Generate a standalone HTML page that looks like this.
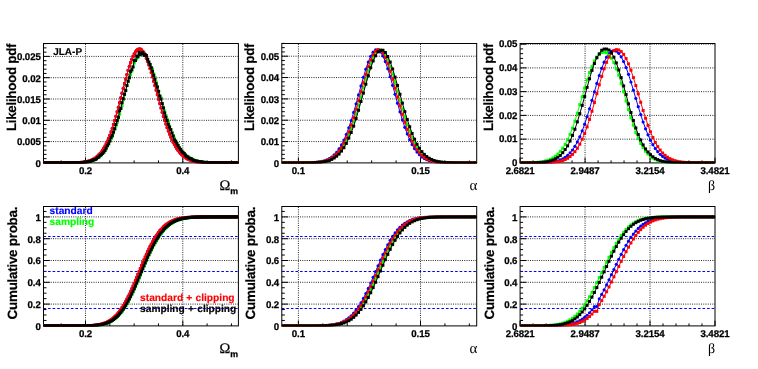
<!DOCTYPE html><html><head><meta charset="utf-8"><title>JLA-P likelihoods</title>
<style>html,body{margin:0;padding:0;background:#fff}body{width:758px;height:369px;overflow:hidden}svg{display:block;will-change:transform;text-rendering:geometricPrecision;font-family:"Liberation Sans",sans-serif}</style></head><body>
<svg width="758" height="369" viewBox="0 0 758 369">
<rect width="758" height="369" fill="#fff"/>
<g stroke="#2a2a2a" stroke-width="1" stroke-dasharray="1 1.25" fill="none">
<path d="M85.5 162V43.5"/>
<path d="M182.8 162V43.5"/>
<path d="M44 141.6H238.4"/>
<path d="M44 120.3H238.4"/>
<path d="M44 99H238.4"/>
<path d="M44 77.7H238.4"/>
<path d="M44 56.4H238.4"/>
</g>
<rect x="43.5" y="43.5" width="194.9" height="119.4" fill="none" stroke="#000" stroke-width="1"/>
<path d="M61.18 162.9v-2.5M85.5 162.9v-5.2M109.82 162.9v-2.5M134.15 162.9v-2.5M158.48 162.9v-2.5M182.8 162.9v-5.2M207.12 162.9v-2.5M231.45 162.9v-2.5M43.5 162.9h6.3M43.5 158.64h3M43.5 154.38h3M43.5 150.12h3M43.5 145.86h3M43.5 141.6h6.3M43.5 137.34h3M43.5 133.08h3M43.5 128.82h3M43.5 124.56h3M43.5 120.3h6.3M43.5 116.04h3M43.5 111.78h3M43.5 107.52h3M43.5 103.26h3M43.5 99h6.3M43.5 94.74h3M43.5 90.48h3M43.5 86.22h3M43.5 81.96h3M43.5 77.7h6.3M43.5 73.44h3M43.5 69.18h3M43.5 64.92h3M43.5 60.66h3M43.5 56.4h6.3M43.5 52.14h3M43.5 47.88h3M43.5 43.62h3" stroke="#000" stroke-width="1" fill="none"/>
<g font-size="9.7" font-weight="bold" letter-spacing="-0.12" stroke="#000" stroke-width="0.25">
<text x="85.5" y="174.2" text-anchor="middle">0.2</text>
<text x="182.8" y="174.2" text-anchor="middle">0.4</text>
<text x="40.7" y="166.7" text-anchor="end">0</text>
<text x="40.7" y="145.4" text-anchor="end">0.005</text>
<text x="40.7" y="124.1" text-anchor="end">0.01</text>
<text x="40.7" y="102.8" text-anchor="end">0.015</text>
<text x="40.7" y="81.5" text-anchor="end">0.02</text>
<text x="40.7" y="60.2" text-anchor="end">0.025</text>
</g>
<text transform="translate(15.5 43.8) rotate(-90)" text-anchor="end" font-size="13.4" font-weight="bold" letter-spacing="-0.3" stroke="#000" stroke-width="0.2">Likelihood pdf</text>
<text x="219.6" y="190.1" font-family="Liberation Serif" font-size="14.5" stroke="#000" stroke-width="0.25">Ω</text>
<text x="230.2" y="193.9" font-size="8.8" font-weight="bold" stroke="#000" stroke-width="0.25">m</text>
<clipPath id="c00"><rect x="43" y="40.5" width="195.9" height="123.1"/></clipPath><g clip-path="url(#c00)">
<path d="M44.11 162.9L45.33 162.9L46.55 162.9L47.76 162.9L48.98 162.9L50.2 162.9L51.42 162.9L52.64 162.9L53.85 162.9L55.07 162.9L56.29 162.9L57.51 162.9L58.73 162.9L59.94 162.9L61.16 162.89L62.38 162.89L63.6 162.89L64.82 162.89L66.04 162.88L67.25 162.88L68.47 162.87L69.69 162.86L70.91 162.84L72.13 162.83L73.34 162.8L74.56 162.77L75.78 162.74L77 162.69L78.22 162.63L79.43 162.56L80.65 162.47L81.87 162.36L83.09 162.23L84.31 162.07L85.53 161.87L86.74 161.63L87.96 161.33L89.18 160.99L90.4 160.58L91.62 160.09L92.83 159.51L94.05 158.84L95.27 158.06L96.49 157.15L97.71 156.11L98.92 154.91L100.14 153.55L101.36 152.01L102.58 150.28L103.8 148.35L105.02 146.19L106.23 143.81L107.45 141.2L108.67 138.34L109.89 135.24L111.11 131.9L112.32 128.32L113.54 124.51L114.76 120.49L115.98 116.26L117.2 111.87L118.41 107.32L119.63 102.66L120.85 97.92L122.07 93.14L123.29 88.37L124.51 83.66L125.72 79.05L126.94 74.59L128.16 70.34L129.38 66.35L130.6 62.67L131.81 59.35L133.03 56.43L134.25 53.94L135.47 51.94L136.69 50.43L137.9 49.45L139.12 49.01L140.34 49.16L141.56 49.94L142.78 51.28L144 53.14L145.21 55.46L146.43 58.21L147.65 61.35L148.87 64.82L150.09 68.59L151.3 72.59L152.52 76.79L153.74 81.14L154.96 85.59L156.18 90.1L157.39 94.63L158.61 99.13L159.83 103.57L161.05 107.93L162.27 112.17L163.49 116.27L164.7 120.2L165.92 123.96L167.14 127.52L168.36 130.88L169.58 134.04L170.79 136.98L172.01 139.71L173.23 142.24L174.45 144.55L175.67 146.68L176.88 148.6L178.1 150.35L179.32 151.93L180.54 153.34L181.76 154.6L182.98 155.72L184.19 156.72L185.41 157.59L186.63 158.36L187.85 159.03L189.07 159.62L190.28 160.12L191.5 160.56L192.72 160.94L193.94 161.26L195.16 161.53L196.37 161.76L197.59 161.96L198.81 162.12L200.03 162.26L201.25 162.38L202.47 162.47L203.68 162.55L204.9 162.62L206.12 162.67L207.34 162.72L208.56 162.75L209.77 162.78L210.99 162.81L212.21 162.83L213.43 162.84L214.65 162.85L215.86 162.86L217.08 162.87L218.3 162.88L219.52 162.88L220.74 162.89L221.96 162.89L223.17 162.89L224.39 162.89L225.61 162.9L226.83 162.9L228.05 162.9L229.26 162.9L230.48 162.9L231.7 162.9L232.92 162.9L234.14 162.9L235.35 162.9L236.57 162.9L237.79 162.9" stroke="#0000ff" stroke-width="1" fill="none"/>
<g fill="#0000ff"><circle cx="44.11" cy="162.9" r="1.6"/><circle cx="45.33" cy="162.9" r="1.6"/><circle cx="46.55" cy="162.9" r="1.6"/><circle cx="47.76" cy="162.9" r="1.6"/><circle cx="48.98" cy="162.9" r="1.6"/><circle cx="50.2" cy="162.9" r="1.6"/><circle cx="51.42" cy="162.9" r="1.6"/><circle cx="52.64" cy="162.9" r="1.6"/><circle cx="53.85" cy="162.9" r="1.6"/><circle cx="55.07" cy="162.9" r="1.6"/><circle cx="56.29" cy="162.9" r="1.6"/><circle cx="57.51" cy="162.9" r="1.6"/><circle cx="58.73" cy="162.9" r="1.6"/><circle cx="59.94" cy="162.9" r="1.6"/><circle cx="61.16" cy="162.89" r="1.6"/><circle cx="62.38" cy="162.89" r="1.6"/><circle cx="63.6" cy="162.89" r="1.6"/><circle cx="64.82" cy="162.89" r="1.6"/><circle cx="66.04" cy="162.88" r="1.6"/><circle cx="67.25" cy="162.88" r="1.6"/><circle cx="68.47" cy="162.87" r="1.6"/><circle cx="69.69" cy="162.86" r="1.6"/><circle cx="70.91" cy="162.84" r="1.6"/><circle cx="72.13" cy="162.83" r="1.6"/><circle cx="73.34" cy="162.8" r="1.6"/><circle cx="74.56" cy="162.77" r="1.6"/><circle cx="75.78" cy="162.74" r="1.6"/><circle cx="77" cy="162.69" r="1.6"/><circle cx="78.22" cy="162.63" r="1.6"/><circle cx="79.43" cy="162.56" r="1.6"/><circle cx="80.65" cy="162.47" r="1.6"/><circle cx="81.87" cy="162.36" r="1.6"/><circle cx="83.09" cy="162.23" r="1.6"/><circle cx="84.31" cy="162.07" r="1.6"/><circle cx="85.53" cy="161.87" r="1.6"/><circle cx="86.74" cy="161.63" r="1.6"/><circle cx="87.96" cy="161.33" r="1.6"/><circle cx="89.18" cy="160.99" r="1.6"/><circle cx="90.4" cy="160.58" r="1.6"/><circle cx="91.62" cy="160.09" r="1.6"/><circle cx="92.83" cy="159.51" r="1.6"/><circle cx="94.05" cy="158.84" r="1.6"/><circle cx="95.27" cy="158.06" r="1.6"/><circle cx="96.49" cy="157.15" r="1.6"/><circle cx="97.71" cy="156.11" r="1.6"/><circle cx="98.92" cy="154.91" r="1.6"/><circle cx="100.14" cy="153.55" r="1.6"/><circle cx="101.36" cy="152.01" r="1.6"/><circle cx="102.58" cy="150.28" r="1.6"/><circle cx="103.8" cy="148.35" r="1.6"/><circle cx="105.02" cy="146.19" r="1.6"/><circle cx="106.23" cy="143.81" r="1.6"/><circle cx="107.45" cy="141.2" r="1.6"/><circle cx="108.67" cy="138.34" r="1.6"/><circle cx="109.89" cy="135.24" r="1.6"/><circle cx="111.11" cy="131.9" r="1.6"/><circle cx="112.32" cy="128.32" r="1.6"/><circle cx="113.54" cy="124.51" r="1.6"/><circle cx="114.76" cy="120.49" r="1.6"/><circle cx="115.98" cy="116.26" r="1.6"/><circle cx="117.2" cy="111.87" r="1.6"/><circle cx="118.41" cy="107.32" r="1.6"/><circle cx="119.63" cy="102.66" r="1.6"/><circle cx="120.85" cy="97.92" r="1.6"/><circle cx="122.07" cy="93.14" r="1.6"/><circle cx="123.29" cy="88.37" r="1.6"/><circle cx="124.51" cy="83.66" r="1.6"/><circle cx="125.72" cy="79.05" r="1.6"/><circle cx="126.94" cy="74.59" r="1.6"/><circle cx="128.16" cy="70.34" r="1.6"/><circle cx="129.38" cy="66.35" r="1.6"/><circle cx="130.6" cy="62.67" r="1.6"/><circle cx="131.81" cy="59.35" r="1.6"/><circle cx="133.03" cy="56.43" r="1.6"/><circle cx="134.25" cy="53.94" r="1.6"/><circle cx="135.47" cy="51.94" r="1.6"/><circle cx="136.69" cy="50.43" r="1.6"/><circle cx="137.9" cy="49.45" r="1.6"/><circle cx="139.12" cy="49.01" r="1.6"/><circle cx="140.34" cy="49.16" r="1.6"/><circle cx="141.56" cy="49.94" r="1.6"/><circle cx="142.78" cy="51.28" r="1.6"/><circle cx="144" cy="53.14" r="1.6"/><circle cx="145.21" cy="55.46" r="1.6"/><circle cx="146.43" cy="58.21" r="1.6"/><circle cx="147.65" cy="61.35" r="1.6"/><circle cx="148.87" cy="64.82" r="1.6"/><circle cx="150.09" cy="68.59" r="1.6"/><circle cx="151.3" cy="72.59" r="1.6"/><circle cx="152.52" cy="76.79" r="1.6"/><circle cx="153.74" cy="81.14" r="1.6"/><circle cx="154.96" cy="85.59" r="1.6"/><circle cx="156.18" cy="90.1" r="1.6"/><circle cx="157.39" cy="94.63" r="1.6"/><circle cx="158.61" cy="99.13" r="1.6"/><circle cx="159.83" cy="103.57" r="1.6"/><circle cx="161.05" cy="107.93" r="1.6"/><circle cx="162.27" cy="112.17" r="1.6"/><circle cx="163.49" cy="116.27" r="1.6"/><circle cx="164.7" cy="120.2" r="1.6"/><circle cx="165.92" cy="123.96" r="1.6"/><circle cx="167.14" cy="127.52" r="1.6"/><circle cx="168.36" cy="130.88" r="1.6"/><circle cx="169.58" cy="134.04" r="1.6"/><circle cx="170.79" cy="136.98" r="1.6"/><circle cx="172.01" cy="139.71" r="1.6"/><circle cx="173.23" cy="142.24" r="1.6"/><circle cx="174.45" cy="144.55" r="1.6"/><circle cx="175.67" cy="146.68" r="1.6"/><circle cx="176.88" cy="148.6" r="1.6"/><circle cx="178.1" cy="150.35" r="1.6"/><circle cx="179.32" cy="151.93" r="1.6"/><circle cx="180.54" cy="153.34" r="1.6"/><circle cx="181.76" cy="154.6" r="1.6"/><circle cx="182.98" cy="155.72" r="1.6"/><circle cx="184.19" cy="156.72" r="1.6"/><circle cx="185.41" cy="157.59" r="1.6"/><circle cx="186.63" cy="158.36" r="1.6"/><circle cx="187.85" cy="159.03" r="1.6"/><circle cx="189.07" cy="159.62" r="1.6"/><circle cx="190.28" cy="160.12" r="1.6"/><circle cx="191.5" cy="160.56" r="1.6"/><circle cx="192.72" cy="160.94" r="1.6"/><circle cx="193.94" cy="161.26" r="1.6"/><circle cx="195.16" cy="161.53" r="1.6"/><circle cx="196.37" cy="161.76" r="1.6"/><circle cx="197.59" cy="161.96" r="1.6"/><circle cx="198.81" cy="162.12" r="1.6"/><circle cx="200.03" cy="162.26" r="1.6"/><circle cx="201.25" cy="162.38" r="1.6"/><circle cx="202.47" cy="162.47" r="1.6"/><circle cx="203.68" cy="162.55" r="1.6"/><circle cx="204.9" cy="162.62" r="1.6"/><circle cx="206.12" cy="162.67" r="1.6"/><circle cx="207.34" cy="162.72" r="1.6"/><circle cx="208.56" cy="162.75" r="1.6"/><circle cx="209.77" cy="162.78" r="1.6"/><circle cx="210.99" cy="162.81" r="1.6"/><circle cx="212.21" cy="162.83" r="1.6"/><circle cx="213.43" cy="162.84" r="1.6"/><circle cx="214.65" cy="162.85" r="1.6"/><circle cx="215.86" cy="162.86" r="1.6"/><circle cx="217.08" cy="162.87" r="1.6"/><circle cx="218.3" cy="162.88" r="1.6"/><circle cx="219.52" cy="162.88" r="1.6"/><circle cx="220.74" cy="162.89" r="1.6"/><circle cx="221.96" cy="162.89" r="1.6"/><circle cx="223.17" cy="162.89" r="1.6"/><circle cx="224.39" cy="162.89" r="1.6"/><circle cx="225.61" cy="162.9" r="1.6"/><circle cx="226.83" cy="162.9" r="1.6"/><circle cx="228.05" cy="162.9" r="1.6"/><circle cx="229.26" cy="162.9" r="1.6"/><circle cx="230.48" cy="162.9" r="1.6"/><circle cx="231.7" cy="162.9" r="1.6"/><circle cx="232.92" cy="162.9" r="1.6"/><circle cx="234.14" cy="162.9" r="1.6"/><circle cx="235.35" cy="162.9" r="1.6"/><circle cx="236.57" cy="162.9" r="1.6"/><circle cx="237.79" cy="162.9" r="1.6"/></g>
<path d="M44.11 162.9L45.33 162.9L46.55 162.9L47.76 162.9L48.98 162.9L50.2 162.9L51.42 162.9L52.64 162.9L53.85 162.9L55.07 162.9L56.29 162.9L57.51 162.9L58.73 162.9L59.94 162.9L61.16 162.9L62.38 162.9L63.6 162.89L64.82 162.89L66.04 162.88L67.25 162.87L68.47 162.87L69.69 162.86L70.91 162.87L72.13 162.88L73.34 162.87L74.56 162.8L75.78 162.84L77 162.79L78.22 162.72L79.43 162.64L80.65 162.71L81.87 162.6L83.09 162.5L84.31 162.38L85.53 162.2L86.74 161.96L87.96 161.77L89.18 161.29L90.4 161.11L91.62 161.1L92.83 160.72L94.05 160.06L95.27 159.5L96.49 158.59L97.71 157.88L98.92 156.93L100.14 156.07L101.36 154.78L102.58 153.45L103.8 152.11L105.02 150.17L106.23 148.93L107.45 146.03L108.67 143.83L109.89 140.36L111.11 138.8L112.32 136.48L113.54 132.87L114.76 129.22L115.98 125.88L117.2 122.3L118.41 117.79L119.63 114.22L120.85 108.28L122.07 105.57L123.29 99.64L124.51 94.77L125.72 90.61L126.94 85.38L128.16 81.71L129.38 77.08L130.6 74.44L131.81 70.95L133.03 66.84L134.25 63.06L135.47 59.51L136.69 59.08L137.9 56.61L139.12 55.26L140.34 52.83L141.56 53.6L142.78 52.1L144 54.1L145.21 55.61L146.43 57.22L147.65 60.18L148.87 63.46L150.09 64.48L151.3 67.79L152.52 68.82L153.74 73.9L154.96 77.41L156.18 82.05L157.39 86.44L158.61 91.59L159.83 95.67L161.05 97.99L162.27 103.52L163.49 107.64L164.7 110.91L165.92 115.45L167.14 119.25L168.36 121.64L169.58 126.03L170.79 129.73L172.01 132.84L173.23 135.9L174.45 138.14L175.67 140.61L176.88 143.41L178.1 145.44L179.32 147.87L180.54 149.23L181.76 150.56L182.98 152.53L184.19 153.62L185.41 154.97L186.63 155.96L187.85 156.74L189.07 157.84L190.28 158.17L191.5 158.81L192.72 159.41L193.94 160.22L195.16 160.78L196.37 160.96L197.59 161.19L198.81 161.49L200.03 161.73L201.25 161.91L202.47 162.11L203.68 162.17L204.9 162.43L206.12 162.42L207.34 162.5L208.56 162.62L209.77 162.49L210.99 162.69L212.21 162.73L213.43 162.81L214.65 162.79L215.86 162.81L217.08 162.81L218.3 162.86L219.52 162.84L220.74 162.89L221.96 162.87L223.17 162.9L224.39 162.88L225.61 162.88L226.83 162.9L228.05 162.89L229.26 162.89L230.48 162.9L231.7 162.9L232.92 162.9L234.14 162.9L235.35 162.89L236.57 162.9L237.79 162.9" stroke="#00ff00" stroke-width="1" fill="none"/>
<g fill="#00ff00"><rect x="42.61" y="161.4" width="3" height="3"/><rect x="43.83" y="161.4" width="3" height="3"/><rect x="45.05" y="161.4" width="3" height="3"/><rect x="46.26" y="161.4" width="3" height="3"/><rect x="47.48" y="161.4" width="3" height="3"/><rect x="48.7" y="161.4" width="3" height="3"/><rect x="49.92" y="161.4" width="3" height="3"/><rect x="51.14" y="161.4" width="3" height="3"/><rect x="52.35" y="161.4" width="3" height="3"/><rect x="53.57" y="161.4" width="3" height="3"/><rect x="54.79" y="161.4" width="3" height="3"/><rect x="56.01" y="161.4" width="3" height="3"/><rect x="57.23" y="161.4" width="3" height="3"/><rect x="58.44" y="161.4" width="3" height="3"/><rect x="59.66" y="161.4" width="3" height="3"/><rect x="60.88" y="161.4" width="3" height="3"/><rect x="62.1" y="161.39" width="3" height="3"/><rect x="63.32" y="161.39" width="3" height="3"/><rect x="64.54" y="161.38" width="3" height="3"/><rect x="65.75" y="161.37" width="3" height="3"/><rect x="66.97" y="161.37" width="3" height="3"/><rect x="68.19" y="161.36" width="3" height="3"/><rect x="69.41" y="161.37" width="3" height="3"/><rect x="70.63" y="161.38" width="3" height="3"/><rect x="71.84" y="161.37" width="3" height="3"/><rect x="73.06" y="161.3" width="3" height="3"/><rect x="74.28" y="161.34" width="3" height="3"/><rect x="75.5" y="161.29" width="3" height="3"/><rect x="76.72" y="161.22" width="3" height="3"/><rect x="77.93" y="161.14" width="3" height="3"/><rect x="79.15" y="161.21" width="3" height="3"/><rect x="80.37" y="161.1" width="3" height="3"/><rect x="81.59" y="161" width="3" height="3"/><rect x="82.81" y="160.88" width="3" height="3"/><rect x="84.03" y="160.7" width="3" height="3"/><rect x="85.24" y="160.46" width="3" height="3"/><rect x="86.46" y="160.27" width="3" height="3"/><rect x="87.68" y="159.79" width="3" height="3"/><rect x="88.9" y="159.61" width="3" height="3"/><rect x="90.12" y="159.6" width="3" height="3"/><rect x="91.33" y="159.22" width="3" height="3"/><rect x="92.55" y="158.56" width="3" height="3"/><rect x="93.77" y="158" width="3" height="3"/><rect x="94.99" y="157.09" width="3" height="3"/><rect x="96.21" y="156.38" width="3" height="3"/><rect x="97.42" y="155.43" width="3" height="3"/><rect x="98.64" y="154.57" width="3" height="3"/><rect x="99.86" y="153.28" width="3" height="3"/><rect x="101.08" y="151.95" width="3" height="3"/><rect x="102.3" y="150.61" width="3" height="3"/><rect x="103.52" y="148.67" width="3" height="3"/><rect x="104.73" y="147.43" width="3" height="3"/><rect x="105.95" y="144.53" width="3" height="3"/><rect x="107.17" y="142.33" width="3" height="3"/><rect x="108.39" y="138.86" width="3" height="3"/><rect x="109.61" y="137.3" width="3" height="3"/><rect x="110.82" y="134.98" width="3" height="3"/><rect x="112.04" y="131.37" width="3" height="3"/><rect x="113.26" y="127.72" width="3" height="3"/><rect x="114.48" y="124.38" width="3" height="3"/><rect x="115.7" y="120.8" width="3" height="3"/><rect x="116.91" y="116.29" width="3" height="3"/><rect x="118.13" y="112.72" width="3" height="3"/><rect x="119.35" y="106.78" width="3" height="3"/><rect x="120.57" y="104.07" width="3" height="3"/><rect x="121.79" y="98.14" width="3" height="3"/><rect x="123.01" y="93.27" width="3" height="3"/><rect x="124.22" y="89.11" width="3" height="3"/><rect x="125.44" y="83.88" width="3" height="3"/><rect x="126.66" y="80.21" width="3" height="3"/><rect x="127.88" y="75.58" width="3" height="3"/><rect x="129.1" y="72.94" width="3" height="3"/><rect x="130.31" y="69.45" width="3" height="3"/><rect x="131.53" y="65.34" width="3" height="3"/><rect x="132.75" y="61.56" width="3" height="3"/><rect x="133.97" y="58.01" width="3" height="3"/><rect x="135.19" y="57.58" width="3" height="3"/><rect x="136.4" y="55.11" width="3" height="3"/><rect x="137.62" y="53.76" width="3" height="3"/><rect x="138.84" y="51.33" width="3" height="3"/><rect x="140.06" y="52.1" width="3" height="3"/><rect x="141.28" y="50.6" width="3" height="3"/><rect x="142.5" y="52.6" width="3" height="3"/><rect x="143.71" y="54.11" width="3" height="3"/><rect x="144.93" y="55.72" width="3" height="3"/><rect x="146.15" y="58.68" width="3" height="3"/><rect x="147.37" y="61.96" width="3" height="3"/><rect x="148.59" y="62.98" width="3" height="3"/><rect x="149.8" y="66.29" width="3" height="3"/><rect x="151.02" y="67.32" width="3" height="3"/><rect x="152.24" y="72.4" width="3" height="3"/><rect x="153.46" y="75.91" width="3" height="3"/><rect x="154.68" y="80.55" width="3" height="3"/><rect x="155.89" y="84.94" width="3" height="3"/><rect x="157.11" y="90.09" width="3" height="3"/><rect x="158.33" y="94.17" width="3" height="3"/><rect x="159.55" y="96.49" width="3" height="3"/><rect x="160.77" y="102.02" width="3" height="3"/><rect x="161.99" y="106.14" width="3" height="3"/><rect x="163.2" y="109.41" width="3" height="3"/><rect x="164.42" y="113.95" width="3" height="3"/><rect x="165.64" y="117.75" width="3" height="3"/><rect x="166.86" y="120.14" width="3" height="3"/><rect x="168.08" y="124.53" width="3" height="3"/><rect x="169.29" y="128.23" width="3" height="3"/><rect x="170.51" y="131.34" width="3" height="3"/><rect x="171.73" y="134.4" width="3" height="3"/><rect x="172.95" y="136.64" width="3" height="3"/><rect x="174.17" y="139.11" width="3" height="3"/><rect x="175.38" y="141.91" width="3" height="3"/><rect x="176.6" y="143.94" width="3" height="3"/><rect x="177.82" y="146.37" width="3" height="3"/><rect x="179.04" y="147.73" width="3" height="3"/><rect x="180.26" y="149.06" width="3" height="3"/><rect x="181.48" y="151.03" width="3" height="3"/><rect x="182.69" y="152.12" width="3" height="3"/><rect x="183.91" y="153.47" width="3" height="3"/><rect x="185.13" y="154.46" width="3" height="3"/><rect x="186.35" y="155.24" width="3" height="3"/><rect x="187.57" y="156.34" width="3" height="3"/><rect x="188.78" y="156.67" width="3" height="3"/><rect x="190" y="157.31" width="3" height="3"/><rect x="191.22" y="157.91" width="3" height="3"/><rect x="192.44" y="158.72" width="3" height="3"/><rect x="193.66" y="159.28" width="3" height="3"/><rect x="194.87" y="159.46" width="3" height="3"/><rect x="196.09" y="159.69" width="3" height="3"/><rect x="197.31" y="159.99" width="3" height="3"/><rect x="198.53" y="160.23" width="3" height="3"/><rect x="199.75" y="160.41" width="3" height="3"/><rect x="200.97" y="160.61" width="3" height="3"/><rect x="202.18" y="160.67" width="3" height="3"/><rect x="203.4" y="160.93" width="3" height="3"/><rect x="204.62" y="160.92" width="3" height="3"/><rect x="205.84" y="161" width="3" height="3"/><rect x="207.06" y="161.12" width="3" height="3"/><rect x="208.27" y="160.99" width="3" height="3"/><rect x="209.49" y="161.19" width="3" height="3"/><rect x="210.71" y="161.23" width="3" height="3"/><rect x="211.93" y="161.31" width="3" height="3"/><rect x="213.15" y="161.29" width="3" height="3"/><rect x="214.36" y="161.31" width="3" height="3"/><rect x="215.58" y="161.31" width="3" height="3"/><rect x="216.8" y="161.36" width="3" height="3"/><rect x="218.02" y="161.34" width="3" height="3"/><rect x="219.24" y="161.39" width="3" height="3"/><rect x="220.46" y="161.37" width="3" height="3"/><rect x="221.67" y="161.4" width="3" height="3"/><rect x="222.89" y="161.38" width="3" height="3"/><rect x="224.11" y="161.38" width="3" height="3"/><rect x="225.33" y="161.4" width="3" height="3"/><rect x="226.55" y="161.39" width="3" height="3"/><rect x="227.76" y="161.39" width="3" height="3"/><rect x="228.98" y="161.4" width="3" height="3"/><rect x="230.2" y="161.4" width="3" height="3"/><rect x="231.42" y="161.4" width="3" height="3"/><rect x="232.64" y="161.4" width="3" height="3"/><rect x="233.85" y="161.39" width="3" height="3"/><rect x="235.07" y="161.4" width="3" height="3"/><rect x="236.29" y="161.4" width="3" height="3"/></g>
<path d="M44.11 162.9L45.33 162.9L46.55 162.9L47.76 162.9L48.98 162.9L50.2 162.9L51.42 162.9L52.64 162.9L53.85 162.9L55.07 162.9L56.29 162.9L57.51 162.9L58.73 162.9L59.94 162.9L61.16 162.89L62.38 162.89L63.6 162.89L64.82 162.89L66.04 162.88L67.25 162.88L68.47 162.87L69.69 162.86L70.91 162.84L72.13 162.83L73.34 162.8L74.56 162.77L75.78 162.74L77 162.69L78.22 162.63L79.43 162.56L80.65 162.47L81.87 162.36L83.09 162.23L84.31 162.07L85.53 161.87L86.74 161.63L87.96 161.33L89.18 160.99L90.4 160.58L91.62 160.09L92.83 159.51L94.05 158.84L95.27 158.06L96.49 157.15L97.71 156.11L98.92 154.91L100.14 153.55L101.36 152.01L102.58 150.28L103.8 148.35L105.02 146.19L106.23 143.81L107.45 141.2L108.67 138.34L109.89 135.24L111.11 131.9L112.32 128.32L113.54 124.51L114.76 120.49L115.98 116.26L117.2 111.87L118.41 107.32L119.63 102.66L120.85 97.92L122.07 93.14L123.29 88.37L124.51 83.66L125.72 79.05L126.94 74.59L128.16 70.34L129.38 66.35L130.6 62.67L131.81 59.35L133.03 56.43L134.25 53.94L135.47 51.94L136.69 50.43L137.9 49.45L139.12 49.01L140.34 49.16L141.56 49.94L142.78 51.28L144 53.14L145.21 55.46L146.43 58.21L147.65 61.35L148.87 64.82L150.09 68.59L151.3 72.59L152.52 76.79L153.74 81.14L154.96 85.59L156.18 90.1L157.39 94.63L158.61 99.13L159.83 103.57L161.05 107.93L162.27 112.17L163.49 116.27L164.7 120.2L165.92 123.96L167.14 127.52L168.36 130.88L169.58 134.04L170.79 136.98L172.01 139.71L173.23 142.24L174.45 144.55L175.67 146.68L176.88 148.6L178.1 150.35L179.32 151.93L180.54 153.34L181.76 154.6L182.98 155.72L184.19 156.72L185.41 157.59L186.63 158.36L187.85 159.03L189.07 159.62L190.28 160.12L191.5 160.56L192.72 160.94L193.94 161.26L195.16 161.53L196.37 161.76L197.59 161.96L198.81 162.12L200.03 162.26L201.25 162.38L202.47 162.47L203.68 162.55L204.9 162.62L206.12 162.67L207.34 162.72L208.56 162.75L209.77 162.78L210.99 162.81L212.21 162.83L213.43 162.84L214.65 162.85L215.86 162.86L217.08 162.87L218.3 162.88L219.52 162.88L220.74 162.89L221.96 162.89L223.17 162.89L224.39 162.89L225.61 162.9L226.83 162.9L228.05 162.9L229.26 162.9L230.48 162.9L231.7 162.9L232.92 162.9L234.14 162.9L235.35 162.9L236.57 162.9L237.79 162.9" stroke="#ff0000" stroke-width="1" fill="none"/>
<g fill="#ff0000"><rect x="42.61" y="161.4" width="3" height="3"/><rect x="43.83" y="161.4" width="3" height="3"/><rect x="45.05" y="161.4" width="3" height="3"/><rect x="46.26" y="161.4" width="3" height="3"/><rect x="47.48" y="161.4" width="3" height="3"/><rect x="48.7" y="161.4" width="3" height="3"/><rect x="49.92" y="161.4" width="3" height="3"/><rect x="51.14" y="161.4" width="3" height="3"/><rect x="52.35" y="161.4" width="3" height="3"/><rect x="53.57" y="161.4" width="3" height="3"/><rect x="54.79" y="161.4" width="3" height="3"/><rect x="56.01" y="161.4" width="3" height="3"/><rect x="57.23" y="161.4" width="3" height="3"/><rect x="58.44" y="161.4" width="3" height="3"/><rect x="59.66" y="161.39" width="3" height="3"/><rect x="60.88" y="161.39" width="3" height="3"/><rect x="62.1" y="161.39" width="3" height="3"/><rect x="63.32" y="161.39" width="3" height="3"/><rect x="64.54" y="161.38" width="3" height="3"/><rect x="65.75" y="161.38" width="3" height="3"/><rect x="66.97" y="161.37" width="3" height="3"/><rect x="68.19" y="161.36" width="3" height="3"/><rect x="69.41" y="161.34" width="3" height="3"/><rect x="70.63" y="161.33" width="3" height="3"/><rect x="71.84" y="161.3" width="3" height="3"/><rect x="73.06" y="161.27" width="3" height="3"/><rect x="74.28" y="161.24" width="3" height="3"/><rect x="75.5" y="161.19" width="3" height="3"/><rect x="76.72" y="161.13" width="3" height="3"/><rect x="77.93" y="161.06" width="3" height="3"/><rect x="79.15" y="160.97" width="3" height="3"/><rect x="80.37" y="160.86" width="3" height="3"/><rect x="81.59" y="160.73" width="3" height="3"/><rect x="82.81" y="160.57" width="3" height="3"/><rect x="84.03" y="160.37" width="3" height="3"/><rect x="85.24" y="160.13" width="3" height="3"/><rect x="86.46" y="159.83" width="3" height="3"/><rect x="87.68" y="159.49" width="3" height="3"/><rect x="88.9" y="159.08" width="3" height="3"/><rect x="90.12" y="158.59" width="3" height="3"/><rect x="91.33" y="158.01" width="3" height="3"/><rect x="92.55" y="157.34" width="3" height="3"/><rect x="93.77" y="156.56" width="3" height="3"/><rect x="94.99" y="155.65" width="3" height="3"/><rect x="96.21" y="154.61" width="3" height="3"/><rect x="97.42" y="153.41" width="3" height="3"/><rect x="98.64" y="152.05" width="3" height="3"/><rect x="99.86" y="150.51" width="3" height="3"/><rect x="101.08" y="148.78" width="3" height="3"/><rect x="102.3" y="146.85" width="3" height="3"/><rect x="103.52" y="144.69" width="3" height="3"/><rect x="104.73" y="142.31" width="3" height="3"/><rect x="105.95" y="139.7" width="3" height="3"/><rect x="107.17" y="136.84" width="3" height="3"/><rect x="108.39" y="133.74" width="3" height="3"/><rect x="109.61" y="130.4" width="3" height="3"/><rect x="110.82" y="126.82" width="3" height="3"/><rect x="112.04" y="123.01" width="3" height="3"/><rect x="113.26" y="118.99" width="3" height="3"/><rect x="114.48" y="114.76" width="3" height="3"/><rect x="115.7" y="110.37" width="3" height="3"/><rect x="116.91" y="105.82" width="3" height="3"/><rect x="118.13" y="101.16" width="3" height="3"/><rect x="119.35" y="96.42" width="3" height="3"/><rect x="120.57" y="91.64" width="3" height="3"/><rect x="121.79" y="86.87" width="3" height="3"/><rect x="123.01" y="82.16" width="3" height="3"/><rect x="124.22" y="77.55" width="3" height="3"/><rect x="125.44" y="73.09" width="3" height="3"/><rect x="126.66" y="68.84" width="3" height="3"/><rect x="127.88" y="64.85" width="3" height="3"/><rect x="129.1" y="61.17" width="3" height="3"/><rect x="130.31" y="57.85" width="3" height="3"/><rect x="131.53" y="54.93" width="3" height="3"/><rect x="132.75" y="52.44" width="3" height="3"/><rect x="133.97" y="50.44" width="3" height="3"/><rect x="135.19" y="48.93" width="3" height="3"/><rect x="136.4" y="47.95" width="3" height="3"/><rect x="137.62" y="47.51" width="3" height="3"/><rect x="138.84" y="47.66" width="3" height="3"/><rect x="140.06" y="48.44" width="3" height="3"/><rect x="141.28" y="49.78" width="3" height="3"/><rect x="142.5" y="51.64" width="3" height="3"/><rect x="143.71" y="53.96" width="3" height="3"/><rect x="144.93" y="56.71" width="3" height="3"/><rect x="146.15" y="59.85" width="3" height="3"/><rect x="147.37" y="63.32" width="3" height="3"/><rect x="148.59" y="67.09" width="3" height="3"/><rect x="149.8" y="71.09" width="3" height="3"/><rect x="151.02" y="75.29" width="3" height="3"/><rect x="152.24" y="79.64" width="3" height="3"/><rect x="153.46" y="84.09" width="3" height="3"/><rect x="154.68" y="88.6" width="3" height="3"/><rect x="155.89" y="93.13" width="3" height="3"/><rect x="157.11" y="97.63" width="3" height="3"/><rect x="158.33" y="102.07" width="3" height="3"/><rect x="159.55" y="106.43" width="3" height="3"/><rect x="160.77" y="110.67" width="3" height="3"/><rect x="161.99" y="114.77" width="3" height="3"/><rect x="163.2" y="118.7" width="3" height="3"/><rect x="164.42" y="122.46" width="3" height="3"/><rect x="165.64" y="126.02" width="3" height="3"/><rect x="166.86" y="129.38" width="3" height="3"/><rect x="168.08" y="132.54" width="3" height="3"/><rect x="169.29" y="135.48" width="3" height="3"/><rect x="170.51" y="138.21" width="3" height="3"/><rect x="171.73" y="140.74" width="3" height="3"/><rect x="172.95" y="143.05" width="3" height="3"/><rect x="174.17" y="145.18" width="3" height="3"/><rect x="175.38" y="147.1" width="3" height="3"/><rect x="176.6" y="148.85" width="3" height="3"/><rect x="177.82" y="150.43" width="3" height="3"/><rect x="179.04" y="151.84" width="3" height="3"/><rect x="180.26" y="153.1" width="3" height="3"/><rect x="181.48" y="154.22" width="3" height="3"/><rect x="182.69" y="155.22" width="3" height="3"/><rect x="183.91" y="156.09" width="3" height="3"/><rect x="185.13" y="156.86" width="3" height="3"/><rect x="186.35" y="157.53" width="3" height="3"/><rect x="187.57" y="158.12" width="3" height="3"/><rect x="188.78" y="158.62" width="3" height="3"/><rect x="190" y="159.06" width="3" height="3"/><rect x="191.22" y="159.44" width="3" height="3"/><rect x="192.44" y="159.76" width="3" height="3"/><rect x="193.66" y="160.03" width="3" height="3"/><rect x="194.87" y="160.26" width="3" height="3"/><rect x="196.09" y="160.46" width="3" height="3"/><rect x="197.31" y="160.62" width="3" height="3"/><rect x="198.53" y="160.76" width="3" height="3"/><rect x="199.75" y="160.88" width="3" height="3"/><rect x="200.97" y="160.97" width="3" height="3"/><rect x="202.18" y="161.05" width="3" height="3"/><rect x="203.4" y="161.12" width="3" height="3"/><rect x="204.62" y="161.17" width="3" height="3"/><rect x="205.84" y="161.22" width="3" height="3"/><rect x="207.06" y="161.25" width="3" height="3"/><rect x="208.27" y="161.28" width="3" height="3"/><rect x="209.49" y="161.31" width="3" height="3"/><rect x="210.71" y="161.33" width="3" height="3"/><rect x="211.93" y="161.34" width="3" height="3"/><rect x="213.15" y="161.35" width="3" height="3"/><rect x="214.36" y="161.36" width="3" height="3"/><rect x="215.58" y="161.37" width="3" height="3"/><rect x="216.8" y="161.38" width="3" height="3"/><rect x="218.02" y="161.38" width="3" height="3"/><rect x="219.24" y="161.39" width="3" height="3"/><rect x="220.46" y="161.39" width="3" height="3"/><rect x="221.67" y="161.39" width="3" height="3"/><rect x="222.89" y="161.39" width="3" height="3"/><rect x="224.11" y="161.4" width="3" height="3"/><rect x="225.33" y="161.4" width="3" height="3"/><rect x="226.55" y="161.4" width="3" height="3"/><rect x="227.76" y="161.4" width="3" height="3"/><rect x="228.98" y="161.4" width="3" height="3"/><rect x="230.2" y="161.4" width="3" height="3"/><rect x="231.42" y="161.4" width="3" height="3"/><rect x="232.64" y="161.4" width="3" height="3"/><rect x="233.85" y="161.4" width="3" height="3"/><rect x="235.07" y="161.4" width="3" height="3"/><rect x="236.29" y="161.4" width="3" height="3"/></g>
<path d="M44.11 162.9L45.33 162.9L46.55 162.9L47.76 162.9L48.98 162.9L50.2 162.9L51.42 162.9L52.64 162.89L53.85 162.9L55.07 162.9L56.29 162.9L57.51 162.9L58.73 162.9L59.94 162.9L61.16 162.9L62.38 162.89L63.6 162.9L64.82 162.9L66.04 162.89L67.25 162.89L68.47 162.88L69.69 162.87L70.91 162.85L72.13 162.83L73.34 162.82L74.56 162.8L75.78 162.79L77 162.72L78.22 162.7L79.43 162.69L80.65 162.63L81.87 162.55L83.09 162.44L84.31 162.25L85.53 162.13L86.74 162.13L87.96 161.79L89.18 161.72L90.4 161.21L91.62 160.93L92.83 160.38L94.05 159.69L95.27 159.51L96.49 158.79L97.71 157.49L98.92 157.06L100.14 155.44L101.36 154.62L102.58 153.38L103.8 152.1L105.02 150.44L106.23 147.94L107.45 145.49L108.67 143.75L109.89 141.05L111.11 137.66L112.32 135.4L113.54 132.08L114.76 128.68L115.98 124.45L117.2 120.61L118.41 117.34L119.63 110.77L120.85 108.46L122.07 102.68L123.29 98.75L124.51 94.28L125.72 90.6L126.94 85.63L128.16 81.23L129.38 77.8L130.6 71.54L131.81 69.67L133.03 66.92L134.25 60.6L135.47 60.54L136.69 55.97L137.9 56.91L139.12 52.41L140.34 54.43L141.56 53.62L142.78 52.56L144 55.26L145.21 54.61L146.43 55.58L147.65 59.27L148.87 62.02L150.09 64.5L151.3 67.71L152.52 71.24L153.74 75.22L154.96 79.16L156.18 83.8L157.39 87.1L158.61 91.33L159.83 96.13L161.05 99.06L162.27 103.72L163.49 107.96L164.7 113.02L165.92 117.1L167.14 120.49L168.36 124.32L169.58 127.16L170.79 129.6L172.01 132.97L173.23 136.01L174.45 139.89L175.67 141.42L176.88 143.62L178.1 145.63L179.32 147.87L180.54 149.43L181.76 151.23L182.98 152.42L184.19 153.52L185.41 155.05L186.63 156.4L187.85 156.87L189.07 158.14L190.28 158.53L191.5 159.01L192.72 159.75L193.94 160.37L195.16 160.75L196.37 161.13L197.59 161.23L198.81 161.58L200.03 161.71L201.25 161.89L202.47 162.17L203.68 162.33L204.9 162.41L206.12 162.47L207.34 162.6L208.56 162.58L209.77 162.62L210.99 162.8L212.21 162.78L213.43 162.81L214.65 162.78L215.86 162.85L217.08 162.83L218.3 162.87L219.52 162.85L220.74 162.88L221.96 162.88L223.17 162.88L224.39 162.9L225.61 162.88L226.83 162.89L228.05 162.89L229.26 162.9L230.48 162.9L231.7 162.89L232.92 162.9L234.14 162.89L235.35 162.9L236.57 162.9L237.79 162.9" stroke="#000000" stroke-width="1" fill="none"/>
<g fill="#000000"><rect x="42.61" y="161.4" width="3" height="3"/><rect x="43.83" y="161.4" width="3" height="3"/><rect x="45.05" y="161.4" width="3" height="3"/><rect x="46.26" y="161.4" width="3" height="3"/><rect x="47.48" y="161.4" width="3" height="3"/><rect x="48.7" y="161.4" width="3" height="3"/><rect x="49.92" y="161.4" width="3" height="3"/><rect x="51.14" y="161.39" width="3" height="3"/><rect x="52.35" y="161.4" width="3" height="3"/><rect x="53.57" y="161.4" width="3" height="3"/><rect x="54.79" y="161.4" width="3" height="3"/><rect x="56.01" y="161.4" width="3" height="3"/><rect x="57.23" y="161.4" width="3" height="3"/><rect x="58.44" y="161.4" width="3" height="3"/><rect x="59.66" y="161.4" width="3" height="3"/><rect x="60.88" y="161.39" width="3" height="3"/><rect x="62.1" y="161.4" width="3" height="3"/><rect x="63.32" y="161.4" width="3" height="3"/><rect x="64.54" y="161.39" width="3" height="3"/><rect x="65.75" y="161.39" width="3" height="3"/><rect x="66.97" y="161.38" width="3" height="3"/><rect x="68.19" y="161.37" width="3" height="3"/><rect x="69.41" y="161.35" width="3" height="3"/><rect x="70.63" y="161.33" width="3" height="3"/><rect x="71.84" y="161.32" width="3" height="3"/><rect x="73.06" y="161.3" width="3" height="3"/><rect x="74.28" y="161.29" width="3" height="3"/><rect x="75.5" y="161.22" width="3" height="3"/><rect x="76.72" y="161.2" width="3" height="3"/><rect x="77.93" y="161.19" width="3" height="3"/><rect x="79.15" y="161.13" width="3" height="3"/><rect x="80.37" y="161.05" width="3" height="3"/><rect x="81.59" y="160.94" width="3" height="3"/><rect x="82.81" y="160.75" width="3" height="3"/><rect x="84.03" y="160.63" width="3" height="3"/><rect x="85.24" y="160.63" width="3" height="3"/><rect x="86.46" y="160.29" width="3" height="3"/><rect x="87.68" y="160.22" width="3" height="3"/><rect x="88.9" y="159.71" width="3" height="3"/><rect x="90.12" y="159.43" width="3" height="3"/><rect x="91.33" y="158.88" width="3" height="3"/><rect x="92.55" y="158.19" width="3" height="3"/><rect x="93.77" y="158.01" width="3" height="3"/><rect x="94.99" y="157.29" width="3" height="3"/><rect x="96.21" y="155.99" width="3" height="3"/><rect x="97.42" y="155.56" width="3" height="3"/><rect x="98.64" y="153.94" width="3" height="3"/><rect x="99.86" y="153.12" width="3" height="3"/><rect x="101.08" y="151.88" width="3" height="3"/><rect x="102.3" y="150.6" width="3" height="3"/><rect x="103.52" y="148.94" width="3" height="3"/><rect x="104.73" y="146.44" width="3" height="3"/><rect x="105.95" y="143.99" width="3" height="3"/><rect x="107.17" y="142.25" width="3" height="3"/><rect x="108.39" y="139.55" width="3" height="3"/><rect x="109.61" y="136.16" width="3" height="3"/><rect x="110.82" y="133.9" width="3" height="3"/><rect x="112.04" y="130.58" width="3" height="3"/><rect x="113.26" y="127.18" width="3" height="3"/><rect x="114.48" y="122.95" width="3" height="3"/><rect x="115.7" y="119.11" width="3" height="3"/><rect x="116.91" y="115.84" width="3" height="3"/><rect x="118.13" y="109.27" width="3" height="3"/><rect x="119.35" y="106.96" width="3" height="3"/><rect x="120.57" y="101.18" width="3" height="3"/><rect x="121.79" y="97.25" width="3" height="3"/><rect x="123.01" y="92.78" width="3" height="3"/><rect x="124.22" y="89.1" width="3" height="3"/><rect x="125.44" y="84.13" width="3" height="3"/><rect x="126.66" y="79.73" width="3" height="3"/><rect x="127.88" y="76.3" width="3" height="3"/><rect x="129.1" y="70.04" width="3" height="3"/><rect x="130.31" y="68.17" width="3" height="3"/><rect x="131.53" y="65.42" width="3" height="3"/><rect x="132.75" y="59.1" width="3" height="3"/><rect x="133.97" y="59.04" width="3" height="3"/><rect x="135.19" y="54.47" width="3" height="3"/><rect x="136.4" y="55.41" width="3" height="3"/><rect x="137.62" y="50.91" width="3" height="3"/><rect x="138.84" y="52.93" width="3" height="3"/><rect x="140.06" y="52.12" width="3" height="3"/><rect x="141.28" y="51.06" width="3" height="3"/><rect x="142.5" y="53.76" width="3" height="3"/><rect x="143.71" y="53.11" width="3" height="3"/><rect x="144.93" y="54.08" width="3" height="3"/><rect x="146.15" y="57.77" width="3" height="3"/><rect x="147.37" y="60.52" width="3" height="3"/><rect x="148.59" y="63" width="3" height="3"/><rect x="149.8" y="66.21" width="3" height="3"/><rect x="151.02" y="69.74" width="3" height="3"/><rect x="152.24" y="73.72" width="3" height="3"/><rect x="153.46" y="77.66" width="3" height="3"/><rect x="154.68" y="82.3" width="3" height="3"/><rect x="155.89" y="85.6" width="3" height="3"/><rect x="157.11" y="89.83" width="3" height="3"/><rect x="158.33" y="94.63" width="3" height="3"/><rect x="159.55" y="97.56" width="3" height="3"/><rect x="160.77" y="102.22" width="3" height="3"/><rect x="161.99" y="106.46" width="3" height="3"/><rect x="163.2" y="111.52" width="3" height="3"/><rect x="164.42" y="115.6" width="3" height="3"/><rect x="165.64" y="118.99" width="3" height="3"/><rect x="166.86" y="122.82" width="3" height="3"/><rect x="168.08" y="125.66" width="3" height="3"/><rect x="169.29" y="128.1" width="3" height="3"/><rect x="170.51" y="131.47" width="3" height="3"/><rect x="171.73" y="134.51" width="3" height="3"/><rect x="172.95" y="138.39" width="3" height="3"/><rect x="174.17" y="139.92" width="3" height="3"/><rect x="175.38" y="142.12" width="3" height="3"/><rect x="176.6" y="144.13" width="3" height="3"/><rect x="177.82" y="146.37" width="3" height="3"/><rect x="179.04" y="147.93" width="3" height="3"/><rect x="180.26" y="149.73" width="3" height="3"/><rect x="181.48" y="150.92" width="3" height="3"/><rect x="182.69" y="152.02" width="3" height="3"/><rect x="183.91" y="153.55" width="3" height="3"/><rect x="185.13" y="154.9" width="3" height="3"/><rect x="186.35" y="155.37" width="3" height="3"/><rect x="187.57" y="156.64" width="3" height="3"/><rect x="188.78" y="157.03" width="3" height="3"/><rect x="190" y="157.51" width="3" height="3"/><rect x="191.22" y="158.25" width="3" height="3"/><rect x="192.44" y="158.87" width="3" height="3"/><rect x="193.66" y="159.25" width="3" height="3"/><rect x="194.87" y="159.63" width="3" height="3"/><rect x="196.09" y="159.73" width="3" height="3"/><rect x="197.31" y="160.08" width="3" height="3"/><rect x="198.53" y="160.21" width="3" height="3"/><rect x="199.75" y="160.39" width="3" height="3"/><rect x="200.97" y="160.67" width="3" height="3"/><rect x="202.18" y="160.83" width="3" height="3"/><rect x="203.4" y="160.91" width="3" height="3"/><rect x="204.62" y="160.97" width="3" height="3"/><rect x="205.84" y="161.1" width="3" height="3"/><rect x="207.06" y="161.08" width="3" height="3"/><rect x="208.27" y="161.12" width="3" height="3"/><rect x="209.49" y="161.3" width="3" height="3"/><rect x="210.71" y="161.28" width="3" height="3"/><rect x="211.93" y="161.31" width="3" height="3"/><rect x="213.15" y="161.28" width="3" height="3"/><rect x="214.36" y="161.35" width="3" height="3"/><rect x="215.58" y="161.33" width="3" height="3"/><rect x="216.8" y="161.37" width="3" height="3"/><rect x="218.02" y="161.35" width="3" height="3"/><rect x="219.24" y="161.38" width="3" height="3"/><rect x="220.46" y="161.38" width="3" height="3"/><rect x="221.67" y="161.38" width="3" height="3"/><rect x="222.89" y="161.4" width="3" height="3"/><rect x="224.11" y="161.38" width="3" height="3"/><rect x="225.33" y="161.39" width="3" height="3"/><rect x="226.55" y="161.39" width="3" height="3"/><rect x="227.76" y="161.4" width="3" height="3"/><rect x="228.98" y="161.4" width="3" height="3"/><rect x="230.2" y="161.39" width="3" height="3"/><rect x="231.42" y="161.4" width="3" height="3"/><rect x="232.64" y="161.39" width="3" height="3"/><rect x="233.85" y="161.4" width="3" height="3"/><rect x="235.07" y="161.4" width="3" height="3"/><rect x="236.29" y="161.4" width="3" height="3"/></g>
</g>
<g stroke="#2a2a2a" stroke-width="1" stroke-dasharray="1 1.25" fill="none">
<path d="M298.4 162V43.5"/>
<path d="M420.5 162V43.5"/>
<path d="M282 141.56H476.7"/>
<path d="M282 120.22H476.7"/>
<path d="M282 98.88H476.7"/>
<path d="M282 77.54H476.7"/>
<path d="M282 56.2H476.7"/>
</g>
<rect x="281.8" y="43.5" width="194.9" height="119.4" fill="none" stroke="#000" stroke-width="1"/>
<path d="M298.4 162.9v-5.2M322.82 162.9v-2.5M347.24 162.9v-2.5M371.66 162.9v-2.5M396.08 162.9v-2.5M420.5 162.9v-5.2M444.92 162.9v-2.5M469.34 162.9v-2.5M281.8 162.9h6.3M281.8 158.63h3M281.8 154.36h3M281.8 150.1h3M281.8 145.83h3M281.8 141.56h6.3M281.8 137.29h3M281.8 133.02h3M281.8 128.76h3M281.8 124.49h3M281.8 120.22h6.3M281.8 115.95h3M281.8 111.68h3M281.8 107.42h3M281.8 103.15h3M281.8 98.88h6.3M281.8 94.61h3M281.8 90.34h3M281.8 86.08h3M281.8 81.81h3M281.8 77.54h6.3M281.8 73.27h3M281.8 69h3M281.8 64.74h3M281.8 60.47h3M281.8 56.2h6.3M281.8 51.93h3M281.8 47.66h3M281.8 43.4h3" stroke="#000" stroke-width="1" fill="none"/>
<g font-size="9.7" font-weight="bold" letter-spacing="-0.12" stroke="#000" stroke-width="0.25">
<text x="298.4" y="174.2" text-anchor="middle">0.1</text>
<text x="420.5" y="174.2" text-anchor="middle">0.15</text>
<text x="279" y="166.7" text-anchor="end">0</text>
<text x="279" y="145.36" text-anchor="end">0.01</text>
<text x="279" y="124.02" text-anchor="end">0.02</text>
<text x="279" y="102.68" text-anchor="end">0.03</text>
<text x="279" y="81.34" text-anchor="end">0.04</text>
<text x="279" y="60" text-anchor="end">0.05</text>
</g>
<text transform="translate(253.9 43.8) rotate(-90)" text-anchor="end" font-size="13.4" font-weight="bold" letter-spacing="-0.3" stroke="#000" stroke-width="0.2">Likelihood pdf</text>
<text x="477.3" y="190.3" font-family="Liberation Serif" font-size="15" text-anchor="end">α</text>
<clipPath id="c10"><rect x="281.3" y="40.5" width="195.9" height="123.1"/></clipPath><g clip-path="url(#c10)">
<path d="M283.02 162.9L285.45 162.9L287.89 162.9L290.33 162.9L292.76 162.89L295.2 162.89L297.64 162.88L300.07 162.87L302.51 162.85L304.94 162.83L307.38 162.78L309.82 162.71L312.25 162.61L314.69 162.45L317.13 162.21L319.56 161.88L322 161.4L324.43 160.74L326.87 159.84L329.31 158.62L331.74 157.01L334.18 154.92L336.62 152.27L339.05 148.96L341.49 144.91L343.92 140.06L346.36 134.36L348.8 127.82L351.23 120.48L353.67 112.43L356.11 103.85L358.54 94.93L360.98 85.97L363.41 77.27L365.85 69.19L368.29 62.08L370.72 56.3L373.16 52.16L375.6 49.92L378.03 49.84L380.47 51.93L382.9 55.95L385.34 61.62L387.78 68.65L390.21 76.67L392.65 85.34L395.09 94.29L397.52 103.22L399.96 111.84L402.39 119.93L404.83 127.33L407.27 133.93L409.7 139.68L412.14 144.59L414.58 148.7L417.01 152.06L419.45 154.75L421.88 156.88L424.32 158.52L426.76 159.76L429.19 160.69L431.63 161.36L434.07 161.85L436.5 162.19L438.94 162.43L441.37 162.6L443.81 162.7L446.25 162.78L448.68 162.82L451.12 162.85L453.56 162.87L455.99 162.88L458.43 162.89L460.86 162.89L463.3 162.9L465.74 162.9L468.17 162.9L470.61 162.9L473.05 162.9L475.48 162.9" stroke="#0000ff" stroke-width="1" fill="none"/>
<g fill="#0000ff"><circle cx="283.02" cy="162.9" r="1.6"/><circle cx="285.45" cy="162.9" r="1.6"/><circle cx="287.89" cy="162.9" r="1.6"/><circle cx="290.33" cy="162.9" r="1.6"/><circle cx="292.76" cy="162.89" r="1.6"/><circle cx="295.2" cy="162.89" r="1.6"/><circle cx="297.64" cy="162.88" r="1.6"/><circle cx="300.07" cy="162.87" r="1.6"/><circle cx="302.51" cy="162.85" r="1.6"/><circle cx="304.94" cy="162.83" r="1.6"/><circle cx="307.38" cy="162.78" r="1.6"/><circle cx="309.82" cy="162.71" r="1.6"/><circle cx="312.25" cy="162.61" r="1.6"/><circle cx="314.69" cy="162.45" r="1.6"/><circle cx="317.13" cy="162.21" r="1.6"/><circle cx="319.56" cy="161.88" r="1.6"/><circle cx="322" cy="161.4" r="1.6"/><circle cx="324.43" cy="160.74" r="1.6"/><circle cx="326.87" cy="159.84" r="1.6"/><circle cx="329.31" cy="158.62" r="1.6"/><circle cx="331.74" cy="157.01" r="1.6"/><circle cx="334.18" cy="154.92" r="1.6"/><circle cx="336.62" cy="152.27" r="1.6"/><circle cx="339.05" cy="148.96" r="1.6"/><circle cx="341.49" cy="144.91" r="1.6"/><circle cx="343.92" cy="140.06" r="1.6"/><circle cx="346.36" cy="134.36" r="1.6"/><circle cx="348.8" cy="127.82" r="1.6"/><circle cx="351.23" cy="120.48" r="1.6"/><circle cx="353.67" cy="112.43" r="1.6"/><circle cx="356.11" cy="103.85" r="1.6"/><circle cx="358.54" cy="94.93" r="1.6"/><circle cx="360.98" cy="85.97" r="1.6"/><circle cx="363.41" cy="77.27" r="1.6"/><circle cx="365.85" cy="69.19" r="1.6"/><circle cx="368.29" cy="62.08" r="1.6"/><circle cx="370.72" cy="56.3" r="1.6"/><circle cx="373.16" cy="52.16" r="1.6"/><circle cx="375.6" cy="49.92" r="1.6"/><circle cx="378.03" cy="49.84" r="1.6"/><circle cx="380.47" cy="51.93" r="1.6"/><circle cx="382.9" cy="55.95" r="1.6"/><circle cx="385.34" cy="61.62" r="1.6"/><circle cx="387.78" cy="68.65" r="1.6"/><circle cx="390.21" cy="76.67" r="1.6"/><circle cx="392.65" cy="85.34" r="1.6"/><circle cx="395.09" cy="94.29" r="1.6"/><circle cx="397.52" cy="103.22" r="1.6"/><circle cx="399.96" cy="111.84" r="1.6"/><circle cx="402.39" cy="119.93" r="1.6"/><circle cx="404.83" cy="127.33" r="1.6"/><circle cx="407.27" cy="133.93" r="1.6"/><circle cx="409.7" cy="139.68" r="1.6"/><circle cx="412.14" cy="144.59" r="1.6"/><circle cx="414.58" cy="148.7" r="1.6"/><circle cx="417.01" cy="152.06" r="1.6"/><circle cx="419.45" cy="154.75" r="1.6"/><circle cx="421.88" cy="156.88" r="1.6"/><circle cx="424.32" cy="158.52" r="1.6"/><circle cx="426.76" cy="159.76" r="1.6"/><circle cx="429.19" cy="160.69" r="1.6"/><circle cx="431.63" cy="161.36" r="1.6"/><circle cx="434.07" cy="161.85" r="1.6"/><circle cx="436.5" cy="162.19" r="1.6"/><circle cx="438.94" cy="162.43" r="1.6"/><circle cx="441.37" cy="162.6" r="1.6"/><circle cx="443.81" cy="162.7" r="1.6"/><circle cx="446.25" cy="162.78" r="1.6"/><circle cx="448.68" cy="162.82" r="1.6"/><circle cx="451.12" cy="162.85" r="1.6"/><circle cx="453.56" cy="162.87" r="1.6"/><circle cx="455.99" cy="162.88" r="1.6"/><circle cx="458.43" cy="162.89" r="1.6"/><circle cx="460.86" cy="162.89" r="1.6"/><circle cx="463.3" cy="162.9" r="1.6"/><circle cx="465.74" cy="162.9" r="1.6"/><circle cx="468.17" cy="162.9" r="1.6"/><circle cx="470.61" cy="162.9" r="1.6"/><circle cx="473.05" cy="162.9" r="1.6"/><circle cx="475.48" cy="162.9" r="1.6"/></g>
<path d="M283.02 162.9L285.45 162.9L287.89 162.9L290.33 162.9L292.76 162.9L295.2 162.89L297.64 162.89L300.07 162.88L302.51 162.87L304.94 162.85L307.38 162.81L309.82 162.77L312.25 162.7L314.69 162.61L317.13 162.46L319.56 162.23L322 161.91L324.43 161.4L326.87 160.78L329.31 159.91L331.74 158.73L334.18 157.07L336.62 154.94L339.05 152.53L341.49 149.3L343.92 145.5L346.36 140.44L348.8 135.36L351.23 128.76L353.67 121.76L356.11 113.96L358.54 105.39L360.98 97.06L363.41 87.72L365.85 79.37L368.29 71.04L370.72 63.72L373.16 57.64L375.6 52.97L378.03 51.07L380.47 49.83L382.9 51.35L385.34 54.79L387.78 59.78L390.21 66.6L392.65 74.05L395.09 82.69L397.52 91.22L399.96 100.25L402.39 108.89L404.83 116.99L407.27 124.53L409.7 131.24L412.14 137.44L414.58 142.53L417.01 147.05L419.45 150.42L421.88 153.46L424.32 155.97L426.76 157.77L429.19 159.08L431.63 160.27L434.07 160.98L436.5 161.57L438.94 162.02L441.37 162.3L443.81 162.49L446.25 162.63L448.68 162.75L451.12 162.8L453.56 162.84L455.99 162.86L458.43 162.88L460.86 162.89L463.3 162.89L465.74 162.89L468.17 162.9L470.61 162.9L473.05 162.9L475.48 162.9" stroke="#00ff00" stroke-width="1" fill="none"/>
<g fill="#00ff00"><rect x="281.52" y="161.4" width="3" height="3"/><rect x="283.95" y="161.4" width="3" height="3"/><rect x="286.39" y="161.4" width="3" height="3"/><rect x="288.83" y="161.4" width="3" height="3"/><rect x="291.26" y="161.4" width="3" height="3"/><rect x="293.7" y="161.39" width="3" height="3"/><rect x="296.14" y="161.39" width="3" height="3"/><rect x="298.57" y="161.38" width="3" height="3"/><rect x="301.01" y="161.37" width="3" height="3"/><rect x="303.44" y="161.35" width="3" height="3"/><rect x="305.88" y="161.31" width="3" height="3"/><rect x="308.32" y="161.27" width="3" height="3"/><rect x="310.75" y="161.2" width="3" height="3"/><rect x="313.19" y="161.11" width="3" height="3"/><rect x="315.63" y="160.96" width="3" height="3"/><rect x="318.06" y="160.73" width="3" height="3"/><rect x="320.5" y="160.41" width="3" height="3"/><rect x="322.93" y="159.9" width="3" height="3"/><rect x="325.37" y="159.28" width="3" height="3"/><rect x="327.81" y="158.41" width="3" height="3"/><rect x="330.24" y="157.23" width="3" height="3"/><rect x="332.68" y="155.57" width="3" height="3"/><rect x="335.12" y="153.44" width="3" height="3"/><rect x="337.55" y="151.03" width="3" height="3"/><rect x="339.99" y="147.8" width="3" height="3"/><rect x="342.42" y="144" width="3" height="3"/><rect x="344.86" y="138.94" width="3" height="3"/><rect x="347.3" y="133.86" width="3" height="3"/><rect x="349.73" y="127.26" width="3" height="3"/><rect x="352.17" y="120.26" width="3" height="3"/><rect x="354.61" y="112.46" width="3" height="3"/><rect x="357.04" y="103.89" width="3" height="3"/><rect x="359.48" y="95.56" width="3" height="3"/><rect x="361.91" y="86.22" width="3" height="3"/><rect x="364.35" y="77.87" width="3" height="3"/><rect x="366.79" y="69.54" width="3" height="3"/><rect x="369.22" y="62.22" width="3" height="3"/><rect x="371.66" y="56.14" width="3" height="3"/><rect x="374.1" y="51.47" width="3" height="3"/><rect x="376.53" y="49.57" width="3" height="3"/><rect x="378.97" y="48.33" width="3" height="3"/><rect x="381.4" y="49.85" width="3" height="3"/><rect x="383.84" y="53.29" width="3" height="3"/><rect x="386.28" y="58.28" width="3" height="3"/><rect x="388.71" y="65.1" width="3" height="3"/><rect x="391.15" y="72.55" width="3" height="3"/><rect x="393.59" y="81.19" width="3" height="3"/><rect x="396.02" y="89.72" width="3" height="3"/><rect x="398.46" y="98.75" width="3" height="3"/><rect x="400.89" y="107.39" width="3" height="3"/><rect x="403.33" y="115.49" width="3" height="3"/><rect x="405.77" y="123.03" width="3" height="3"/><rect x="408.2" y="129.74" width="3" height="3"/><rect x="410.64" y="135.94" width="3" height="3"/><rect x="413.08" y="141.03" width="3" height="3"/><rect x="415.51" y="145.55" width="3" height="3"/><rect x="417.95" y="148.92" width="3" height="3"/><rect x="420.38" y="151.96" width="3" height="3"/><rect x="422.82" y="154.47" width="3" height="3"/><rect x="425.26" y="156.27" width="3" height="3"/><rect x="427.69" y="157.58" width="3" height="3"/><rect x="430.13" y="158.77" width="3" height="3"/><rect x="432.57" y="159.48" width="3" height="3"/><rect x="435" y="160.07" width="3" height="3"/><rect x="437.44" y="160.52" width="3" height="3"/><rect x="439.87" y="160.8" width="3" height="3"/><rect x="442.31" y="160.99" width="3" height="3"/><rect x="444.75" y="161.13" width="3" height="3"/><rect x="447.18" y="161.25" width="3" height="3"/><rect x="449.62" y="161.3" width="3" height="3"/><rect x="452.06" y="161.34" width="3" height="3"/><rect x="454.49" y="161.36" width="3" height="3"/><rect x="456.93" y="161.38" width="3" height="3"/><rect x="459.36" y="161.39" width="3" height="3"/><rect x="461.8" y="161.39" width="3" height="3"/><rect x="464.24" y="161.39" width="3" height="3"/><rect x="466.67" y="161.4" width="3" height="3"/><rect x="469.11" y="161.4" width="3" height="3"/><rect x="471.55" y="161.4" width="3" height="3"/><rect x="473.98" y="161.4" width="3" height="3"/></g>
<path d="M283.02 162.9L285.45 162.9L287.89 162.9L290.33 162.9L292.76 162.9L295.2 162.89L297.64 162.89L300.07 162.88L302.51 162.87L304.94 162.84L307.38 162.81L309.82 162.75L312.25 162.67L314.69 162.54L317.13 162.36L319.56 162.08L322 161.69L324.43 161.15L326.87 160.39L329.31 159.37L331.74 158L334.18 156.21L336.62 153.91L339.05 151.01L341.49 147.43L343.92 143.08L346.36 137.92L348.8 131.91L351.23 125.08L353.67 117.48L356.11 109.24L358.54 100.53L360.98 91.6L363.41 82.72L365.85 74.24L368.29 66.5L370.72 59.86L373.16 54.64L375.6 51.15L378.03 49.63L380.47 50.32L382.9 53.08L385.34 57.67L387.78 63.8L390.21 71.16L392.65 79.4L395.09 88.16L397.52 97.11L399.96 105.93L402.39 114.38L404.83 122.24L407.27 129.38L409.7 135.71L412.14 141.19L414.58 145.85L417.01 149.72L419.45 152.87L421.88 155.39L424.32 157.36L426.76 158.88L429.19 160.03L431.63 160.88L434.07 161.5L436.5 161.95L438.94 162.26L441.37 162.48L443.81 162.63L446.25 162.72L448.68 162.79L451.12 162.83L453.56 162.86L455.99 162.87L458.43 162.89L460.86 162.89L463.3 162.89L465.74 162.9L468.17 162.9L470.61 162.9L473.05 162.9L475.48 162.9" stroke="#ff0000" stroke-width="1" fill="none"/>
<g fill="#ff0000"><rect x="281.52" y="161.4" width="3" height="3"/><rect x="283.95" y="161.4" width="3" height="3"/><rect x="286.39" y="161.4" width="3" height="3"/><rect x="288.83" y="161.4" width="3" height="3"/><rect x="291.26" y="161.4" width="3" height="3"/><rect x="293.7" y="161.39" width="3" height="3"/><rect x="296.14" y="161.39" width="3" height="3"/><rect x="298.57" y="161.38" width="3" height="3"/><rect x="301.01" y="161.37" width="3" height="3"/><rect x="303.44" y="161.34" width="3" height="3"/><rect x="305.88" y="161.31" width="3" height="3"/><rect x="308.32" y="161.25" width="3" height="3"/><rect x="310.75" y="161.17" width="3" height="3"/><rect x="313.19" y="161.04" width="3" height="3"/><rect x="315.63" y="160.86" width="3" height="3"/><rect x="318.06" y="160.58" width="3" height="3"/><rect x="320.5" y="160.19" width="3" height="3"/><rect x="322.93" y="159.65" width="3" height="3"/><rect x="325.37" y="158.89" width="3" height="3"/><rect x="327.81" y="157.87" width="3" height="3"/><rect x="330.24" y="156.5" width="3" height="3"/><rect x="332.68" y="154.71" width="3" height="3"/><rect x="335.12" y="152.41" width="3" height="3"/><rect x="337.55" y="149.51" width="3" height="3"/><rect x="339.99" y="145.93" width="3" height="3"/><rect x="342.42" y="141.58" width="3" height="3"/><rect x="344.86" y="136.42" width="3" height="3"/><rect x="347.3" y="130.41" width="3" height="3"/><rect x="349.73" y="123.58" width="3" height="3"/><rect x="352.17" y="115.98" width="3" height="3"/><rect x="354.61" y="107.74" width="3" height="3"/><rect x="357.04" y="99.03" width="3" height="3"/><rect x="359.48" y="90.1" width="3" height="3"/><rect x="361.91" y="81.22" width="3" height="3"/><rect x="364.35" y="72.74" width="3" height="3"/><rect x="366.79" y="65" width="3" height="3"/><rect x="369.22" y="58.36" width="3" height="3"/><rect x="371.66" y="53.14" width="3" height="3"/><rect x="374.1" y="49.65" width="3" height="3"/><rect x="376.53" y="48.13" width="3" height="3"/><rect x="378.97" y="48.82" width="3" height="3"/><rect x="381.4" y="51.58" width="3" height="3"/><rect x="383.84" y="56.17" width="3" height="3"/><rect x="386.28" y="62.3" width="3" height="3"/><rect x="388.71" y="69.66" width="3" height="3"/><rect x="391.15" y="77.9" width="3" height="3"/><rect x="393.59" y="86.66" width="3" height="3"/><rect x="396.02" y="95.61" width="3" height="3"/><rect x="398.46" y="104.43" width="3" height="3"/><rect x="400.89" y="112.88" width="3" height="3"/><rect x="403.33" y="120.74" width="3" height="3"/><rect x="405.77" y="127.88" width="3" height="3"/><rect x="408.2" y="134.21" width="3" height="3"/><rect x="410.64" y="139.69" width="3" height="3"/><rect x="413.08" y="144.35" width="3" height="3"/><rect x="415.51" y="148.22" width="3" height="3"/><rect x="417.95" y="151.37" width="3" height="3"/><rect x="420.38" y="153.89" width="3" height="3"/><rect x="422.82" y="155.86" width="3" height="3"/><rect x="425.26" y="157.38" width="3" height="3"/><rect x="427.69" y="158.53" width="3" height="3"/><rect x="430.13" y="159.38" width="3" height="3"/><rect x="432.57" y="160" width="3" height="3"/><rect x="435" y="160.45" width="3" height="3"/><rect x="437.44" y="160.76" width="3" height="3"/><rect x="439.87" y="160.98" width="3" height="3"/><rect x="442.31" y="161.13" width="3" height="3"/><rect x="444.75" y="161.22" width="3" height="3"/><rect x="447.18" y="161.29" width="3" height="3"/><rect x="449.62" y="161.33" width="3" height="3"/><rect x="452.06" y="161.36" width="3" height="3"/><rect x="454.49" y="161.37" width="3" height="3"/><rect x="456.93" y="161.39" width="3" height="3"/><rect x="459.36" y="161.39" width="3" height="3"/><rect x="461.8" y="161.39" width="3" height="3"/><rect x="464.24" y="161.4" width="3" height="3"/><rect x="466.67" y="161.4" width="3" height="3"/><rect x="469.11" y="161.4" width="3" height="3"/><rect x="471.55" y="161.4" width="3" height="3"/><rect x="473.98" y="161.4" width="3" height="3"/></g>
<path d="M283.02 162.9L285.45 162.9L287.89 162.9L290.33 162.9L292.76 162.9L295.2 162.9L297.64 162.89L300.07 162.89L302.51 162.88L304.94 162.86L307.38 162.83L309.82 162.82L312.25 162.75L314.69 162.66L317.13 162.5L319.56 162.35L322 162.08L324.43 161.68L326.87 161.13L329.31 160.48L331.74 159.38L334.18 157.98L336.62 156.2L339.05 154.1L341.49 151.08L343.92 147.74L346.36 143.4L348.8 138.11L351.23 132.44L353.67 126.14L356.11 118.52L358.54 110.26L360.98 101.43L363.41 93.11L365.85 84.19L368.29 75.75L370.72 67.78L373.16 60.97L375.6 55.78L378.03 51.8L380.47 50.64L382.9 50.25L385.34 52.52L387.78 56.5L390.21 62.06L392.65 69L395.09 77.13L397.52 85.46L399.96 94.24L402.39 103.09L404.83 111.63L407.27 119.53L409.7 126.79L412.14 133.4L414.58 139.21L417.01 144.22L419.45 148.18L421.88 151.6L424.32 154.36L426.76 156.55L429.19 158.26L431.63 159.45L434.07 160.48L436.5 161.22L438.94 161.72L441.37 162.12L443.81 162.34L446.25 162.56L448.68 162.69L451.12 162.76L453.56 162.81L455.99 162.84L458.43 162.87L460.86 162.88L463.3 162.88L465.74 162.89L468.17 162.89L470.61 162.9L473.05 162.9L475.48 162.9" stroke="#000000" stroke-width="1" fill="none"/>
<g fill="#000000"><rect x="281.52" y="161.4" width="3" height="3"/><rect x="283.95" y="161.4" width="3" height="3"/><rect x="286.39" y="161.4" width="3" height="3"/><rect x="288.83" y="161.4" width="3" height="3"/><rect x="291.26" y="161.4" width="3" height="3"/><rect x="293.7" y="161.4" width="3" height="3"/><rect x="296.14" y="161.39" width="3" height="3"/><rect x="298.57" y="161.39" width="3" height="3"/><rect x="301.01" y="161.38" width="3" height="3"/><rect x="303.44" y="161.36" width="3" height="3"/><rect x="305.88" y="161.33" width="3" height="3"/><rect x="308.32" y="161.32" width="3" height="3"/><rect x="310.75" y="161.25" width="3" height="3"/><rect x="313.19" y="161.16" width="3" height="3"/><rect x="315.63" y="161" width="3" height="3"/><rect x="318.06" y="160.85" width="3" height="3"/><rect x="320.5" y="160.58" width="3" height="3"/><rect x="322.93" y="160.18" width="3" height="3"/><rect x="325.37" y="159.63" width="3" height="3"/><rect x="327.81" y="158.98" width="3" height="3"/><rect x="330.24" y="157.88" width="3" height="3"/><rect x="332.68" y="156.48" width="3" height="3"/><rect x="335.12" y="154.7" width="3" height="3"/><rect x="337.55" y="152.6" width="3" height="3"/><rect x="339.99" y="149.58" width="3" height="3"/><rect x="342.42" y="146.24" width="3" height="3"/><rect x="344.86" y="141.9" width="3" height="3"/><rect x="347.3" y="136.61" width="3" height="3"/><rect x="349.73" y="130.94" width="3" height="3"/><rect x="352.17" y="124.64" width="3" height="3"/><rect x="354.61" y="117.02" width="3" height="3"/><rect x="357.04" y="108.76" width="3" height="3"/><rect x="359.48" y="99.93" width="3" height="3"/><rect x="361.91" y="91.61" width="3" height="3"/><rect x="364.35" y="82.69" width="3" height="3"/><rect x="366.79" y="74.25" width="3" height="3"/><rect x="369.22" y="66.28" width="3" height="3"/><rect x="371.66" y="59.47" width="3" height="3"/><rect x="374.1" y="54.28" width="3" height="3"/><rect x="376.53" y="50.3" width="3" height="3"/><rect x="378.97" y="49.14" width="3" height="3"/><rect x="381.4" y="48.75" width="3" height="3"/><rect x="383.84" y="51.02" width="3" height="3"/><rect x="386.28" y="55" width="3" height="3"/><rect x="388.71" y="60.56" width="3" height="3"/><rect x="391.15" y="67.5" width="3" height="3"/><rect x="393.59" y="75.63" width="3" height="3"/><rect x="396.02" y="83.96" width="3" height="3"/><rect x="398.46" y="92.74" width="3" height="3"/><rect x="400.89" y="101.59" width="3" height="3"/><rect x="403.33" y="110.13" width="3" height="3"/><rect x="405.77" y="118.03" width="3" height="3"/><rect x="408.2" y="125.29" width="3" height="3"/><rect x="410.64" y="131.9" width="3" height="3"/><rect x="413.08" y="137.71" width="3" height="3"/><rect x="415.51" y="142.72" width="3" height="3"/><rect x="417.95" y="146.68" width="3" height="3"/><rect x="420.38" y="150.1" width="3" height="3"/><rect x="422.82" y="152.86" width="3" height="3"/><rect x="425.26" y="155.05" width="3" height="3"/><rect x="427.69" y="156.76" width="3" height="3"/><rect x="430.13" y="157.95" width="3" height="3"/><rect x="432.57" y="158.98" width="3" height="3"/><rect x="435" y="159.72" width="3" height="3"/><rect x="437.44" y="160.22" width="3" height="3"/><rect x="439.87" y="160.62" width="3" height="3"/><rect x="442.31" y="160.84" width="3" height="3"/><rect x="444.75" y="161.06" width="3" height="3"/><rect x="447.18" y="161.19" width="3" height="3"/><rect x="449.62" y="161.26" width="3" height="3"/><rect x="452.06" y="161.31" width="3" height="3"/><rect x="454.49" y="161.34" width="3" height="3"/><rect x="456.93" y="161.37" width="3" height="3"/><rect x="459.36" y="161.38" width="3" height="3"/><rect x="461.8" y="161.38" width="3" height="3"/><rect x="464.24" y="161.39" width="3" height="3"/><rect x="466.67" y="161.39" width="3" height="3"/><rect x="469.11" y="161.4" width="3" height="3"/><rect x="471.55" y="161.4" width="3" height="3"/><rect x="473.98" y="161.4" width="3" height="3"/></g>
</g>
<g stroke="#2a2a2a" stroke-width="1" stroke-dasharray="1 1.25" fill="none">
<path d="M585.07 162V43.5"/>
<path d="M650.03 162V43.5"/>
<path d="M521 139.15H715"/>
<path d="M521 115.4H715"/>
<path d="M521 91.65H715"/>
<path d="M521 67.9H715"/>
<path d="M521 44.15H715"/>
</g>
<rect x="520.1" y="43.5" width="194.9" height="119.4" fill="none" stroke="#000" stroke-width="1"/>
<path d="M520.1 162.9v-5.2M533.09 162.9v-2.5M546.09 162.9v-2.5M559.08 162.9v-2.5M572.07 162.9v-2.5M585.07 162.9v-5.2M598.06 162.9v-2.5M611.05 162.9v-2.5M624.05 162.9v-2.5M637.04 162.9v-2.5M650.03 162.9v-5.2M663.03 162.9v-2.5M676.02 162.9v-2.5M689.01 162.9v-2.5M702.01 162.9v-2.5M715 162.9v-5.2M520.1 162.9h6.3M520.1 158.15h3M520.1 153.4h3M520.1 148.65h3M520.1 143.9h3M520.1 139.15h6.3M520.1 134.4h3M520.1 129.65h3M520.1 124.9h3M520.1 120.15h3M520.1 115.4h6.3M520.1 110.65h3M520.1 105.9h3M520.1 101.15h3M520.1 96.4h3M520.1 91.65h6.3M520.1 86.9h3M520.1 82.15h3M520.1 77.4h3M520.1 72.65h3M520.1 67.9h6.3M520.1 63.15h3M520.1 58.4h3M520.1 53.65h3M520.1 48.9h3M520.1 44.15h6.3" stroke="#000" stroke-width="1" fill="none"/>
<g font-size="9.7" font-weight="bold" letter-spacing="-0.12" stroke="#000" stroke-width="0.25">
<text x="520.1" y="174.2" text-anchor="middle">2.6821</text>
<text x="585.07" y="174.2" text-anchor="middle">2.9487</text>
<text x="650.03" y="174.2" text-anchor="middle">3.2154</text>
<text x="715" y="174.2" text-anchor="middle">3.4821</text>
<text x="517.3" y="166.1" text-anchor="end">0</text>
<text x="517.3" y="142.35" text-anchor="end">0.01</text>
<text x="517.3" y="118.6" text-anchor="end">0.02</text>
<text x="517.3" y="94.85" text-anchor="end">0.03</text>
<text x="517.3" y="71.1" text-anchor="end">0.04</text>
<text x="517.3" y="47.35" text-anchor="end">0.05</text>
</g>
<text transform="translate(492.8 43.8) rotate(-90)" text-anchor="end" font-size="13.4" font-weight="bold" letter-spacing="-0.3" stroke="#000" stroke-width="0.2">Likelihood pdf</text>
<text x="715" y="190" font-family="Liberation Serif" font-size="14" text-anchor="end">β</text>
<clipPath id="c20"><rect x="519.6" y="40.5" width="195.9" height="123.1"/></clipPath><g clip-path="url(#c20)">
<path d="M521.32 162.9L523.75 162.9L526.19 162.89L528.63 162.89L531.06 162.88L533.5 162.87L535.94 162.85L538.37 162.82L540.81 162.77L543.24 162.69L545.68 162.58L548.12 162.42L550.55 162.19L552.99 161.86L555.43 161.4L557.86 160.77L560.3 159.91L562.73 158.78L565.17 157.29L567.61 155.38L570.04 152.97L572.48 149.98L574.92 146.33L577.35 141.95L579.79 136.81L582.22 130.87L584.66 124.15L587.1 116.74L589.53 108.74L591.97 100.35L594.41 91.82L596.84 83.44L599.28 75.5L601.71 68.32L604.15 62.13L606.59 57.15L609.02 53.52L611.46 51.31L613.9 50.56L616.33 51.26L618.77 53.36L621.2 56.82L623.64 61.57L626.08 67.48L628.51 74.37L630.95 82.01L633.39 90.13L635.82 98.45L638.26 106.68L640.69 114.6L643.13 122.02L645.57 128.79L648 134.84L650.44 140.14L652.88 144.69L655.31 148.53L657.75 151.72L660.18 154.32L662.62 156.41L665.06 158.05L667.49 159.34L669.93 160.31L672.37 161.05L674.8 161.6L677.24 161.99L679.67 162.28L682.11 162.48L684.55 162.62L686.98 162.72L689.42 162.78L691.86 162.82L694.29 162.85L696.73 162.87L699.16 162.88L701.6 162.89L704.04 162.89L706.47 162.9L708.91 162.9L711.35 162.9L713.78 162.9" stroke="#0000ff" stroke-width="1" fill="none"/>
<g fill="#0000ff"><circle cx="521.32" cy="162.9" r="1.6"/><circle cx="523.75" cy="162.9" r="1.6"/><circle cx="526.19" cy="162.89" r="1.6"/><circle cx="528.63" cy="162.89" r="1.6"/><circle cx="531.06" cy="162.88" r="1.6"/><circle cx="533.5" cy="162.87" r="1.6"/><circle cx="535.94" cy="162.85" r="1.6"/><circle cx="538.37" cy="162.82" r="1.6"/><circle cx="540.81" cy="162.77" r="1.6"/><circle cx="543.24" cy="162.69" r="1.6"/><circle cx="545.68" cy="162.58" r="1.6"/><circle cx="548.12" cy="162.42" r="1.6"/><circle cx="550.55" cy="162.19" r="1.6"/><circle cx="552.99" cy="161.86" r="1.6"/><circle cx="555.43" cy="161.4" r="1.6"/><circle cx="557.86" cy="160.77" r="1.6"/><circle cx="560.3" cy="159.91" r="1.6"/><circle cx="562.73" cy="158.78" r="1.6"/><circle cx="565.17" cy="157.29" r="1.6"/><circle cx="567.61" cy="155.38" r="1.6"/><circle cx="570.04" cy="152.97" r="1.6"/><circle cx="572.48" cy="149.98" r="1.6"/><circle cx="574.92" cy="146.33" r="1.6"/><circle cx="577.35" cy="141.95" r="1.6"/><circle cx="579.79" cy="136.81" r="1.6"/><circle cx="582.22" cy="130.87" r="1.6"/><circle cx="584.66" cy="124.15" r="1.6"/><circle cx="587.1" cy="116.74" r="1.6"/><circle cx="589.53" cy="108.74" r="1.6"/><circle cx="591.97" cy="100.35" r="1.6"/><circle cx="594.41" cy="91.82" r="1.6"/><circle cx="596.84" cy="83.44" r="1.6"/><circle cx="599.28" cy="75.5" r="1.6"/><circle cx="601.71" cy="68.32" r="1.6"/><circle cx="604.15" cy="62.13" r="1.6"/><circle cx="606.59" cy="57.15" r="1.6"/><circle cx="609.02" cy="53.52" r="1.6"/><circle cx="611.46" cy="51.31" r="1.6"/><circle cx="613.9" cy="50.56" r="1.6"/><circle cx="616.33" cy="51.26" r="1.6"/><circle cx="618.77" cy="53.36" r="1.6"/><circle cx="621.2" cy="56.82" r="1.6"/><circle cx="623.64" cy="61.57" r="1.6"/><circle cx="626.08" cy="67.48" r="1.6"/><circle cx="628.51" cy="74.37" r="1.6"/><circle cx="630.95" cy="82.01" r="1.6"/><circle cx="633.39" cy="90.13" r="1.6"/><circle cx="635.82" cy="98.45" r="1.6"/><circle cx="638.26" cy="106.68" r="1.6"/><circle cx="640.69" cy="114.6" r="1.6"/><circle cx="643.13" cy="122.02" r="1.6"/><circle cx="645.57" cy="128.79" r="1.6"/><circle cx="648" cy="134.84" r="1.6"/><circle cx="650.44" cy="140.14" r="1.6"/><circle cx="652.88" cy="144.69" r="1.6"/><circle cx="655.31" cy="148.53" r="1.6"/><circle cx="657.75" cy="151.72" r="1.6"/><circle cx="660.18" cy="154.32" r="1.6"/><circle cx="662.62" cy="156.41" r="1.6"/><circle cx="665.06" cy="158.05" r="1.6"/><circle cx="667.49" cy="159.34" r="1.6"/><circle cx="669.93" cy="160.31" r="1.6"/><circle cx="672.37" cy="161.05" r="1.6"/><circle cx="674.8" cy="161.6" r="1.6"/><circle cx="677.24" cy="161.99" r="1.6"/><circle cx="679.67" cy="162.28" r="1.6"/><circle cx="682.11" cy="162.48" r="1.6"/><circle cx="684.55" cy="162.62" r="1.6"/><circle cx="686.98" cy="162.72" r="1.6"/><circle cx="689.42" cy="162.78" r="1.6"/><circle cx="691.86" cy="162.82" r="1.6"/><circle cx="694.29" cy="162.85" r="1.6"/><circle cx="696.73" cy="162.87" r="1.6"/><circle cx="699.16" cy="162.88" r="1.6"/><circle cx="701.6" cy="162.89" r="1.6"/><circle cx="704.04" cy="162.89" r="1.6"/><circle cx="706.47" cy="162.9" r="1.6"/><circle cx="708.91" cy="162.9" r="1.6"/><circle cx="711.35" cy="162.9" r="1.6"/><circle cx="713.78" cy="162.9" r="1.6"/></g>
<path d="M521.32 162.87L523.75 162.84L526.19 162.82L528.63 162.77L531.06 162.71L533.5 162.6L535.94 162.48L538.37 162.25L540.81 161.98L543.24 161.49L545.68 160.87L548.12 160.2L550.55 159.25L552.99 157.9L555.43 156.29L557.86 154.06L560.3 151.32L562.73 148.22L565.17 144.41L567.61 139.79L570.04 134.41L572.48 128.23L574.92 121.16L577.35 113.21L579.79 104.62L582.22 96.75L584.66 88.09L587.1 79.99L589.53 72.44L591.97 66.6L594.41 60.95L596.84 57.11L599.28 54.5L601.71 52.46L604.15 52.24L606.59 52.62L609.02 55.38L611.46 58.15L613.9 62.63L616.33 68.89L618.77 75.08L621.2 83.29L623.64 91.68L626.08 100.99L628.51 109.62L630.95 117.72L633.39 125.14L635.82 132.72L638.26 138.38L640.69 143.48L643.13 147.58L645.57 151.23L648 154.05L650.44 156.11L652.88 158.01L655.31 159.37L657.75 160.27L660.18 161.09L662.62 161.66L665.06 162.03L667.49 162.3L669.93 162.5L672.37 162.63L674.8 162.74L677.24 162.79L679.67 162.83L682.11 162.87L684.55 162.88L686.98 162.89L689.42 162.89L691.86 162.9L694.29 162.89L696.73 162.9L699.16 162.9L701.6 162.9L704.04 162.9L706.47 162.9L708.91 162.9L711.35 162.9L713.78 162.9" stroke="#00ff00" stroke-width="1" fill="none"/>
<g fill="#00ff00"><rect x="519.82" y="161.37" width="3" height="3"/><rect x="522.25" y="161.34" width="3" height="3"/><rect x="524.69" y="161.32" width="3" height="3"/><rect x="527.13" y="161.27" width="3" height="3"/><rect x="529.56" y="161.21" width="3" height="3"/><rect x="532" y="161.1" width="3" height="3"/><rect x="534.44" y="160.98" width="3" height="3"/><rect x="536.87" y="160.75" width="3" height="3"/><rect x="539.31" y="160.48" width="3" height="3"/><rect x="541.74" y="159.99" width="3" height="3"/><rect x="544.18" y="159.37" width="3" height="3"/><rect x="546.62" y="158.7" width="3" height="3"/><rect x="549.05" y="157.75" width="3" height="3"/><rect x="551.49" y="156.4" width="3" height="3"/><rect x="553.93" y="154.79" width="3" height="3"/><rect x="556.36" y="152.56" width="3" height="3"/><rect x="558.8" y="149.82" width="3" height="3"/><rect x="561.23" y="146.72" width="3" height="3"/><rect x="563.67" y="142.91" width="3" height="3"/><rect x="566.11" y="138.29" width="3" height="3"/><rect x="568.54" y="132.91" width="3" height="3"/><rect x="570.98" y="126.73" width="3" height="3"/><rect x="573.42" y="119.66" width="3" height="3"/><rect x="575.85" y="111.71" width="3" height="3"/><rect x="578.29" y="103.12" width="3" height="3"/><rect x="580.72" y="95.25" width="3" height="3"/><rect x="583.16" y="86.59" width="3" height="3"/><rect x="585.6" y="78.49" width="3" height="3"/><rect x="588.03" y="70.94" width="3" height="3"/><rect x="590.47" y="65.1" width="3" height="3"/><rect x="592.91" y="59.45" width="3" height="3"/><rect x="595.34" y="55.61" width="3" height="3"/><rect x="597.78" y="53" width="3" height="3"/><rect x="600.21" y="50.96" width="3" height="3"/><rect x="602.65" y="50.74" width="3" height="3"/><rect x="605.09" y="51.12" width="3" height="3"/><rect x="607.52" y="53.88" width="3" height="3"/><rect x="609.96" y="56.65" width="3" height="3"/><rect x="612.4" y="61.13" width="3" height="3"/><rect x="614.83" y="67.39" width="3" height="3"/><rect x="617.27" y="73.58" width="3" height="3"/><rect x="619.7" y="81.79" width="3" height="3"/><rect x="622.14" y="90.18" width="3" height="3"/><rect x="624.58" y="99.49" width="3" height="3"/><rect x="627.01" y="108.12" width="3" height="3"/><rect x="629.45" y="116.22" width="3" height="3"/><rect x="631.89" y="123.64" width="3" height="3"/><rect x="634.32" y="131.22" width="3" height="3"/><rect x="636.76" y="136.88" width="3" height="3"/><rect x="639.19" y="141.98" width="3" height="3"/><rect x="641.63" y="146.08" width="3" height="3"/><rect x="644.07" y="149.73" width="3" height="3"/><rect x="646.5" y="152.55" width="3" height="3"/><rect x="648.94" y="154.61" width="3" height="3"/><rect x="651.38" y="156.51" width="3" height="3"/><rect x="653.81" y="157.87" width="3" height="3"/><rect x="656.25" y="158.77" width="3" height="3"/><rect x="658.68" y="159.59" width="3" height="3"/><rect x="661.12" y="160.16" width="3" height="3"/><rect x="663.56" y="160.53" width="3" height="3"/><rect x="665.99" y="160.8" width="3" height="3"/><rect x="668.43" y="161" width="3" height="3"/><rect x="670.87" y="161.13" width="3" height="3"/><rect x="673.3" y="161.24" width="3" height="3"/><rect x="675.74" y="161.29" width="3" height="3"/><rect x="678.17" y="161.33" width="3" height="3"/><rect x="680.61" y="161.37" width="3" height="3"/><rect x="683.05" y="161.38" width="3" height="3"/><rect x="685.48" y="161.39" width="3" height="3"/><rect x="687.92" y="161.39" width="3" height="3"/><rect x="690.36" y="161.4" width="3" height="3"/><rect x="692.79" y="161.39" width="3" height="3"/><rect x="695.23" y="161.4" width="3" height="3"/><rect x="697.66" y="161.4" width="3" height="3"/><rect x="700.1" y="161.4" width="3" height="3"/><rect x="702.54" y="161.4" width="3" height="3"/><rect x="704.97" y="161.4" width="3" height="3"/><rect x="707.41" y="161.4" width="3" height="3"/><rect x="709.85" y="161.4" width="3" height="3"/><rect x="712.28" y="161.4" width="3" height="3"/></g>
<path d="M521.32 162.9L523.75 162.9L526.19 162.9L528.63 162.9L531.06 162.89L533.5 162.89L535.94 162.88L538.37 162.87L540.81 162.84L543.24 162.81L545.68 162.76L548.12 162.67L550.55 162.55L552.99 162.37L555.43 162.11L557.86 161.74L560.3 161.22L562.73 160.51L565.17 159.54L567.61 158.25L570.04 156.57L572.48 154.42L574.92 151.69L577.35 148.31L579.79 144.2L582.22 139.28L584.66 133.5L587.1 126.86L589.53 119.41L591.97 111.25L594.41 102.57L596.84 93.66L599.28 84.82L601.71 76.43L604.15 68.83L606.59 62.29L609.02 57.03L611.46 53.15L613.9 50.69L616.33 49.65L618.77 49.98L621.2 51.58L623.64 54.43L626.08 58.54L628.51 63.86L630.95 70.27L633.39 77.58L635.82 85.55L638.26 93.88L640.69 102.29L643.13 110.48L645.57 118.24L648 125.39L650.44 131.83L652.88 137.51L655.31 142.42L657.75 146.61L660.18 150.1L662.62 152.98L665.06 155.31L667.49 157.18L669.93 158.64L672.37 159.77L674.8 160.63L677.24 161.28L679.67 161.76L682.11 162.11L684.55 162.36L686.98 162.53L689.42 162.66L691.86 162.74L694.29 162.8L696.73 162.83L699.16 162.86L701.6 162.87L704.04 162.88L706.47 162.89L708.91 162.89L711.35 162.9L713.78 162.9" stroke="#ff0000" stroke-width="1" fill="none"/>
<g fill="#ff0000"><rect x="519.82" y="161.4" width="3" height="3"/><rect x="522.25" y="161.4" width="3" height="3"/><rect x="524.69" y="161.4" width="3" height="3"/><rect x="527.13" y="161.4" width="3" height="3"/><rect x="529.56" y="161.39" width="3" height="3"/><rect x="532" y="161.39" width="3" height="3"/><rect x="534.44" y="161.38" width="3" height="3"/><rect x="536.87" y="161.37" width="3" height="3"/><rect x="539.31" y="161.34" width="3" height="3"/><rect x="541.74" y="161.31" width="3" height="3"/><rect x="544.18" y="161.26" width="3" height="3"/><rect x="546.62" y="161.17" width="3" height="3"/><rect x="549.05" y="161.05" width="3" height="3"/><rect x="551.49" y="160.87" width="3" height="3"/><rect x="553.93" y="160.61" width="3" height="3"/><rect x="556.36" y="160.24" width="3" height="3"/><rect x="558.8" y="159.72" width="3" height="3"/><rect x="561.23" y="159.01" width="3" height="3"/><rect x="563.67" y="158.04" width="3" height="3"/><rect x="566.11" y="156.75" width="3" height="3"/><rect x="568.54" y="155.07" width="3" height="3"/><rect x="570.98" y="152.92" width="3" height="3"/><rect x="573.42" y="150.19" width="3" height="3"/><rect x="575.85" y="146.81" width="3" height="3"/><rect x="578.29" y="142.7" width="3" height="3"/><rect x="580.72" y="137.78" width="3" height="3"/><rect x="583.16" y="132" width="3" height="3"/><rect x="585.6" y="125.36" width="3" height="3"/><rect x="588.03" y="117.91" width="3" height="3"/><rect x="590.47" y="109.75" width="3" height="3"/><rect x="592.91" y="101.07" width="3" height="3"/><rect x="595.34" y="92.16" width="3" height="3"/><rect x="597.78" y="83.32" width="3" height="3"/><rect x="600.21" y="74.93" width="3" height="3"/><rect x="602.65" y="67.33" width="3" height="3"/><rect x="605.09" y="60.79" width="3" height="3"/><rect x="607.52" y="55.53" width="3" height="3"/><rect x="609.96" y="51.65" width="3" height="3"/><rect x="612.4" y="49.19" width="3" height="3"/><rect x="614.83" y="48.15" width="3" height="3"/><rect x="617.27" y="48.48" width="3" height="3"/><rect x="619.7" y="50.08" width="3" height="3"/><rect x="622.14" y="52.93" width="3" height="3"/><rect x="624.58" y="57.04" width="3" height="3"/><rect x="627.01" y="62.36" width="3" height="3"/><rect x="629.45" y="68.77" width="3" height="3"/><rect x="631.89" y="76.08" width="3" height="3"/><rect x="634.32" y="84.05" width="3" height="3"/><rect x="636.76" y="92.38" width="3" height="3"/><rect x="639.19" y="100.79" width="3" height="3"/><rect x="641.63" y="108.98" width="3" height="3"/><rect x="644.07" y="116.74" width="3" height="3"/><rect x="646.5" y="123.89" width="3" height="3"/><rect x="648.94" y="130.33" width="3" height="3"/><rect x="651.38" y="136.01" width="3" height="3"/><rect x="653.81" y="140.92" width="3" height="3"/><rect x="656.25" y="145.11" width="3" height="3"/><rect x="658.68" y="148.6" width="3" height="3"/><rect x="661.12" y="151.48" width="3" height="3"/><rect x="663.56" y="153.81" width="3" height="3"/><rect x="665.99" y="155.68" width="3" height="3"/><rect x="668.43" y="157.14" width="3" height="3"/><rect x="670.87" y="158.27" width="3" height="3"/><rect x="673.3" y="159.13" width="3" height="3"/><rect x="675.74" y="159.78" width="3" height="3"/><rect x="678.17" y="160.26" width="3" height="3"/><rect x="680.61" y="160.61" width="3" height="3"/><rect x="683.05" y="160.86" width="3" height="3"/><rect x="685.48" y="161.03" width="3" height="3"/><rect x="687.92" y="161.16" width="3" height="3"/><rect x="690.36" y="161.24" width="3" height="3"/><rect x="692.79" y="161.3" width="3" height="3"/><rect x="695.23" y="161.33" width="3" height="3"/><rect x="697.66" y="161.36" width="3" height="3"/><rect x="700.1" y="161.37" width="3" height="3"/><rect x="702.54" y="161.38" width="3" height="3"/><rect x="704.97" y="161.39" width="3" height="3"/><rect x="707.41" y="161.39" width="3" height="3"/><rect x="709.85" y="161.4" width="3" height="3"/><rect x="712.28" y="161.4" width="3" height="3"/></g>
<path d="M521.32 162.89L523.75 162.88L526.19 162.88L528.63 162.85L531.06 162.83L533.5 162.79L535.94 162.71L538.37 162.62L540.81 162.45L543.24 162.25L545.68 161.94L548.12 161.53L550.55 160.8L552.99 160.02L555.43 158.79L557.86 157.28L560.3 155.42L562.73 152.69L565.17 149.61L567.61 145.88L570.04 141.07L572.48 135.43L574.92 129.24L577.35 121.88L579.79 113.64L582.22 105.41L584.66 96.46L587.1 87.34L589.53 78.75L591.97 70.39L594.41 63.5L596.84 57.7L599.28 53.85L601.71 50.23L604.15 49.07L606.59 49.08L609.02 50.03L611.46 52.76L613.9 57.17L616.33 62.93L618.77 70.04L621.2 77.65L623.64 85.96L626.08 94.55L628.51 103.84L630.95 112.47L633.39 120.54L635.82 127.99L638.26 134.53L640.69 139.97L643.13 144.9L645.57 148.93L648 152.03L650.44 154.65L652.88 156.77L655.31 158.38L657.75 159.63L660.18 160.67L662.62 161.32L665.06 161.75L667.49 162.13L669.93 162.43L672.37 162.56L674.8 162.7L677.24 162.76L679.67 162.82L682.11 162.85L684.55 162.87L686.98 162.88L689.42 162.89L691.86 162.89L694.29 162.9L696.73 162.9L699.16 162.9L701.6 162.9L704.04 162.9L706.47 162.9L708.91 162.9L711.35 162.9L713.78 162.9" stroke="#000000" stroke-width="1" fill="none"/>
<g fill="#000000"><rect x="519.82" y="161.39" width="3" height="3"/><rect x="522.25" y="161.38" width="3" height="3"/><rect x="524.69" y="161.38" width="3" height="3"/><rect x="527.13" y="161.35" width="3" height="3"/><rect x="529.56" y="161.33" width="3" height="3"/><rect x="532" y="161.29" width="3" height="3"/><rect x="534.44" y="161.21" width="3" height="3"/><rect x="536.87" y="161.12" width="3" height="3"/><rect x="539.31" y="160.95" width="3" height="3"/><rect x="541.74" y="160.75" width="3" height="3"/><rect x="544.18" y="160.44" width="3" height="3"/><rect x="546.62" y="160.03" width="3" height="3"/><rect x="549.05" y="159.3" width="3" height="3"/><rect x="551.49" y="158.52" width="3" height="3"/><rect x="553.93" y="157.29" width="3" height="3"/><rect x="556.36" y="155.78" width="3" height="3"/><rect x="558.8" y="153.92" width="3" height="3"/><rect x="561.23" y="151.19" width="3" height="3"/><rect x="563.67" y="148.11" width="3" height="3"/><rect x="566.11" y="144.38" width="3" height="3"/><rect x="568.54" y="139.57" width="3" height="3"/><rect x="570.98" y="133.93" width="3" height="3"/><rect x="573.42" y="127.74" width="3" height="3"/><rect x="575.85" y="120.38" width="3" height="3"/><rect x="578.29" y="112.14" width="3" height="3"/><rect x="580.72" y="103.91" width="3" height="3"/><rect x="583.16" y="94.96" width="3" height="3"/><rect x="585.6" y="85.84" width="3" height="3"/><rect x="588.03" y="77.25" width="3" height="3"/><rect x="590.47" y="68.89" width="3" height="3"/><rect x="592.91" y="62" width="3" height="3"/><rect x="595.34" y="56.2" width="3" height="3"/><rect x="597.78" y="52.35" width="3" height="3"/><rect x="600.21" y="48.73" width="3" height="3"/><rect x="602.65" y="47.57" width="3" height="3"/><rect x="605.09" y="47.58" width="3" height="3"/><rect x="607.52" y="48.53" width="3" height="3"/><rect x="609.96" y="51.26" width="3" height="3"/><rect x="612.4" y="55.67" width="3" height="3"/><rect x="614.83" y="61.43" width="3" height="3"/><rect x="617.27" y="68.54" width="3" height="3"/><rect x="619.7" y="76.15" width="3" height="3"/><rect x="622.14" y="84.46" width="3" height="3"/><rect x="624.58" y="93.05" width="3" height="3"/><rect x="627.01" y="102.34" width="3" height="3"/><rect x="629.45" y="110.97" width="3" height="3"/><rect x="631.89" y="119.04" width="3" height="3"/><rect x="634.32" y="126.49" width="3" height="3"/><rect x="636.76" y="133.03" width="3" height="3"/><rect x="639.19" y="138.47" width="3" height="3"/><rect x="641.63" y="143.4" width="3" height="3"/><rect x="644.07" y="147.43" width="3" height="3"/><rect x="646.5" y="150.53" width="3" height="3"/><rect x="648.94" y="153.15" width="3" height="3"/><rect x="651.38" y="155.27" width="3" height="3"/><rect x="653.81" y="156.88" width="3" height="3"/><rect x="656.25" y="158.13" width="3" height="3"/><rect x="658.68" y="159.17" width="3" height="3"/><rect x="661.12" y="159.82" width="3" height="3"/><rect x="663.56" y="160.25" width="3" height="3"/><rect x="665.99" y="160.63" width="3" height="3"/><rect x="668.43" y="160.93" width="3" height="3"/><rect x="670.87" y="161.06" width="3" height="3"/><rect x="673.3" y="161.2" width="3" height="3"/><rect x="675.74" y="161.26" width="3" height="3"/><rect x="678.17" y="161.32" width="3" height="3"/><rect x="680.61" y="161.35" width="3" height="3"/><rect x="683.05" y="161.37" width="3" height="3"/><rect x="685.48" y="161.38" width="3" height="3"/><rect x="687.92" y="161.39" width="3" height="3"/><rect x="690.36" y="161.39" width="3" height="3"/><rect x="692.79" y="161.4" width="3" height="3"/><rect x="695.23" y="161.4" width="3" height="3"/><rect x="697.66" y="161.4" width="3" height="3"/><rect x="700.1" y="161.4" width="3" height="3"/><rect x="702.54" y="161.4" width="3" height="3"/><rect x="704.97" y="161.4" width="3" height="3"/><rect x="707.41" y="161.4" width="3" height="3"/><rect x="709.85" y="161.4" width="3" height="3"/><rect x="712.28" y="161.4" width="3" height="3"/></g>
</g>
<g stroke="#2a2a2a" stroke-width="1" stroke-dasharray="1 1.25" fill="none">
<path d="M85.5 325V206.5"/>
<path d="M182.8 325V206.5"/>
<path d="M44 304.1H238.4"/>
<path d="M44 282.3H238.4"/>
<path d="M44 260.5H238.4"/>
<path d="M44 238.7H238.4"/>
<path d="M44 216.9H238.4"/>
</g>
<rect x="43.5" y="206.5" width="194.9" height="119.4" fill="none" stroke="#000" stroke-width="1"/>
<path d="M61.18 325.9v-2.5M85.5 325.9v-5.2M109.82 325.9v-2.5M134.15 325.9v-2.5M158.48 325.9v-2.5M182.8 325.9v-5.2M207.12 325.9v-2.5M231.45 325.9v-2.5M43.5 325.9h6.3M43.5 320.45h3M43.5 315h3M43.5 309.55h3M43.5 304.1h6.3M43.5 298.65h3M43.5 293.2h3M43.5 287.75h3M43.5 282.3h6.3M43.5 276.85h3M43.5 271.4h3M43.5 265.95h3M43.5 260.5h6.3M43.5 255.05h3M43.5 249.6h3M43.5 244.15h3M43.5 238.7h6.3M43.5 233.25h3M43.5 227.8h3M43.5 222.35h3M43.5 216.9h6.3M43.5 211.45h3" stroke="#000" stroke-width="1" fill="none"/>
<g font-size="9.7" font-weight="bold" letter-spacing="-0.12" stroke="#000" stroke-width="0.25">
<text x="85.5" y="337.2" text-anchor="middle">0.2</text>
<text x="182.8" y="337.2" text-anchor="middle">0.4</text>
<text x="40.7" y="329.7" text-anchor="end">0</text>
<text x="40.7" y="307.9" text-anchor="end">0.2</text>
<text x="40.7" y="286.1" text-anchor="end">0.4</text>
<text x="40.7" y="264.3" text-anchor="end">0.6</text>
<text x="40.7" y="242.5" text-anchor="end">0.8</text>
<text x="40.7" y="220.7" text-anchor="end">1</text>
</g>
<text transform="translate(16.7 206.8) rotate(-90)" text-anchor="end" font-size="13.4" font-weight="bold" letter-spacing="-0.25" stroke="#000" stroke-width="0.2">Cumulative proba.</text>
<text x="219.6" y="353.1" font-family="Liberation Serif" font-size="14.5" stroke="#000" stroke-width="0.25">Ω</text>
<text x="230.2" y="356.9" font-size="8.8" font-weight="bold" stroke="#000" stroke-width="0.25">m</text>
<path d="M43.5 236.5H238.4M43.5 271.5H238.4M43.5 308.5H238.4" stroke="#0000ff" stroke-width="1" stroke-dasharray="2.6 1.96" fill="none"/>
<clipPath id="c01"><rect x="43" y="203.5" width="195.9" height="123.1"/></clipPath><g clip-path="url(#c01)">
<path d="M44.11 325.9L45.33 325.9L46.55 325.9L47.76 325.9L48.98 325.9L50.2 325.9L51.42 325.9L52.64 325.9L53.85 325.9L55.07 325.9L56.29 325.9L57.51 325.9L58.73 325.9L59.94 325.9L61.16 325.9L62.38 325.9L63.6 325.9L64.82 325.9L66.04 325.9L67.25 325.9L68.47 325.9L69.69 325.9L70.91 325.89L72.13 325.89L73.34 325.89L74.56 325.89L75.78 325.88L77 325.88L78.22 325.87L79.43 325.86L80.65 325.85L81.87 325.84L83.09 325.82L84.31 325.8L85.53 325.77L86.74 325.74L87.96 325.7L89.18 325.65L90.4 325.58L91.62 325.51L92.83 325.42L94.05 325.32L95.27 325.19L96.49 325.04L97.71 324.86L98.92 324.65L100.14 324.41L101.36 324.13L102.58 323.8L103.8 323.42L105.02 322.98L106.23 322.48L107.45 321.92L108.67 321.27L109.89 320.55L111.11 319.74L112.32 318.84L113.54 317.84L114.76 316.73L115.98 315.51L117.2 314.18L118.41 312.73L119.63 311.16L120.85 309.46L122.07 307.64L123.29 305.69L124.51 303.63L125.72 301.44L126.94 299.13L128.16 296.71L129.38 294.19L130.6 291.58L131.81 288.87L133.03 286.09L134.25 283.25L135.47 280.35L136.69 277.42L137.9 274.45L139.12 271.48L140.34 268.51L141.56 265.56L142.78 262.65L144 259.78L145.21 256.98L146.43 254.25L147.65 251.59L148.87 249.03L150.09 246.57L151.3 244.21L152.52 241.97L153.74 239.83L154.96 237.81L156.18 235.91L157.39 234.13L158.61 232.46L159.83 230.92L161.05 229.48L162.27 228.16L163.49 226.94L164.7 225.82L165.92 224.81L167.14 223.88L168.36 223.05L169.58 222.29L170.79 221.62L172.01 221.01L173.23 220.47L174.45 219.99L175.67 219.57L176.88 219.2L178.1 218.87L179.32 218.58L180.54 218.33L181.76 218.12L182.98 217.93L184.19 217.77L185.41 217.63L186.63 217.51L187.85 217.41L189.07 217.32L190.28 217.25L191.5 217.19L192.72 217.14L193.94 217.1L195.16 217.06L196.37 217.03L197.59 217.01L198.81 216.99L200.03 216.97L201.25 216.96L202.47 216.95L203.68 216.94L204.9 216.93L206.12 216.92L207.34 216.92L208.56 216.91L209.77 216.91L210.99 216.91L212.21 216.91L213.43 216.91L214.65 216.9L215.86 216.9L217.08 216.9L218.3 216.9L219.52 216.9L220.74 216.9L221.96 216.9L223.17 216.9L224.39 216.9L225.61 216.9L226.83 216.9L228.05 216.9L229.26 216.9L230.48 216.9L231.7 216.9L232.92 216.9L234.14 216.9L235.35 216.9L236.57 216.9L237.79 216.9" stroke="#0000ff" stroke-width="1" fill="none"/>
<g fill="#0000ff"><circle cx="44.11" cy="325.9" r="1.6"/><circle cx="45.33" cy="325.9" r="1.6"/><circle cx="46.55" cy="325.9" r="1.6"/><circle cx="47.76" cy="325.9" r="1.6"/><circle cx="48.98" cy="325.9" r="1.6"/><circle cx="50.2" cy="325.9" r="1.6"/><circle cx="51.42" cy="325.9" r="1.6"/><circle cx="52.64" cy="325.9" r="1.6"/><circle cx="53.85" cy="325.9" r="1.6"/><circle cx="55.07" cy="325.9" r="1.6"/><circle cx="56.29" cy="325.9" r="1.6"/><circle cx="57.51" cy="325.9" r="1.6"/><circle cx="58.73" cy="325.9" r="1.6"/><circle cx="59.94" cy="325.9" r="1.6"/><circle cx="61.16" cy="325.9" r="1.6"/><circle cx="62.38" cy="325.9" r="1.6"/><circle cx="63.6" cy="325.9" r="1.6"/><circle cx="64.82" cy="325.9" r="1.6"/><circle cx="66.04" cy="325.9" r="1.6"/><circle cx="67.25" cy="325.9" r="1.6"/><circle cx="68.47" cy="325.9" r="1.6"/><circle cx="69.69" cy="325.9" r="1.6"/><circle cx="70.91" cy="325.89" r="1.6"/><circle cx="72.13" cy="325.89" r="1.6"/><circle cx="73.34" cy="325.89" r="1.6"/><circle cx="74.56" cy="325.89" r="1.6"/><circle cx="75.78" cy="325.88" r="1.6"/><circle cx="77" cy="325.88" r="1.6"/><circle cx="78.22" cy="325.87" r="1.6"/><circle cx="79.43" cy="325.86" r="1.6"/><circle cx="80.65" cy="325.85" r="1.6"/><circle cx="81.87" cy="325.84" r="1.6"/><circle cx="83.09" cy="325.82" r="1.6"/><circle cx="84.31" cy="325.8" r="1.6"/><circle cx="85.53" cy="325.77" r="1.6"/><circle cx="86.74" cy="325.74" r="1.6"/><circle cx="87.96" cy="325.7" r="1.6"/><circle cx="89.18" cy="325.65" r="1.6"/><circle cx="90.4" cy="325.58" r="1.6"/><circle cx="91.62" cy="325.51" r="1.6"/><circle cx="92.83" cy="325.42" r="1.6"/><circle cx="94.05" cy="325.32" r="1.6"/><circle cx="95.27" cy="325.19" r="1.6"/><circle cx="96.49" cy="325.04" r="1.6"/><circle cx="97.71" cy="324.86" r="1.6"/><circle cx="98.92" cy="324.65" r="1.6"/><circle cx="100.14" cy="324.41" r="1.6"/><circle cx="101.36" cy="324.13" r="1.6"/><circle cx="102.58" cy="323.8" r="1.6"/><circle cx="103.8" cy="323.42" r="1.6"/><circle cx="105.02" cy="322.98" r="1.6"/><circle cx="106.23" cy="322.48" r="1.6"/><circle cx="107.45" cy="321.92" r="1.6"/><circle cx="108.67" cy="321.27" r="1.6"/><circle cx="109.89" cy="320.55" r="1.6"/><circle cx="111.11" cy="319.74" r="1.6"/><circle cx="112.32" cy="318.84" r="1.6"/><circle cx="113.54" cy="317.84" r="1.6"/><circle cx="114.76" cy="316.73" r="1.6"/><circle cx="115.98" cy="315.51" r="1.6"/><circle cx="117.2" cy="314.18" r="1.6"/><circle cx="118.41" cy="312.73" r="1.6"/><circle cx="119.63" cy="311.16" r="1.6"/><circle cx="120.85" cy="309.46" r="1.6"/><circle cx="122.07" cy="307.64" r="1.6"/><circle cx="123.29" cy="305.69" r="1.6"/><circle cx="124.51" cy="303.63" r="1.6"/><circle cx="125.72" cy="301.44" r="1.6"/><circle cx="126.94" cy="299.13" r="1.6"/><circle cx="128.16" cy="296.71" r="1.6"/><circle cx="129.38" cy="294.19" r="1.6"/><circle cx="130.6" cy="291.58" r="1.6"/><circle cx="131.81" cy="288.87" r="1.6"/><circle cx="133.03" cy="286.09" r="1.6"/><circle cx="134.25" cy="283.25" r="1.6"/><circle cx="135.47" cy="280.35" r="1.6"/><circle cx="136.69" cy="277.42" r="1.6"/><circle cx="137.9" cy="274.45" r="1.6"/><circle cx="139.12" cy="271.48" r="1.6"/><circle cx="140.34" cy="268.51" r="1.6"/><circle cx="141.56" cy="265.56" r="1.6"/><circle cx="142.78" cy="262.65" r="1.6"/><circle cx="144" cy="259.78" r="1.6"/><circle cx="145.21" cy="256.98" r="1.6"/><circle cx="146.43" cy="254.25" r="1.6"/><circle cx="147.65" cy="251.59" r="1.6"/><circle cx="148.87" cy="249.03" r="1.6"/><circle cx="150.09" cy="246.57" r="1.6"/><circle cx="151.3" cy="244.21" r="1.6"/><circle cx="152.52" cy="241.97" r="1.6"/><circle cx="153.74" cy="239.83" r="1.6"/><circle cx="154.96" cy="237.81" r="1.6"/><circle cx="156.18" cy="235.91" r="1.6"/><circle cx="157.39" cy="234.13" r="1.6"/><circle cx="158.61" cy="232.46" r="1.6"/><circle cx="159.83" cy="230.92" r="1.6"/><circle cx="161.05" cy="229.48" r="1.6"/><circle cx="162.27" cy="228.16" r="1.6"/><circle cx="163.49" cy="226.94" r="1.6"/><circle cx="164.7" cy="225.82" r="1.6"/><circle cx="165.92" cy="224.81" r="1.6"/><circle cx="167.14" cy="223.88" r="1.6"/><circle cx="168.36" cy="223.05" r="1.6"/><circle cx="169.58" cy="222.29" r="1.6"/><circle cx="170.79" cy="221.62" r="1.6"/><circle cx="172.01" cy="221.01" r="1.6"/><circle cx="173.23" cy="220.47" r="1.6"/><circle cx="174.45" cy="219.99" r="1.6"/><circle cx="175.67" cy="219.57" r="1.6"/><circle cx="176.88" cy="219.2" r="1.6"/><circle cx="178.1" cy="218.87" r="1.6"/><circle cx="179.32" cy="218.58" r="1.6"/><circle cx="180.54" cy="218.33" r="1.6"/><circle cx="181.76" cy="218.12" r="1.6"/><circle cx="182.98" cy="217.93" r="1.6"/><circle cx="184.19" cy="217.77" r="1.6"/><circle cx="185.41" cy="217.63" r="1.6"/><circle cx="186.63" cy="217.51" r="1.6"/><circle cx="187.85" cy="217.41" r="1.6"/><circle cx="189.07" cy="217.32" r="1.6"/><circle cx="190.28" cy="217.25" r="1.6"/><circle cx="191.5" cy="217.19" r="1.6"/><circle cx="192.72" cy="217.14" r="1.6"/><circle cx="193.94" cy="217.1" r="1.6"/><circle cx="195.16" cy="217.06" r="1.6"/><circle cx="196.37" cy="217.03" r="1.6"/><circle cx="197.59" cy="217.01" r="1.6"/><circle cx="198.81" cy="216.99" r="1.6"/><circle cx="200.03" cy="216.97" r="1.6"/><circle cx="201.25" cy="216.96" r="1.6"/><circle cx="202.47" cy="216.95" r="1.6"/><circle cx="203.68" cy="216.94" r="1.6"/><circle cx="204.9" cy="216.93" r="1.6"/><circle cx="206.12" cy="216.92" r="1.6"/><circle cx="207.34" cy="216.92" r="1.6"/><circle cx="208.56" cy="216.91" r="1.6"/><circle cx="209.77" cy="216.91" r="1.6"/><circle cx="210.99" cy="216.91" r="1.6"/><circle cx="212.21" cy="216.91" r="1.6"/><circle cx="213.43" cy="216.91" r="1.6"/><circle cx="214.65" cy="216.9" r="1.6"/><circle cx="215.86" cy="216.9" r="1.6"/><circle cx="217.08" cy="216.9" r="1.6"/><circle cx="218.3" cy="216.9" r="1.6"/><circle cx="219.52" cy="216.9" r="1.6"/><circle cx="220.74" cy="216.9" r="1.6"/><circle cx="221.96" cy="216.9" r="1.6"/><circle cx="223.17" cy="216.9" r="1.6"/><circle cx="224.39" cy="216.9" r="1.6"/><circle cx="225.61" cy="216.9" r="1.6"/><circle cx="226.83" cy="216.9" r="1.6"/><circle cx="228.05" cy="216.9" r="1.6"/><circle cx="229.26" cy="216.9" r="1.6"/><circle cx="230.48" cy="216.9" r="1.6"/><circle cx="231.7" cy="216.9" r="1.6"/><circle cx="232.92" cy="216.9" r="1.6"/><circle cx="234.14" cy="216.9" r="1.6"/><circle cx="235.35" cy="216.9" r="1.6"/><circle cx="236.57" cy="216.9" r="1.6"/><circle cx="237.79" cy="216.9" r="1.6"/></g>
<path d="M44.11 325.9L45.33 325.9L46.55 325.9L47.76 325.9L48.98 325.9L50.2 325.9L51.42 325.9L52.64 325.9L53.85 325.9L55.07 325.9L56.29 325.9L57.51 325.9L58.73 325.9L59.94 325.9L61.16 325.9L62.38 325.9L63.6 325.9L64.82 325.9L66.04 325.9L67.25 325.9L68.47 325.9L69.69 325.9L70.91 325.9L72.13 325.89L73.34 325.89L74.56 325.89L75.78 325.89L77 325.88L78.22 325.88L79.43 325.87L80.65 325.87L81.87 325.86L83.09 325.84L84.31 325.83L85.53 325.81L86.74 325.79L87.96 325.76L89.18 325.72L90.4 325.68L91.62 325.63L92.83 325.57L94.05 325.49L95.27 325.4L96.49 325.29L97.71 325.16L98.92 325L100.14 324.82L101.36 324.61L102.58 324.36L103.8 324.07L105.02 323.74L106.23 323.36L107.45 322.92L108.67 322.42L109.89 321.85L111.11 321.21L112.32 320.49L113.54 319.69L114.76 318.79L115.98 317.8L117.2 316.7L118.41 315.5L119.63 314.18L120.85 312.75L122.07 311.2L123.29 309.54L124.51 307.75L125.72 305.84L126.94 303.81L128.16 301.66L129.38 299.4L130.6 297.03L131.81 294.57L133.03 292L134.25 289.36L135.47 286.64L136.69 283.85L137.9 281.02L139.12 278.14L140.34 275.24L141.56 272.32L142.78 269.41L144 266.51L145.21 263.65L146.43 260.82L147.65 258.06L148.87 255.36L150.09 252.73L151.3 250.19L152.52 247.74L153.74 245.38L154.96 243.13L156.18 240.99L157.39 238.96L158.61 237.03L159.83 235.22L161.05 233.53L162.27 231.94L163.49 230.47L164.7 229.1L165.92 227.84L167.14 226.68L168.36 225.61L169.58 224.64L170.79 223.75L172.01 222.95L173.23 222.22L174.45 221.57L175.67 220.98L176.88 220.46L178.1 219.99L179.32 219.58L180.54 219.22L181.76 218.89L182.98 218.61L184.19 218.36L185.41 218.15L186.63 217.96L187.85 217.8L189.07 217.66L190.28 217.54L191.5 217.44L192.72 217.35L193.94 217.28L195.16 217.21L196.37 217.16L197.59 217.11L198.81 217.08L200.03 217.04L201.25 217.02L202.47 217L203.68 216.98L204.9 216.96L206.12 216.95L207.34 216.94L208.56 216.93L209.77 216.93L210.99 216.92L212.21 216.92L213.43 216.91L214.65 216.91L215.86 216.91L217.08 216.91L218.3 216.91L219.52 216.9L220.74 216.9L221.96 216.9L223.17 216.9L224.39 216.9L225.61 216.9L226.83 216.9L228.05 216.9L229.26 216.9L230.48 216.9L231.7 216.9L232.92 216.9L234.14 216.9L235.35 216.9L236.57 216.9L237.79 216.9" stroke="#00ff00" stroke-width="1" fill="none"/>
<g fill="#00ff00"><rect x="42.61" y="324.4" width="3" height="3"/><rect x="43.83" y="324.4" width="3" height="3"/><rect x="45.05" y="324.4" width="3" height="3"/><rect x="46.26" y="324.4" width="3" height="3"/><rect x="47.48" y="324.4" width="3" height="3"/><rect x="48.7" y="324.4" width="3" height="3"/><rect x="49.92" y="324.4" width="3" height="3"/><rect x="51.14" y="324.4" width="3" height="3"/><rect x="52.35" y="324.4" width="3" height="3"/><rect x="53.57" y="324.4" width="3" height="3"/><rect x="54.79" y="324.4" width="3" height="3"/><rect x="56.01" y="324.4" width="3" height="3"/><rect x="57.23" y="324.4" width="3" height="3"/><rect x="58.44" y="324.4" width="3" height="3"/><rect x="59.66" y="324.4" width="3" height="3"/><rect x="60.88" y="324.4" width="3" height="3"/><rect x="62.1" y="324.4" width="3" height="3"/><rect x="63.32" y="324.4" width="3" height="3"/><rect x="64.54" y="324.4" width="3" height="3"/><rect x="65.75" y="324.4" width="3" height="3"/><rect x="66.97" y="324.4" width="3" height="3"/><rect x="68.19" y="324.4" width="3" height="3"/><rect x="69.41" y="324.4" width="3" height="3"/><rect x="70.63" y="324.39" width="3" height="3"/><rect x="71.84" y="324.39" width="3" height="3"/><rect x="73.06" y="324.39" width="3" height="3"/><rect x="74.28" y="324.39" width="3" height="3"/><rect x="75.5" y="324.38" width="3" height="3"/><rect x="76.72" y="324.38" width="3" height="3"/><rect x="77.93" y="324.37" width="3" height="3"/><rect x="79.15" y="324.37" width="3" height="3"/><rect x="80.37" y="324.36" width="3" height="3"/><rect x="81.59" y="324.34" width="3" height="3"/><rect x="82.81" y="324.33" width="3" height="3"/><rect x="84.03" y="324.31" width="3" height="3"/><rect x="85.24" y="324.29" width="3" height="3"/><rect x="86.46" y="324.26" width="3" height="3"/><rect x="87.68" y="324.22" width="3" height="3"/><rect x="88.9" y="324.18" width="3" height="3"/><rect x="90.12" y="324.13" width="3" height="3"/><rect x="91.33" y="324.07" width="3" height="3"/><rect x="92.55" y="323.99" width="3" height="3"/><rect x="93.77" y="323.9" width="3" height="3"/><rect x="94.99" y="323.79" width="3" height="3"/><rect x="96.21" y="323.66" width="3" height="3"/><rect x="97.42" y="323.5" width="3" height="3"/><rect x="98.64" y="323.32" width="3" height="3"/><rect x="99.86" y="323.11" width="3" height="3"/><rect x="101.08" y="322.86" width="3" height="3"/><rect x="102.3" y="322.57" width="3" height="3"/><rect x="103.52" y="322.24" width="3" height="3"/><rect x="104.73" y="321.86" width="3" height="3"/><rect x="105.95" y="321.42" width="3" height="3"/><rect x="107.17" y="320.92" width="3" height="3"/><rect x="108.39" y="320.35" width="3" height="3"/><rect x="109.61" y="319.71" width="3" height="3"/><rect x="110.82" y="318.99" width="3" height="3"/><rect x="112.04" y="318.19" width="3" height="3"/><rect x="113.26" y="317.29" width="3" height="3"/><rect x="114.48" y="316.3" width="3" height="3"/><rect x="115.7" y="315.2" width="3" height="3"/><rect x="116.91" y="314" width="3" height="3"/><rect x="118.13" y="312.68" width="3" height="3"/><rect x="119.35" y="311.25" width="3" height="3"/><rect x="120.57" y="309.7" width="3" height="3"/><rect x="121.79" y="308.04" width="3" height="3"/><rect x="123.01" y="306.25" width="3" height="3"/><rect x="124.22" y="304.34" width="3" height="3"/><rect x="125.44" y="302.31" width="3" height="3"/><rect x="126.66" y="300.16" width="3" height="3"/><rect x="127.88" y="297.9" width="3" height="3"/><rect x="129.1" y="295.53" width="3" height="3"/><rect x="130.31" y="293.07" width="3" height="3"/><rect x="131.53" y="290.5" width="3" height="3"/><rect x="132.75" y="287.86" width="3" height="3"/><rect x="133.97" y="285.14" width="3" height="3"/><rect x="135.19" y="282.35" width="3" height="3"/><rect x="136.4" y="279.52" width="3" height="3"/><rect x="137.62" y="276.64" width="3" height="3"/><rect x="138.84" y="273.74" width="3" height="3"/><rect x="140.06" y="270.82" width="3" height="3"/><rect x="141.28" y="267.91" width="3" height="3"/><rect x="142.5" y="265.01" width="3" height="3"/><rect x="143.71" y="262.15" width="3" height="3"/><rect x="144.93" y="259.32" width="3" height="3"/><rect x="146.15" y="256.56" width="3" height="3"/><rect x="147.37" y="253.86" width="3" height="3"/><rect x="148.59" y="251.23" width="3" height="3"/><rect x="149.8" y="248.69" width="3" height="3"/><rect x="151.02" y="246.24" width="3" height="3"/><rect x="152.24" y="243.88" width="3" height="3"/><rect x="153.46" y="241.63" width="3" height="3"/><rect x="154.68" y="239.49" width="3" height="3"/><rect x="155.89" y="237.46" width="3" height="3"/><rect x="157.11" y="235.53" width="3" height="3"/><rect x="158.33" y="233.72" width="3" height="3"/><rect x="159.55" y="232.03" width="3" height="3"/><rect x="160.77" y="230.44" width="3" height="3"/><rect x="161.99" y="228.97" width="3" height="3"/><rect x="163.2" y="227.6" width="3" height="3"/><rect x="164.42" y="226.34" width="3" height="3"/><rect x="165.64" y="225.18" width="3" height="3"/><rect x="166.86" y="224.11" width="3" height="3"/><rect x="168.08" y="223.14" width="3" height="3"/><rect x="169.29" y="222.25" width="3" height="3"/><rect x="170.51" y="221.45" width="3" height="3"/><rect x="171.73" y="220.72" width="3" height="3"/><rect x="172.95" y="220.07" width="3" height="3"/><rect x="174.17" y="219.48" width="3" height="3"/><rect x="175.38" y="218.96" width="3" height="3"/><rect x="176.6" y="218.49" width="3" height="3"/><rect x="177.82" y="218.08" width="3" height="3"/><rect x="179.04" y="217.72" width="3" height="3"/><rect x="180.26" y="217.39" width="3" height="3"/><rect x="181.48" y="217.11" width="3" height="3"/><rect x="182.69" y="216.86" width="3" height="3"/><rect x="183.91" y="216.65" width="3" height="3"/><rect x="185.13" y="216.46" width="3" height="3"/><rect x="186.35" y="216.3" width="3" height="3"/><rect x="187.57" y="216.16" width="3" height="3"/><rect x="188.78" y="216.04" width="3" height="3"/><rect x="190" y="215.94" width="3" height="3"/><rect x="191.22" y="215.85" width="3" height="3"/><rect x="192.44" y="215.78" width="3" height="3"/><rect x="193.66" y="215.71" width="3" height="3"/><rect x="194.87" y="215.66" width="3" height="3"/><rect x="196.09" y="215.61" width="3" height="3"/><rect x="197.31" y="215.58" width="3" height="3"/><rect x="198.53" y="215.54" width="3" height="3"/><rect x="199.75" y="215.52" width="3" height="3"/><rect x="200.97" y="215.5" width="3" height="3"/><rect x="202.18" y="215.48" width="3" height="3"/><rect x="203.4" y="215.46" width="3" height="3"/><rect x="204.62" y="215.45" width="3" height="3"/><rect x="205.84" y="215.44" width="3" height="3"/><rect x="207.06" y="215.43" width="3" height="3"/><rect x="208.27" y="215.43" width="3" height="3"/><rect x="209.49" y="215.42" width="3" height="3"/><rect x="210.71" y="215.42" width="3" height="3"/><rect x="211.93" y="215.41" width="3" height="3"/><rect x="213.15" y="215.41" width="3" height="3"/><rect x="214.36" y="215.41" width="3" height="3"/><rect x="215.58" y="215.41" width="3" height="3"/><rect x="216.8" y="215.41" width="3" height="3"/><rect x="218.02" y="215.4" width="3" height="3"/><rect x="219.24" y="215.4" width="3" height="3"/><rect x="220.46" y="215.4" width="3" height="3"/><rect x="221.67" y="215.4" width="3" height="3"/><rect x="222.89" y="215.4" width="3" height="3"/><rect x="224.11" y="215.4" width="3" height="3"/><rect x="225.33" y="215.4" width="3" height="3"/><rect x="226.55" y="215.4" width="3" height="3"/><rect x="227.76" y="215.4" width="3" height="3"/><rect x="228.98" y="215.4" width="3" height="3"/><rect x="230.2" y="215.4" width="3" height="3"/><rect x="231.42" y="215.4" width="3" height="3"/><rect x="232.64" y="215.4" width="3" height="3"/><rect x="233.85" y="215.4" width="3" height="3"/><rect x="235.07" y="215.4" width="3" height="3"/><rect x="236.29" y="215.4" width="3" height="3"/></g>
<path d="M44.11 325.9L45.33 325.9L46.55 325.9L47.76 325.9L48.98 325.9L50.2 325.9L51.42 325.9L52.64 325.9L53.85 325.9L55.07 325.9L56.29 325.9L57.51 325.9L58.73 325.9L59.94 325.9L61.16 325.9L62.38 325.9L63.6 325.9L64.82 325.9L66.04 325.9L67.25 325.9L68.47 325.9L69.69 325.9L70.91 325.89L72.13 325.89L73.34 325.89L74.56 325.89L75.78 325.88L77 325.88L78.22 325.87L79.43 325.86L80.65 325.85L81.87 325.84L83.09 325.82L84.31 325.8L85.53 325.77L86.74 325.74L87.96 325.7L89.18 325.65L90.4 325.58L91.62 325.51L92.83 325.42L94.05 325.32L95.27 325.19L96.49 325.04L97.71 324.86L98.92 324.65L100.14 324.41L101.36 324.13L102.58 323.8L103.8 323.42L105.02 322.98L106.23 322.48L107.45 321.92L108.67 321.27L109.89 320.55L111.11 319.74L112.32 318.84L113.54 317.84L114.76 316.73L115.98 315.51L117.2 314.18L118.41 312.73L119.63 311.16L120.85 309.46L122.07 307.64L123.29 305.69L124.51 303.63L125.72 301.44L126.94 299.13L128.16 296.71L129.38 294.19L130.6 291.58L131.81 288.87L133.03 286.09L134.25 283.25L135.47 280.35L136.69 277.42L137.9 274.45L139.12 271.48L140.34 268.51L141.56 265.56L142.78 262.65L144 259.78L145.21 256.98L146.43 254.25L147.65 251.59L148.87 249.03L150.09 246.57L151.3 244.21L152.52 241.97L153.74 239.83L154.96 237.81L156.18 235.91L157.39 234.13L158.61 232.46L159.83 230.92L161.05 229.48L162.27 228.16L163.49 226.94L164.7 225.82L165.92 224.81L167.14 223.88L168.36 223.05L169.58 222.29L170.79 221.62L172.01 221.01L173.23 220.47L174.45 219.99L175.67 219.57L176.88 219.2L178.1 218.87L179.32 218.58L180.54 218.33L181.76 218.12L182.98 217.93L184.19 217.77L185.41 217.63L186.63 217.51L187.85 217.41L189.07 217.32L190.28 217.25L191.5 217.19L192.72 217.14L193.94 217.1L195.16 217.06L196.37 217.03L197.59 217.01L198.81 216.99L200.03 216.97L201.25 216.96L202.47 216.95L203.68 216.94L204.9 216.93L206.12 216.92L207.34 216.92L208.56 216.91L209.77 216.91L210.99 216.91L212.21 216.91L213.43 216.91L214.65 216.9L215.86 216.9L217.08 216.9L218.3 216.9L219.52 216.9L220.74 216.9L221.96 216.9L223.17 216.9L224.39 216.9L225.61 216.9L226.83 216.9L228.05 216.9L229.26 216.9L230.48 216.9L231.7 216.9L232.92 216.9L234.14 216.9L235.35 216.9L236.57 216.9L237.79 216.9" stroke="#ff0000" stroke-width="1" fill="none"/>
<g fill="#ff0000"><rect x="42.61" y="324.4" width="3" height="3"/><rect x="43.83" y="324.4" width="3" height="3"/><rect x="45.05" y="324.4" width="3" height="3"/><rect x="46.26" y="324.4" width="3" height="3"/><rect x="47.48" y="324.4" width="3" height="3"/><rect x="48.7" y="324.4" width="3" height="3"/><rect x="49.92" y="324.4" width="3" height="3"/><rect x="51.14" y="324.4" width="3" height="3"/><rect x="52.35" y="324.4" width="3" height="3"/><rect x="53.57" y="324.4" width="3" height="3"/><rect x="54.79" y="324.4" width="3" height="3"/><rect x="56.01" y="324.4" width="3" height="3"/><rect x="57.23" y="324.4" width="3" height="3"/><rect x="58.44" y="324.4" width="3" height="3"/><rect x="59.66" y="324.4" width="3" height="3"/><rect x="60.88" y="324.4" width="3" height="3"/><rect x="62.1" y="324.4" width="3" height="3"/><rect x="63.32" y="324.4" width="3" height="3"/><rect x="64.54" y="324.4" width="3" height="3"/><rect x="65.75" y="324.4" width="3" height="3"/><rect x="66.97" y="324.4" width="3" height="3"/><rect x="68.19" y="324.4" width="3" height="3"/><rect x="69.41" y="324.39" width="3" height="3"/><rect x="70.63" y="324.39" width="3" height="3"/><rect x="71.84" y="324.39" width="3" height="3"/><rect x="73.06" y="324.39" width="3" height="3"/><rect x="74.28" y="324.38" width="3" height="3"/><rect x="75.5" y="324.38" width="3" height="3"/><rect x="76.72" y="324.37" width="3" height="3"/><rect x="77.93" y="324.36" width="3" height="3"/><rect x="79.15" y="324.35" width="3" height="3"/><rect x="80.37" y="324.34" width="3" height="3"/><rect x="81.59" y="324.32" width="3" height="3"/><rect x="82.81" y="324.3" width="3" height="3"/><rect x="84.03" y="324.27" width="3" height="3"/><rect x="85.24" y="324.24" width="3" height="3"/><rect x="86.46" y="324.2" width="3" height="3"/><rect x="87.68" y="324.15" width="3" height="3"/><rect x="88.9" y="324.08" width="3" height="3"/><rect x="90.12" y="324.01" width="3" height="3"/><rect x="91.33" y="323.92" width="3" height="3"/><rect x="92.55" y="323.82" width="3" height="3"/><rect x="93.77" y="323.69" width="3" height="3"/><rect x="94.99" y="323.54" width="3" height="3"/><rect x="96.21" y="323.36" width="3" height="3"/><rect x="97.42" y="323.15" width="3" height="3"/><rect x="98.64" y="322.91" width="3" height="3"/><rect x="99.86" y="322.63" width="3" height="3"/><rect x="101.08" y="322.3" width="3" height="3"/><rect x="102.3" y="321.92" width="3" height="3"/><rect x="103.52" y="321.48" width="3" height="3"/><rect x="104.73" y="320.98" width="3" height="3"/><rect x="105.95" y="320.42" width="3" height="3"/><rect x="107.17" y="319.77" width="3" height="3"/><rect x="108.39" y="319.05" width="3" height="3"/><rect x="109.61" y="318.24" width="3" height="3"/><rect x="110.82" y="317.34" width="3" height="3"/><rect x="112.04" y="316.34" width="3" height="3"/><rect x="113.26" y="315.23" width="3" height="3"/><rect x="114.48" y="314.01" width="3" height="3"/><rect x="115.7" y="312.68" width="3" height="3"/><rect x="116.91" y="311.23" width="3" height="3"/><rect x="118.13" y="309.66" width="3" height="3"/><rect x="119.35" y="307.96" width="3" height="3"/><rect x="120.57" y="306.14" width="3" height="3"/><rect x="121.79" y="304.19" width="3" height="3"/><rect x="123.01" y="302.13" width="3" height="3"/><rect x="124.22" y="299.94" width="3" height="3"/><rect x="125.44" y="297.63" width="3" height="3"/><rect x="126.66" y="295.21" width="3" height="3"/><rect x="127.88" y="292.69" width="3" height="3"/><rect x="129.1" y="290.08" width="3" height="3"/><rect x="130.31" y="287.37" width="3" height="3"/><rect x="131.53" y="284.59" width="3" height="3"/><rect x="132.75" y="281.75" width="3" height="3"/><rect x="133.97" y="278.85" width="3" height="3"/><rect x="135.19" y="275.92" width="3" height="3"/><rect x="136.4" y="272.95" width="3" height="3"/><rect x="137.62" y="269.98" width="3" height="3"/><rect x="138.84" y="267.01" width="3" height="3"/><rect x="140.06" y="264.06" width="3" height="3"/><rect x="141.28" y="261.15" width="3" height="3"/><rect x="142.5" y="258.28" width="3" height="3"/><rect x="143.71" y="255.48" width="3" height="3"/><rect x="144.93" y="252.75" width="3" height="3"/><rect x="146.15" y="250.09" width="3" height="3"/><rect x="147.37" y="247.53" width="3" height="3"/><rect x="148.59" y="245.07" width="3" height="3"/><rect x="149.8" y="242.71" width="3" height="3"/><rect x="151.02" y="240.47" width="3" height="3"/><rect x="152.24" y="238.33" width="3" height="3"/><rect x="153.46" y="236.31" width="3" height="3"/><rect x="154.68" y="234.41" width="3" height="3"/><rect x="155.89" y="232.63" width="3" height="3"/><rect x="157.11" y="230.96" width="3" height="3"/><rect x="158.33" y="229.42" width="3" height="3"/><rect x="159.55" y="227.98" width="3" height="3"/><rect x="160.77" y="226.66" width="3" height="3"/><rect x="161.99" y="225.44" width="3" height="3"/><rect x="163.2" y="224.32" width="3" height="3"/><rect x="164.42" y="223.31" width="3" height="3"/><rect x="165.64" y="222.38" width="3" height="3"/><rect x="166.86" y="221.55" width="3" height="3"/><rect x="168.08" y="220.79" width="3" height="3"/><rect x="169.29" y="220.12" width="3" height="3"/><rect x="170.51" y="219.51" width="3" height="3"/><rect x="171.73" y="218.97" width="3" height="3"/><rect x="172.95" y="218.49" width="3" height="3"/><rect x="174.17" y="218.07" width="3" height="3"/><rect x="175.38" y="217.7" width="3" height="3"/><rect x="176.6" y="217.37" width="3" height="3"/><rect x="177.82" y="217.08" width="3" height="3"/><rect x="179.04" y="216.83" width="3" height="3"/><rect x="180.26" y="216.62" width="3" height="3"/><rect x="181.48" y="216.43" width="3" height="3"/><rect x="182.69" y="216.27" width="3" height="3"/><rect x="183.91" y="216.13" width="3" height="3"/><rect x="185.13" y="216.01" width="3" height="3"/><rect x="186.35" y="215.91" width="3" height="3"/><rect x="187.57" y="215.82" width="3" height="3"/><rect x="188.78" y="215.75" width="3" height="3"/><rect x="190" y="215.69" width="3" height="3"/><rect x="191.22" y="215.64" width="3" height="3"/><rect x="192.44" y="215.6" width="3" height="3"/><rect x="193.66" y="215.56" width="3" height="3"/><rect x="194.87" y="215.53" width="3" height="3"/><rect x="196.09" y="215.51" width="3" height="3"/><rect x="197.31" y="215.49" width="3" height="3"/><rect x="198.53" y="215.47" width="3" height="3"/><rect x="199.75" y="215.46" width="3" height="3"/><rect x="200.97" y="215.45" width="3" height="3"/><rect x="202.18" y="215.44" width="3" height="3"/><rect x="203.4" y="215.43" width="3" height="3"/><rect x="204.62" y="215.42" width="3" height="3"/><rect x="205.84" y="215.42" width="3" height="3"/><rect x="207.06" y="215.41" width="3" height="3"/><rect x="208.27" y="215.41" width="3" height="3"/><rect x="209.49" y="215.41" width="3" height="3"/><rect x="210.71" y="215.41" width="3" height="3"/><rect x="211.93" y="215.41" width="3" height="3"/><rect x="213.15" y="215.4" width="3" height="3"/><rect x="214.36" y="215.4" width="3" height="3"/><rect x="215.58" y="215.4" width="3" height="3"/><rect x="216.8" y="215.4" width="3" height="3"/><rect x="218.02" y="215.4" width="3" height="3"/><rect x="219.24" y="215.4" width="3" height="3"/><rect x="220.46" y="215.4" width="3" height="3"/><rect x="221.67" y="215.4" width="3" height="3"/><rect x="222.89" y="215.4" width="3" height="3"/><rect x="224.11" y="215.4" width="3" height="3"/><rect x="225.33" y="215.4" width="3" height="3"/><rect x="226.55" y="215.4" width="3" height="3"/><rect x="227.76" y="215.4" width="3" height="3"/><rect x="228.98" y="215.4" width="3" height="3"/><rect x="230.2" y="215.4" width="3" height="3"/><rect x="231.42" y="215.4" width="3" height="3"/><rect x="232.64" y="215.4" width="3" height="3"/><rect x="233.85" y="215.4" width="3" height="3"/><rect x="235.07" y="215.4" width="3" height="3"/><rect x="236.29" y="215.4" width="3" height="3"/></g>
<path d="M44.11 325.9L45.33 325.9L46.55 325.9L47.76 325.9L48.98 325.9L50.2 325.9L51.42 325.9L52.64 325.9L53.85 325.9L55.07 325.9L56.29 325.9L57.51 325.9L58.73 325.9L59.94 325.9L61.16 325.9L62.38 325.9L63.6 325.9L64.82 325.9L66.04 325.9L67.25 325.9L68.47 325.9L69.69 325.9L70.91 325.9L72.13 325.89L73.34 325.89L74.56 325.89L75.78 325.89L77 325.88L78.22 325.88L79.43 325.87L80.65 325.86L81.87 325.85L83.09 325.84L84.31 325.83L85.53 325.81L86.74 325.78L87.96 325.75L89.18 325.71L90.4 325.67L91.62 325.61L92.83 325.55L94.05 325.47L95.27 325.37L96.49 325.26L97.71 325.12L98.92 324.96L100.14 324.77L101.36 324.55L102.58 324.29L103.8 323.99L105.02 323.65L106.23 323.25L107.45 322.79L108.67 322.28L109.89 321.69L111.11 321.03L112.32 320.29L113.54 319.46L114.76 318.54L115.98 317.51L117.2 316.39L118.41 315.15L119.63 313.81L120.85 312.35L122.07 310.76L123.29 309.06L124.51 307.24L125.72 305.29L126.94 303.23L128.16 301.05L129.38 298.75L130.6 296.35L131.81 293.86L133.03 291.27L134.25 288.59L135.47 285.85L136.69 283.04L137.9 280.19L139.12 277.29L140.34 274.38L141.56 271.45L142.78 268.54L144 265.64L145.21 262.77L146.43 259.96L147.65 257.2L148.87 254.51L150.09 251.9L151.3 249.38L152.52 246.95L153.74 244.62L154.96 242.39L156.18 240.28L157.39 238.27L158.61 236.38L159.83 234.61L161.05 232.94L162.27 231.39L163.49 229.95L164.7 228.61L165.92 227.38L167.14 226.25L168.36 225.22L169.58 224.28L170.79 223.42L172.01 222.65L173.23 221.95L174.45 221.32L175.67 220.76L176.88 220.26L178.1 219.81L179.32 219.42L180.54 219.07L181.76 218.76L182.98 218.5L184.19 218.26L185.41 218.06L186.63 217.88L187.85 217.73L189.07 217.6L190.28 217.49L191.5 217.39L192.72 217.31L193.94 217.24L195.16 217.18L196.37 217.14L197.59 217.09L198.81 217.06L200.03 217.03L201.25 217.01L202.47 216.99L203.68 216.97L204.9 216.96L206.12 216.95L207.34 216.94L208.56 216.93L209.77 216.92L210.99 216.92L212.21 216.91L213.43 216.91L214.65 216.91L215.86 216.91L217.08 216.91L218.3 216.9L219.52 216.9L220.74 216.9L221.96 216.9L223.17 216.9L224.39 216.9L225.61 216.9L226.83 216.9L228.05 216.9L229.26 216.9L230.48 216.9L231.7 216.9L232.92 216.9L234.14 216.9L235.35 216.9L236.57 216.9L237.79 216.9" stroke="#000000" stroke-width="1" fill="none"/>
<g fill="#000000"><rect x="42.61" y="324.4" width="3" height="3"/><rect x="43.83" y="324.4" width="3" height="3"/><rect x="45.05" y="324.4" width="3" height="3"/><rect x="46.26" y="324.4" width="3" height="3"/><rect x="47.48" y="324.4" width="3" height="3"/><rect x="48.7" y="324.4" width="3" height="3"/><rect x="49.92" y="324.4" width="3" height="3"/><rect x="51.14" y="324.4" width="3" height="3"/><rect x="52.35" y="324.4" width="3" height="3"/><rect x="53.57" y="324.4" width="3" height="3"/><rect x="54.79" y="324.4" width="3" height="3"/><rect x="56.01" y="324.4" width="3" height="3"/><rect x="57.23" y="324.4" width="3" height="3"/><rect x="58.44" y="324.4" width="3" height="3"/><rect x="59.66" y="324.4" width="3" height="3"/><rect x="60.88" y="324.4" width="3" height="3"/><rect x="62.1" y="324.4" width="3" height="3"/><rect x="63.32" y="324.4" width="3" height="3"/><rect x="64.54" y="324.4" width="3" height="3"/><rect x="65.75" y="324.4" width="3" height="3"/><rect x="66.97" y="324.4" width="3" height="3"/><rect x="68.19" y="324.4" width="3" height="3"/><rect x="69.41" y="324.4" width="3" height="3"/><rect x="70.63" y="324.39" width="3" height="3"/><rect x="71.84" y="324.39" width="3" height="3"/><rect x="73.06" y="324.39" width="3" height="3"/><rect x="74.28" y="324.39" width="3" height="3"/><rect x="75.5" y="324.38" width="3" height="3"/><rect x="76.72" y="324.38" width="3" height="3"/><rect x="77.93" y="324.37" width="3" height="3"/><rect x="79.15" y="324.36" width="3" height="3"/><rect x="80.37" y="324.35" width="3" height="3"/><rect x="81.59" y="324.34" width="3" height="3"/><rect x="82.81" y="324.33" width="3" height="3"/><rect x="84.03" y="324.31" width="3" height="3"/><rect x="85.24" y="324.28" width="3" height="3"/><rect x="86.46" y="324.25" width="3" height="3"/><rect x="87.68" y="324.21" width="3" height="3"/><rect x="88.9" y="324.17" width="3" height="3"/><rect x="90.12" y="324.11" width="3" height="3"/><rect x="91.33" y="324.05" width="3" height="3"/><rect x="92.55" y="323.97" width="3" height="3"/><rect x="93.77" y="323.87" width="3" height="3"/><rect x="94.99" y="323.76" width="3" height="3"/><rect x="96.21" y="323.62" width="3" height="3"/><rect x="97.42" y="323.46" width="3" height="3"/><rect x="98.64" y="323.27" width="3" height="3"/><rect x="99.86" y="323.05" width="3" height="3"/><rect x="101.08" y="322.79" width="3" height="3"/><rect x="102.3" y="322.49" width="3" height="3"/><rect x="103.52" y="322.15" width="3" height="3"/><rect x="104.73" y="321.75" width="3" height="3"/><rect x="105.95" y="321.29" width="3" height="3"/><rect x="107.17" y="320.78" width="3" height="3"/><rect x="108.39" y="320.19" width="3" height="3"/><rect x="109.61" y="319.53" width="3" height="3"/><rect x="110.82" y="318.79" width="3" height="3"/><rect x="112.04" y="317.96" width="3" height="3"/><rect x="113.26" y="317.04" width="3" height="3"/><rect x="114.48" y="316.01" width="3" height="3"/><rect x="115.7" y="314.89" width="3" height="3"/><rect x="116.91" y="313.65" width="3" height="3"/><rect x="118.13" y="312.31" width="3" height="3"/><rect x="119.35" y="310.85" width="3" height="3"/><rect x="120.57" y="309.26" width="3" height="3"/><rect x="121.79" y="307.56" width="3" height="3"/><rect x="123.01" y="305.74" width="3" height="3"/><rect x="124.22" y="303.79" width="3" height="3"/><rect x="125.44" y="301.73" width="3" height="3"/><rect x="126.66" y="299.55" width="3" height="3"/><rect x="127.88" y="297.25" width="3" height="3"/><rect x="129.1" y="294.85" width="3" height="3"/><rect x="130.31" y="292.36" width="3" height="3"/><rect x="131.53" y="289.77" width="3" height="3"/><rect x="132.75" y="287.09" width="3" height="3"/><rect x="133.97" y="284.35" width="3" height="3"/><rect x="135.19" y="281.54" width="3" height="3"/><rect x="136.4" y="278.69" width="3" height="3"/><rect x="137.62" y="275.79" width="3" height="3"/><rect x="138.84" y="272.88" width="3" height="3"/><rect x="140.06" y="269.95" width="3" height="3"/><rect x="141.28" y="267.04" width="3" height="3"/><rect x="142.5" y="264.14" width="3" height="3"/><rect x="143.71" y="261.27" width="3" height="3"/><rect x="144.93" y="258.46" width="3" height="3"/><rect x="146.15" y="255.7" width="3" height="3"/><rect x="147.37" y="253.01" width="3" height="3"/><rect x="148.59" y="250.4" width="3" height="3"/><rect x="149.8" y="247.88" width="3" height="3"/><rect x="151.02" y="245.45" width="3" height="3"/><rect x="152.24" y="243.12" width="3" height="3"/><rect x="153.46" y="240.89" width="3" height="3"/><rect x="154.68" y="238.78" width="3" height="3"/><rect x="155.89" y="236.77" width="3" height="3"/><rect x="157.11" y="234.88" width="3" height="3"/><rect x="158.33" y="233.11" width="3" height="3"/><rect x="159.55" y="231.44" width="3" height="3"/><rect x="160.77" y="229.89" width="3" height="3"/><rect x="161.99" y="228.45" width="3" height="3"/><rect x="163.2" y="227.11" width="3" height="3"/><rect x="164.42" y="225.88" width="3" height="3"/><rect x="165.64" y="224.75" width="3" height="3"/><rect x="166.86" y="223.72" width="3" height="3"/><rect x="168.08" y="222.78" width="3" height="3"/><rect x="169.29" y="221.92" width="3" height="3"/><rect x="170.51" y="221.15" width="3" height="3"/><rect x="171.73" y="220.45" width="3" height="3"/><rect x="172.95" y="219.82" width="3" height="3"/><rect x="174.17" y="219.26" width="3" height="3"/><rect x="175.38" y="218.76" width="3" height="3"/><rect x="176.6" y="218.31" width="3" height="3"/><rect x="177.82" y="217.92" width="3" height="3"/><rect x="179.04" y="217.57" width="3" height="3"/><rect x="180.26" y="217.26" width="3" height="3"/><rect x="181.48" y="217" width="3" height="3"/><rect x="182.69" y="216.76" width="3" height="3"/><rect x="183.91" y="216.56" width="3" height="3"/><rect x="185.13" y="216.38" width="3" height="3"/><rect x="186.35" y="216.23" width="3" height="3"/><rect x="187.57" y="216.1" width="3" height="3"/><rect x="188.78" y="215.99" width="3" height="3"/><rect x="190" y="215.89" width="3" height="3"/><rect x="191.22" y="215.81" width="3" height="3"/><rect x="192.44" y="215.74" width="3" height="3"/><rect x="193.66" y="215.68" width="3" height="3"/><rect x="194.87" y="215.64" width="3" height="3"/><rect x="196.09" y="215.59" width="3" height="3"/><rect x="197.31" y="215.56" width="3" height="3"/><rect x="198.53" y="215.53" width="3" height="3"/><rect x="199.75" y="215.51" width="3" height="3"/><rect x="200.97" y="215.49" width="3" height="3"/><rect x="202.18" y="215.47" width="3" height="3"/><rect x="203.4" y="215.46" width="3" height="3"/><rect x="204.62" y="215.45" width="3" height="3"/><rect x="205.84" y="215.44" width="3" height="3"/><rect x="207.06" y="215.43" width="3" height="3"/><rect x="208.27" y="215.42" width="3" height="3"/><rect x="209.49" y="215.42" width="3" height="3"/><rect x="210.71" y="215.41" width="3" height="3"/><rect x="211.93" y="215.41" width="3" height="3"/><rect x="213.15" y="215.41" width="3" height="3"/><rect x="214.36" y="215.41" width="3" height="3"/><rect x="215.58" y="215.41" width="3" height="3"/><rect x="216.8" y="215.4" width="3" height="3"/><rect x="218.02" y="215.4" width="3" height="3"/><rect x="219.24" y="215.4" width="3" height="3"/><rect x="220.46" y="215.4" width="3" height="3"/><rect x="221.67" y="215.4" width="3" height="3"/><rect x="222.89" y="215.4" width="3" height="3"/><rect x="224.11" y="215.4" width="3" height="3"/><rect x="225.33" y="215.4" width="3" height="3"/><rect x="226.55" y="215.4" width="3" height="3"/><rect x="227.76" y="215.4" width="3" height="3"/><rect x="228.98" y="215.4" width="3" height="3"/><rect x="230.2" y="215.4" width="3" height="3"/><rect x="231.42" y="215.4" width="3" height="3"/><rect x="232.64" y="215.4" width="3" height="3"/><rect x="233.85" y="215.4" width="3" height="3"/><rect x="235.07" y="215.4" width="3" height="3"/><rect x="236.29" y="215.4" width="3" height="3"/></g>
</g>
<g stroke="#2a2a2a" stroke-width="1" stroke-dasharray="1 1.25" fill="none">
<path d="M298.4 325V206.5"/>
<path d="M420.5 325V206.5"/>
<path d="M282 304.1H476.7"/>
<path d="M282 282.3H476.7"/>
<path d="M282 260.5H476.7"/>
<path d="M282 238.7H476.7"/>
<path d="M282 216.9H476.7"/>
</g>
<rect x="281.8" y="206.5" width="194.9" height="119.4" fill="none" stroke="#000" stroke-width="1"/>
<path d="M298.4 325.9v-5.2M322.82 325.9v-2.5M347.24 325.9v-2.5M371.66 325.9v-2.5M396.08 325.9v-2.5M420.5 325.9v-5.2M444.92 325.9v-2.5M469.34 325.9v-2.5M281.8 325.9h6.3M281.8 320.45h3M281.8 315h3M281.8 309.55h3M281.8 304.1h6.3M281.8 298.65h3M281.8 293.2h3M281.8 287.75h3M281.8 282.3h6.3M281.8 276.85h3M281.8 271.4h3M281.8 265.95h3M281.8 260.5h6.3M281.8 255.05h3M281.8 249.6h3M281.8 244.15h3M281.8 238.7h6.3M281.8 233.25h3M281.8 227.8h3M281.8 222.35h3M281.8 216.9h6.3M281.8 211.45h3" stroke="#000" stroke-width="1" fill="none"/>
<g font-size="9.7" font-weight="bold" letter-spacing="-0.12" stroke="#000" stroke-width="0.25">
<text x="298.4" y="337.2" text-anchor="middle">0.1</text>
<text x="420.5" y="337.2" text-anchor="middle">0.15</text>
<text x="279" y="329.7" text-anchor="end">0</text>
<text x="279" y="307.9" text-anchor="end">0.2</text>
<text x="279" y="286.1" text-anchor="end">0.4</text>
<text x="279" y="264.3" text-anchor="end">0.6</text>
<text x="279" y="242.5" text-anchor="end">0.8</text>
<text x="279" y="220.7" text-anchor="end">1</text>
</g>
<text transform="translate(255.1 206.8) rotate(-90)" text-anchor="end" font-size="13.4" font-weight="bold" letter-spacing="-0.25" stroke="#000" stroke-width="0.2">Cumulative proba.</text>
<text x="477.3" y="353.3" font-family="Liberation Serif" font-size="15" text-anchor="end">α</text>
<path d="M281.8 236.5H476.7M281.8 271.5H476.7M281.8 308.5H476.7" stroke="#0000ff" stroke-width="1" stroke-dasharray="2.6 1.96" fill="none"/>
<clipPath id="c11"><rect x="281.3" y="203.5" width="195.9" height="123.1"/></clipPath><g clip-path="url(#c11)">
<path d="M283.02 325.9L285.45 325.9L287.89 325.9L290.33 325.9L292.76 325.9L295.2 325.9L297.64 325.9L300.07 325.9L302.51 325.89L304.94 325.89L307.38 325.88L309.82 325.87L312.25 325.86L314.69 325.84L317.13 325.8L319.56 325.75L322 325.67L324.43 325.56L326.87 325.41L329.31 325.19L331.74 324.89L334.18 324.48L336.62 323.94L339.05 323.23L341.49 322.31L343.92 321.14L346.36 319.69L348.8 317.9L351.23 315.73L353.67 313.16L356.11 310.15L358.54 306.68L360.98 302.75L363.41 298.38L365.85 293.6L368.29 288.46L370.72 283.02L373.16 277.37L375.6 271.6L378.03 265.84L380.47 260.17L382.9 254.72L385.34 249.55L387.78 244.74L390.21 240.34L392.65 236.39L395.09 232.88L397.52 229.84L399.96 227.23L402.39 225.04L404.83 223.23L407.27 221.75L409.7 220.56L412.14 219.63L414.58 218.91L417.01 218.35L419.45 217.94L421.88 217.63L424.32 217.41L426.76 217.25L429.19 217.13L431.63 217.05L434.07 217L436.5 216.97L438.94 216.94L441.37 216.93L443.81 216.92L446.25 216.91L448.68 216.91L451.12 216.9L453.56 216.9L455.99 216.9L458.43 216.9L460.86 216.9L463.3 216.9L465.74 216.9L468.17 216.9L470.61 216.9L473.05 216.9L475.48 216.9" stroke="#0000ff" stroke-width="1" fill="none"/>
<g fill="#0000ff"><circle cx="283.02" cy="325.9" r="1.6"/><circle cx="285.45" cy="325.9" r="1.6"/><circle cx="287.89" cy="325.9" r="1.6"/><circle cx="290.33" cy="325.9" r="1.6"/><circle cx="292.76" cy="325.9" r="1.6"/><circle cx="295.2" cy="325.9" r="1.6"/><circle cx="297.64" cy="325.9" r="1.6"/><circle cx="300.07" cy="325.9" r="1.6"/><circle cx="302.51" cy="325.89" r="1.6"/><circle cx="304.94" cy="325.89" r="1.6"/><circle cx="307.38" cy="325.88" r="1.6"/><circle cx="309.82" cy="325.87" r="1.6"/><circle cx="312.25" cy="325.86" r="1.6"/><circle cx="314.69" cy="325.84" r="1.6"/><circle cx="317.13" cy="325.8" r="1.6"/><circle cx="319.56" cy="325.75" r="1.6"/><circle cx="322" cy="325.67" r="1.6"/><circle cx="324.43" cy="325.56" r="1.6"/><circle cx="326.87" cy="325.41" r="1.6"/><circle cx="329.31" cy="325.19" r="1.6"/><circle cx="331.74" cy="324.89" r="1.6"/><circle cx="334.18" cy="324.48" r="1.6"/><circle cx="336.62" cy="323.94" r="1.6"/><circle cx="339.05" cy="323.23" r="1.6"/><circle cx="341.49" cy="322.31" r="1.6"/><circle cx="343.92" cy="321.14" r="1.6"/><circle cx="346.36" cy="319.69" r="1.6"/><circle cx="348.8" cy="317.9" r="1.6"/><circle cx="351.23" cy="315.73" r="1.6"/><circle cx="353.67" cy="313.16" r="1.6"/><circle cx="356.11" cy="310.15" r="1.6"/><circle cx="358.54" cy="306.68" r="1.6"/><circle cx="360.98" cy="302.75" r="1.6"/><circle cx="363.41" cy="298.38" r="1.6"/><circle cx="365.85" cy="293.6" r="1.6"/><circle cx="368.29" cy="288.46" r="1.6"/><circle cx="370.72" cy="283.02" r="1.6"/><circle cx="373.16" cy="277.37" r="1.6"/><circle cx="375.6" cy="271.6" r="1.6"/><circle cx="378.03" cy="265.84" r="1.6"/><circle cx="380.47" cy="260.17" r="1.6"/><circle cx="382.9" cy="254.72" r="1.6"/><circle cx="385.34" cy="249.55" r="1.6"/><circle cx="387.78" cy="244.74" r="1.6"/><circle cx="390.21" cy="240.34" r="1.6"/><circle cx="392.65" cy="236.39" r="1.6"/><circle cx="395.09" cy="232.88" r="1.6"/><circle cx="397.52" cy="229.84" r="1.6"/><circle cx="399.96" cy="227.23" r="1.6"/><circle cx="402.39" cy="225.04" r="1.6"/><circle cx="404.83" cy="223.23" r="1.6"/><circle cx="407.27" cy="221.75" r="1.6"/><circle cx="409.7" cy="220.56" r="1.6"/><circle cx="412.14" cy="219.63" r="1.6"/><circle cx="414.58" cy="218.91" r="1.6"/><circle cx="417.01" cy="218.35" r="1.6"/><circle cx="419.45" cy="217.94" r="1.6"/><circle cx="421.88" cy="217.63" r="1.6"/><circle cx="424.32" cy="217.41" r="1.6"/><circle cx="426.76" cy="217.25" r="1.6"/><circle cx="429.19" cy="217.13" r="1.6"/><circle cx="431.63" cy="217.05" r="1.6"/><circle cx="434.07" cy="217" r="1.6"/><circle cx="436.5" cy="216.97" r="1.6"/><circle cx="438.94" cy="216.94" r="1.6"/><circle cx="441.37" cy="216.93" r="1.6"/><circle cx="443.81" cy="216.92" r="1.6"/><circle cx="446.25" cy="216.91" r="1.6"/><circle cx="448.68" cy="216.91" r="1.6"/><circle cx="451.12" cy="216.9" r="1.6"/><circle cx="453.56" cy="216.9" r="1.6"/><circle cx="455.99" cy="216.9" r="1.6"/><circle cx="458.43" cy="216.9" r="1.6"/><circle cx="460.86" cy="216.9" r="1.6"/><circle cx="463.3" cy="216.9" r="1.6"/><circle cx="465.74" cy="216.9" r="1.6"/><circle cx="468.17" cy="216.9" r="1.6"/><circle cx="470.61" cy="216.9" r="1.6"/><circle cx="473.05" cy="216.9" r="1.6"/><circle cx="475.48" cy="216.9" r="1.6"/></g>
<path d="M283.02 325.9L285.45 325.9L287.89 325.9L290.33 325.9L292.76 325.9L295.2 325.9L297.64 325.9L300.07 325.9L302.51 325.9L304.94 325.89L307.38 325.89L309.82 325.88L312.25 325.87L314.69 325.86L317.13 325.84L319.56 325.8L322 325.75L324.43 325.67L326.87 325.57L329.31 325.41L331.74 325.2L334.18 324.91L336.62 324.52L339.05 323.99L341.49 323.3L343.92 322.42L346.36 321.3L348.8 319.9L351.23 318.18L353.67 316.09L356.11 313.62L358.54 310.71L360.98 307.37L363.41 303.57L365.85 299.34L368.29 294.7L370.72 289.69L373.16 284.38L375.6 278.84L378.03 273.16L380.47 267.45L382.9 261.81L385.34 256.35L387.78 251.14L390.21 246.27L392.65 241.78L395.09 237.72L397.52 234.09L399.96 230.92L402.39 228.18L404.83 225.86L407.27 223.92L409.7 222.33L412.14 221.04L414.58 220.01L417.01 219.21L419.45 218.59L421.88 218.12L424.32 217.77L426.76 217.51L429.19 217.32L431.63 217.19L434.07 217.09L436.5 217.03L438.94 216.98L441.37 216.95L443.81 216.93L446.25 216.92L448.68 216.91L451.12 216.91L453.56 216.9L455.99 216.9L458.43 216.9L460.86 216.9L463.3 216.9L465.74 216.9L468.17 216.9L470.61 216.9L473.05 216.9L475.48 216.9" stroke="#00ff00" stroke-width="1" fill="none"/>
<g fill="#00ff00"><rect x="281.52" y="324.4" width="3" height="3"/><rect x="283.95" y="324.4" width="3" height="3"/><rect x="286.39" y="324.4" width="3" height="3"/><rect x="288.83" y="324.4" width="3" height="3"/><rect x="291.26" y="324.4" width="3" height="3"/><rect x="293.7" y="324.4" width="3" height="3"/><rect x="296.14" y="324.4" width="3" height="3"/><rect x="298.57" y="324.4" width="3" height="3"/><rect x="301.01" y="324.4" width="3" height="3"/><rect x="303.44" y="324.39" width="3" height="3"/><rect x="305.88" y="324.39" width="3" height="3"/><rect x="308.32" y="324.38" width="3" height="3"/><rect x="310.75" y="324.37" width="3" height="3"/><rect x="313.19" y="324.36" width="3" height="3"/><rect x="315.63" y="324.34" width="3" height="3"/><rect x="318.06" y="324.3" width="3" height="3"/><rect x="320.5" y="324.25" width="3" height="3"/><rect x="322.93" y="324.17" width="3" height="3"/><rect x="325.37" y="324.07" width="3" height="3"/><rect x="327.81" y="323.91" width="3" height="3"/><rect x="330.24" y="323.7" width="3" height="3"/><rect x="332.68" y="323.41" width="3" height="3"/><rect x="335.12" y="323.02" width="3" height="3"/><rect x="337.55" y="322.49" width="3" height="3"/><rect x="339.99" y="321.8" width="3" height="3"/><rect x="342.42" y="320.92" width="3" height="3"/><rect x="344.86" y="319.8" width="3" height="3"/><rect x="347.3" y="318.4" width="3" height="3"/><rect x="349.73" y="316.68" width="3" height="3"/><rect x="352.17" y="314.59" width="3" height="3"/><rect x="354.61" y="312.12" width="3" height="3"/><rect x="357.04" y="309.21" width="3" height="3"/><rect x="359.48" y="305.87" width="3" height="3"/><rect x="361.91" y="302.07" width="3" height="3"/><rect x="364.35" y="297.84" width="3" height="3"/><rect x="366.79" y="293.2" width="3" height="3"/><rect x="369.22" y="288.19" width="3" height="3"/><rect x="371.66" y="282.88" width="3" height="3"/><rect x="374.1" y="277.34" width="3" height="3"/><rect x="376.53" y="271.66" width="3" height="3"/><rect x="378.97" y="265.95" width="3" height="3"/><rect x="381.4" y="260.31" width="3" height="3"/><rect x="383.84" y="254.85" width="3" height="3"/><rect x="386.28" y="249.64" width="3" height="3"/><rect x="388.71" y="244.77" width="3" height="3"/><rect x="391.15" y="240.28" width="3" height="3"/><rect x="393.59" y="236.22" width="3" height="3"/><rect x="396.02" y="232.59" width="3" height="3"/><rect x="398.46" y="229.42" width="3" height="3"/><rect x="400.89" y="226.68" width="3" height="3"/><rect x="403.33" y="224.36" width="3" height="3"/><rect x="405.77" y="222.42" width="3" height="3"/><rect x="408.2" y="220.83" width="3" height="3"/><rect x="410.64" y="219.54" width="3" height="3"/><rect x="413.08" y="218.51" width="3" height="3"/><rect x="415.51" y="217.71" width="3" height="3"/><rect x="417.95" y="217.09" width="3" height="3"/><rect x="420.38" y="216.62" width="3" height="3"/><rect x="422.82" y="216.27" width="3" height="3"/><rect x="425.26" y="216.01" width="3" height="3"/><rect x="427.69" y="215.82" width="3" height="3"/><rect x="430.13" y="215.69" width="3" height="3"/><rect x="432.57" y="215.59" width="3" height="3"/><rect x="435" y="215.53" width="3" height="3"/><rect x="437.44" y="215.48" width="3" height="3"/><rect x="439.87" y="215.45" width="3" height="3"/><rect x="442.31" y="215.43" width="3" height="3"/><rect x="444.75" y="215.42" width="3" height="3"/><rect x="447.18" y="215.41" width="3" height="3"/><rect x="449.62" y="215.41" width="3" height="3"/><rect x="452.06" y="215.4" width="3" height="3"/><rect x="454.49" y="215.4" width="3" height="3"/><rect x="456.93" y="215.4" width="3" height="3"/><rect x="459.36" y="215.4" width="3" height="3"/><rect x="461.8" y="215.4" width="3" height="3"/><rect x="464.24" y="215.4" width="3" height="3"/><rect x="466.67" y="215.4" width="3" height="3"/><rect x="469.11" y="215.4" width="3" height="3"/><rect x="471.55" y="215.4" width="3" height="3"/><rect x="473.98" y="215.4" width="3" height="3"/></g>
<path d="M283.02 325.9L285.45 325.9L287.89 325.9L290.33 325.9L292.76 325.9L295.2 325.9L297.64 325.9L300.07 325.9L302.51 325.9L304.94 325.89L307.38 325.89L309.82 325.88L312.25 325.87L314.69 325.85L317.13 325.82L319.56 325.78L322 325.72L324.43 325.63L326.87 325.5L329.31 325.32L331.74 325.07L334.18 324.73L336.62 324.28L339.05 323.67L341.49 322.89L343.92 321.88L346.36 320.61L348.8 319.03L351.23 317.11L353.67 314.8L356.11 312.08L358.54 308.91L360.98 305.28L363.41 301.21L365.85 296.7L368.29 291.8L370.72 286.56L373.16 281.06L375.6 275.38L378.03 269.63L380.47 263.9L382.9 258.32L385.34 252.97L387.78 247.94L390.21 243.28L392.65 239.03L395.09 235.23L397.52 231.89L399.96 228.99L402.39 226.53L404.83 224.46L407.27 222.76L409.7 221.37L412.14 220.27L414.58 219.41L417.01 218.74L419.45 218.23L421.88 217.84L424.32 217.56L426.76 217.36L429.19 217.21L431.63 217.11L434.07 217.04L436.5 216.99L438.94 216.96L441.37 216.94L443.81 216.92L446.25 216.91L448.68 216.91L451.12 216.91L453.56 216.9L455.99 216.9L458.43 216.9L460.86 216.9L463.3 216.9L465.74 216.9L468.17 216.9L470.61 216.9L473.05 216.9L475.48 216.9" stroke="#ff0000" stroke-width="1" fill="none"/>
<g fill="#ff0000"><rect x="281.52" y="324.4" width="3" height="3"/><rect x="283.95" y="324.4" width="3" height="3"/><rect x="286.39" y="324.4" width="3" height="3"/><rect x="288.83" y="324.4" width="3" height="3"/><rect x="291.26" y="324.4" width="3" height="3"/><rect x="293.7" y="324.4" width="3" height="3"/><rect x="296.14" y="324.4" width="3" height="3"/><rect x="298.57" y="324.4" width="3" height="3"/><rect x="301.01" y="324.4" width="3" height="3"/><rect x="303.44" y="324.39" width="3" height="3"/><rect x="305.88" y="324.39" width="3" height="3"/><rect x="308.32" y="324.38" width="3" height="3"/><rect x="310.75" y="324.37" width="3" height="3"/><rect x="313.19" y="324.35" width="3" height="3"/><rect x="315.63" y="324.32" width="3" height="3"/><rect x="318.06" y="324.28" width="3" height="3"/><rect x="320.5" y="324.22" width="3" height="3"/><rect x="322.93" y="324.13" width="3" height="3"/><rect x="325.37" y="324" width="3" height="3"/><rect x="327.81" y="323.82" width="3" height="3"/><rect x="330.24" y="323.57" width="3" height="3"/><rect x="332.68" y="323.23" width="3" height="3"/><rect x="335.12" y="322.78" width="3" height="3"/><rect x="337.55" y="322.17" width="3" height="3"/><rect x="339.99" y="321.39" width="3" height="3"/><rect x="342.42" y="320.38" width="3" height="3"/><rect x="344.86" y="319.11" width="3" height="3"/><rect x="347.3" y="317.53" width="3" height="3"/><rect x="349.73" y="315.61" width="3" height="3"/><rect x="352.17" y="313.3" width="3" height="3"/><rect x="354.61" y="310.58" width="3" height="3"/><rect x="357.04" y="307.41" width="3" height="3"/><rect x="359.48" y="303.78" width="3" height="3"/><rect x="361.91" y="299.71" width="3" height="3"/><rect x="364.35" y="295.2" width="3" height="3"/><rect x="366.79" y="290.3" width="3" height="3"/><rect x="369.22" y="285.06" width="3" height="3"/><rect x="371.66" y="279.56" width="3" height="3"/><rect x="374.1" y="273.88" width="3" height="3"/><rect x="376.53" y="268.13" width="3" height="3"/><rect x="378.97" y="262.4" width="3" height="3"/><rect x="381.4" y="256.82" width="3" height="3"/><rect x="383.84" y="251.47" width="3" height="3"/><rect x="386.28" y="246.44" width="3" height="3"/><rect x="388.71" y="241.78" width="3" height="3"/><rect x="391.15" y="237.53" width="3" height="3"/><rect x="393.59" y="233.73" width="3" height="3"/><rect x="396.02" y="230.39" width="3" height="3"/><rect x="398.46" y="227.49" width="3" height="3"/><rect x="400.89" y="225.03" width="3" height="3"/><rect x="403.33" y="222.96" width="3" height="3"/><rect x="405.77" y="221.26" width="3" height="3"/><rect x="408.2" y="219.87" width="3" height="3"/><rect x="410.64" y="218.77" width="3" height="3"/><rect x="413.08" y="217.91" width="3" height="3"/><rect x="415.51" y="217.24" width="3" height="3"/><rect x="417.95" y="216.73" width="3" height="3"/><rect x="420.38" y="216.34" width="3" height="3"/><rect x="422.82" y="216.06" width="3" height="3"/><rect x="425.26" y="215.86" width="3" height="3"/><rect x="427.69" y="215.71" width="3" height="3"/><rect x="430.13" y="215.61" width="3" height="3"/><rect x="432.57" y="215.54" width="3" height="3"/><rect x="435" y="215.49" width="3" height="3"/><rect x="437.44" y="215.46" width="3" height="3"/><rect x="439.87" y="215.44" width="3" height="3"/><rect x="442.31" y="215.42" width="3" height="3"/><rect x="444.75" y="215.41" width="3" height="3"/><rect x="447.18" y="215.41" width="3" height="3"/><rect x="449.62" y="215.41" width="3" height="3"/><rect x="452.06" y="215.4" width="3" height="3"/><rect x="454.49" y="215.4" width="3" height="3"/><rect x="456.93" y="215.4" width="3" height="3"/><rect x="459.36" y="215.4" width="3" height="3"/><rect x="461.8" y="215.4" width="3" height="3"/><rect x="464.24" y="215.4" width="3" height="3"/><rect x="466.67" y="215.4" width="3" height="3"/><rect x="469.11" y="215.4" width="3" height="3"/><rect x="471.55" y="215.4" width="3" height="3"/><rect x="473.98" y="215.4" width="3" height="3"/></g>
<path d="M283.02 325.9L285.45 325.9L287.89 325.9L290.33 325.9L292.76 325.9L295.2 325.9L297.64 325.9L300.07 325.9L302.51 325.9L304.94 325.9L307.38 325.89L309.82 325.89L312.25 325.88L314.69 325.87L317.13 325.85L319.56 325.82L322 325.78L324.43 325.72L326.87 325.63L329.31 325.5L331.74 325.32L334.18 325.08L336.62 324.75L339.05 324.3L341.49 323.71L343.92 322.94L346.36 321.96L348.8 320.73L351.23 319.2L353.67 317.34L356.11 315.1L358.54 312.45L360.98 309.38L363.41 305.86L365.85 301.9L368.29 297.52L370.72 292.74L373.16 287.63L375.6 282.23L378.03 276.65L380.47 270.96L382.9 265.29L385.34 259.73L387.78 254.37L390.21 249.3L392.65 244.58L395.09 240.26L397.52 236.37L399.96 232.92L402.39 229.91L404.83 227.33L407.27 225.16L409.7 223.35L412.14 221.87L414.58 220.67L417.01 219.73L419.45 218.99L421.88 218.43L424.32 218L426.76 217.68L429.19 217.44L431.63 217.28L434.07 217.16L436.5 217.07L438.94 217.01L441.37 216.97L443.81 216.95L446.25 216.93L448.68 216.92L451.12 216.91L453.56 216.91L455.99 216.9L458.43 216.9L460.86 216.9L463.3 216.9L465.74 216.9L468.17 216.9L470.61 216.9L473.05 216.9L475.48 216.9" stroke="#000000" stroke-width="1" fill="none"/>
<g fill="#000000"><rect x="281.52" y="324.4" width="3" height="3"/><rect x="283.95" y="324.4" width="3" height="3"/><rect x="286.39" y="324.4" width="3" height="3"/><rect x="288.83" y="324.4" width="3" height="3"/><rect x="291.26" y="324.4" width="3" height="3"/><rect x="293.7" y="324.4" width="3" height="3"/><rect x="296.14" y="324.4" width="3" height="3"/><rect x="298.57" y="324.4" width="3" height="3"/><rect x="301.01" y="324.4" width="3" height="3"/><rect x="303.44" y="324.4" width="3" height="3"/><rect x="305.88" y="324.39" width="3" height="3"/><rect x="308.32" y="324.39" width="3" height="3"/><rect x="310.75" y="324.38" width="3" height="3"/><rect x="313.19" y="324.37" width="3" height="3"/><rect x="315.63" y="324.35" width="3" height="3"/><rect x="318.06" y="324.32" width="3" height="3"/><rect x="320.5" y="324.28" width="3" height="3"/><rect x="322.93" y="324.22" width="3" height="3"/><rect x="325.37" y="324.13" width="3" height="3"/><rect x="327.81" y="324" width="3" height="3"/><rect x="330.24" y="323.82" width="3" height="3"/><rect x="332.68" y="323.58" width="3" height="3"/><rect x="335.12" y="323.25" width="3" height="3"/><rect x="337.55" y="322.8" width="3" height="3"/><rect x="339.99" y="322.21" width="3" height="3"/><rect x="342.42" y="321.44" width="3" height="3"/><rect x="344.86" y="320.46" width="3" height="3"/><rect x="347.3" y="319.23" width="3" height="3"/><rect x="349.73" y="317.7" width="3" height="3"/><rect x="352.17" y="315.84" width="3" height="3"/><rect x="354.61" y="313.6" width="3" height="3"/><rect x="357.04" y="310.95" width="3" height="3"/><rect x="359.48" y="307.88" width="3" height="3"/><rect x="361.91" y="304.36" width="3" height="3"/><rect x="364.35" y="300.4" width="3" height="3"/><rect x="366.79" y="296.02" width="3" height="3"/><rect x="369.22" y="291.24" width="3" height="3"/><rect x="371.66" y="286.13" width="3" height="3"/><rect x="374.1" y="280.73" width="3" height="3"/><rect x="376.53" y="275.15" width="3" height="3"/><rect x="378.97" y="269.46" width="3" height="3"/><rect x="381.4" y="263.79" width="3" height="3"/><rect x="383.84" y="258.23" width="3" height="3"/><rect x="386.28" y="252.87" width="3" height="3"/><rect x="388.71" y="247.8" width="3" height="3"/><rect x="391.15" y="243.08" width="3" height="3"/><rect x="393.59" y="238.76" width="3" height="3"/><rect x="396.02" y="234.87" width="3" height="3"/><rect x="398.46" y="231.42" width="3" height="3"/><rect x="400.89" y="228.41" width="3" height="3"/><rect x="403.33" y="225.83" width="3" height="3"/><rect x="405.77" y="223.66" width="3" height="3"/><rect x="408.2" y="221.85" width="3" height="3"/><rect x="410.64" y="220.37" width="3" height="3"/><rect x="413.08" y="219.17" width="3" height="3"/><rect x="415.51" y="218.23" width="3" height="3"/><rect x="417.95" y="217.49" width="3" height="3"/><rect x="420.38" y="216.93" width="3" height="3"/><rect x="422.82" y="216.5" width="3" height="3"/><rect x="425.26" y="216.18" width="3" height="3"/><rect x="427.69" y="215.94" width="3" height="3"/><rect x="430.13" y="215.78" width="3" height="3"/><rect x="432.57" y="215.66" width="3" height="3"/><rect x="435" y="215.57" width="3" height="3"/><rect x="437.44" y="215.51" width="3" height="3"/><rect x="439.87" y="215.47" width="3" height="3"/><rect x="442.31" y="215.45" width="3" height="3"/><rect x="444.75" y="215.43" width="3" height="3"/><rect x="447.18" y="215.42" width="3" height="3"/><rect x="449.62" y="215.41" width="3" height="3"/><rect x="452.06" y="215.41" width="3" height="3"/><rect x="454.49" y="215.4" width="3" height="3"/><rect x="456.93" y="215.4" width="3" height="3"/><rect x="459.36" y="215.4" width="3" height="3"/><rect x="461.8" y="215.4" width="3" height="3"/><rect x="464.24" y="215.4" width="3" height="3"/><rect x="466.67" y="215.4" width="3" height="3"/><rect x="469.11" y="215.4" width="3" height="3"/><rect x="471.55" y="215.4" width="3" height="3"/><rect x="473.98" y="215.4" width="3" height="3"/></g>
</g>
<g stroke="#2a2a2a" stroke-width="1" stroke-dasharray="1 1.25" fill="none">
<path d="M585.07 325V206.5"/>
<path d="M650.03 325V206.5"/>
<path d="M521 304.1H715"/>
<path d="M521 282.3H715"/>
<path d="M521 260.5H715"/>
<path d="M521 238.7H715"/>
<path d="M521 216.9H715"/>
</g>
<rect x="520.1" y="206.5" width="194.9" height="119.4" fill="none" stroke="#000" stroke-width="1"/>
<path d="M520.1 325.9v-5.2M533.09 325.9v-2.5M546.09 325.9v-2.5M559.08 325.9v-2.5M572.07 325.9v-2.5M585.07 325.9v-5.2M598.06 325.9v-2.5M611.05 325.9v-2.5M624.05 325.9v-2.5M637.04 325.9v-2.5M650.03 325.9v-5.2M663.03 325.9v-2.5M676.02 325.9v-2.5M689.01 325.9v-2.5M702.01 325.9v-2.5M715 325.9v-5.2M520.1 325.9h6.3M520.1 320.45h3M520.1 315h3M520.1 309.55h3M520.1 304.1h6.3M520.1 298.65h3M520.1 293.2h3M520.1 287.75h3M520.1 282.3h6.3M520.1 276.85h3M520.1 271.4h3M520.1 265.95h3M520.1 260.5h6.3M520.1 255.05h3M520.1 249.6h3M520.1 244.15h3M520.1 238.7h6.3M520.1 233.25h3M520.1 227.8h3M520.1 222.35h3M520.1 216.9h6.3M520.1 211.45h3" stroke="#000" stroke-width="1" fill="none"/>
<g font-size="9.7" font-weight="bold" letter-spacing="-0.12" stroke="#000" stroke-width="0.25">
<text x="520.1" y="337.2" text-anchor="middle">2.6821</text>
<text x="585.07" y="337.2" text-anchor="middle">2.9487</text>
<text x="650.03" y="337.2" text-anchor="middle">3.2154</text>
<text x="715" y="337.2" text-anchor="middle">3.4821</text>
<text x="517.3" y="329.7" text-anchor="end">0</text>
<text x="517.3" y="307.9" text-anchor="end">0.2</text>
<text x="517.3" y="286.1" text-anchor="end">0.4</text>
<text x="517.3" y="264.3" text-anchor="end">0.6</text>
<text x="517.3" y="242.5" text-anchor="end">0.8</text>
<text x="517.3" y="220.7" text-anchor="end">1</text>
</g>
<text transform="translate(494 206.8) rotate(-90)" text-anchor="end" font-size="13.4" font-weight="bold" letter-spacing="-0.25" stroke="#000" stroke-width="0.2">Cumulative proba.</text>
<text x="715" y="353" font-family="Liberation Serif" font-size="14" text-anchor="end">β</text>
<path d="M520.1 236.5H715M520.1 271.5H715M520.1 308.5H715" stroke="#0000ff" stroke-width="1" stroke-dasharray="2.6 1.96" fill="none"/>
<clipPath id="c21"><rect x="519.6" y="203.5" width="195.9" height="123.1"/></clipPath><g clip-path="url(#c21)">
<path d="M521.32 325.9L523.75 325.9L526.19 325.9L528.63 325.9L531.06 325.9L533.5 325.9L535.94 325.89L538.37 325.89L540.81 325.88L543.24 325.87L545.68 325.86L548.12 325.84L550.55 325.81L552.99 325.76L555.43 325.69L557.86 325.59L560.3 325.45L562.73 325.26L565.17 325L567.61 324.65L570.04 324.19L572.48 323.6L574.92 322.83L577.35 321.86L579.79 320.65L582.22 319.17L584.66 317.38L587.1 315.24L589.53 312.74L591.97 309.84L594.41 306.56L596.84 306.56L599.28 298.84L601.71 294.46L604.15 289.8L606.59 284.91L609.02 279.85L611.46 274.68L613.9 269.49L616.33 264.32L618.77 259.25L621.2 254.35L623.64 249.66L626.08 245.25L628.51 241.15L630.95 237.41L633.39 234.04L635.82 231.06L638.26 228.46L640.69 226.22L643.13 224.33L645.57 222.75L648 221.46L650.44 220.4L652.88 219.56L655.31 218.9L657.75 218.38L660.18 217.98L662.62 217.68L665.06 217.46L667.49 217.29L669.93 217.17L672.37 217.09L674.8 217.03L677.24 216.98L679.67 216.96L682.11 216.94L684.55 216.92L686.98 216.91L689.42 216.91L691.86 216.91L694.29 216.9L696.73 216.9L699.16 216.9L701.6 216.9L704.04 216.9L706.47 216.9L708.91 216.9L711.35 216.9L713.78 216.9" stroke="#0000ff" stroke-width="1" fill="none"/>
<g fill="#0000ff"><circle cx="521.32" cy="325.9" r="1.6"/><circle cx="523.75" cy="325.9" r="1.6"/><circle cx="526.19" cy="325.9" r="1.6"/><circle cx="528.63" cy="325.9" r="1.6"/><circle cx="531.06" cy="325.9" r="1.6"/><circle cx="533.5" cy="325.9" r="1.6"/><circle cx="535.94" cy="325.89" r="1.6"/><circle cx="538.37" cy="325.89" r="1.6"/><circle cx="540.81" cy="325.88" r="1.6"/><circle cx="543.24" cy="325.87" r="1.6"/><circle cx="545.68" cy="325.86" r="1.6"/><circle cx="548.12" cy="325.84" r="1.6"/><circle cx="550.55" cy="325.81" r="1.6"/><circle cx="552.99" cy="325.76" r="1.6"/><circle cx="555.43" cy="325.69" r="1.6"/><circle cx="557.86" cy="325.59" r="1.6"/><circle cx="560.3" cy="325.45" r="1.6"/><circle cx="562.73" cy="325.26" r="1.6"/><circle cx="565.17" cy="325" r="1.6"/><circle cx="567.61" cy="324.65" r="1.6"/><circle cx="570.04" cy="324.19" r="1.6"/><circle cx="572.48" cy="323.6" r="1.6"/><circle cx="574.92" cy="322.83" r="1.6"/><circle cx="577.35" cy="321.86" r="1.6"/><circle cx="579.79" cy="320.65" r="1.6"/><circle cx="582.22" cy="319.17" r="1.6"/><circle cx="584.66" cy="317.38" r="1.6"/><circle cx="587.1" cy="315.24" r="1.6"/><circle cx="589.53" cy="312.74" r="1.6"/><circle cx="591.97" cy="309.84" r="1.6"/><circle cx="594.41" cy="306.56" r="1.6"/><circle cx="596.84" cy="306.56" r="1.6"/><circle cx="599.28" cy="298.84" r="1.6"/><circle cx="601.71" cy="294.46" r="1.6"/><circle cx="604.15" cy="289.8" r="1.6"/><circle cx="606.59" cy="284.91" r="1.6"/><circle cx="609.02" cy="279.85" r="1.6"/><circle cx="611.46" cy="274.68" r="1.6"/><circle cx="613.9" cy="269.49" r="1.6"/><circle cx="616.33" cy="264.32" r="1.6"/><circle cx="618.77" cy="259.25" r="1.6"/><circle cx="621.2" cy="254.35" r="1.6"/><circle cx="623.64" cy="249.66" r="1.6"/><circle cx="626.08" cy="245.25" r="1.6"/><circle cx="628.51" cy="241.15" r="1.6"/><circle cx="630.95" cy="237.41" r="1.6"/><circle cx="633.39" cy="234.04" r="1.6"/><circle cx="635.82" cy="231.06" r="1.6"/><circle cx="638.26" cy="228.46" r="1.6"/><circle cx="640.69" cy="226.22" r="1.6"/><circle cx="643.13" cy="224.33" r="1.6"/><circle cx="645.57" cy="222.75" r="1.6"/><circle cx="648" cy="221.46" r="1.6"/><circle cx="650.44" cy="220.4" r="1.6"/><circle cx="652.88" cy="219.56" r="1.6"/><circle cx="655.31" cy="218.9" r="1.6"/><circle cx="657.75" cy="218.38" r="1.6"/><circle cx="660.18" cy="217.98" r="1.6"/><circle cx="662.62" cy="217.68" r="1.6"/><circle cx="665.06" cy="217.46" r="1.6"/><circle cx="667.49" cy="217.29" r="1.6"/><circle cx="669.93" cy="217.17" r="1.6"/><circle cx="672.37" cy="217.09" r="1.6"/><circle cx="674.8" cy="217.03" r="1.6"/><circle cx="677.24" cy="216.98" r="1.6"/><circle cx="679.67" cy="216.96" r="1.6"/><circle cx="682.11" cy="216.94" r="1.6"/><circle cx="684.55" cy="216.92" r="1.6"/><circle cx="686.98" cy="216.91" r="1.6"/><circle cx="689.42" cy="216.91" r="1.6"/><circle cx="691.86" cy="216.91" r="1.6"/><circle cx="694.29" cy="216.9" r="1.6"/><circle cx="696.73" cy="216.9" r="1.6"/><circle cx="699.16" cy="216.9" r="1.6"/><circle cx="701.6" cy="216.9" r="1.6"/><circle cx="704.04" cy="216.9" r="1.6"/><circle cx="706.47" cy="216.9" r="1.6"/><circle cx="708.91" cy="216.9" r="1.6"/><circle cx="711.35" cy="216.9" r="1.6"/><circle cx="713.78" cy="216.9" r="1.6"/></g>
<path d="M521.32 325.9L523.75 325.9L526.19 325.89L528.63 325.89L531.06 325.88L533.5 325.86L535.94 325.84L538.37 325.81L540.81 325.77L543.24 325.71L545.68 325.62L548.12 325.49L550.55 325.32L552.99 325.09L555.43 324.78L557.86 324.37L560.3 323.84L562.73 323.16L565.17 322.3L567.61 321.22L570.04 319.89L572.48 318.27L574.92 316.32L577.35 314.02L579.79 311.34L582.22 308.26L584.66 304.8L587.1 300.96L589.53 296.78L591.97 292.3L594.41 287.58L596.84 282.68L599.28 277.64L601.71 272.53L604.15 267.4L606.59 262.3L609.02 257.28L611.46 252.41L613.9 247.75L616.33 243.37L618.77 239.3L621.2 235.61L623.64 232.32L626.08 229.44L628.51 226.97L630.95 224.88L633.39 223.14L635.82 221.72L638.26 220.58L640.69 219.67L643.13 218.96L645.57 218.41L648 217.99L650.44 217.68L652.88 217.45L655.31 217.28L657.75 217.16L660.18 217.08L662.62 217.02L665.06 216.98L667.49 216.95L669.93 216.93L672.37 216.92L674.8 216.91L677.24 216.91L679.67 216.9L682.11 216.9L684.55 216.9L686.98 216.9L689.42 216.9L691.86 216.9L694.29 216.9L696.73 216.9L699.16 216.9L701.6 216.9L704.04 216.9L706.47 216.9L708.91 216.9L711.35 216.9L713.78 216.9" stroke="#00ff00" stroke-width="1" fill="none"/>
<g fill="#00ff00"><rect x="519.82" y="324.4" width="3" height="3"/><rect x="522.25" y="324.4" width="3" height="3"/><rect x="524.69" y="324.39" width="3" height="3"/><rect x="527.13" y="324.39" width="3" height="3"/><rect x="529.56" y="324.38" width="3" height="3"/><rect x="532" y="324.36" width="3" height="3"/><rect x="534.44" y="324.34" width="3" height="3"/><rect x="536.87" y="324.31" width="3" height="3"/><rect x="539.31" y="324.27" width="3" height="3"/><rect x="541.74" y="324.21" width="3" height="3"/><rect x="544.18" y="324.12" width="3" height="3"/><rect x="546.62" y="323.99" width="3" height="3"/><rect x="549.05" y="323.82" width="3" height="3"/><rect x="551.49" y="323.59" width="3" height="3"/><rect x="553.93" y="323.28" width="3" height="3"/><rect x="556.36" y="322.87" width="3" height="3"/><rect x="558.8" y="322.34" width="3" height="3"/><rect x="561.23" y="321.66" width="3" height="3"/><rect x="563.67" y="320.8" width="3" height="3"/><rect x="566.11" y="319.72" width="3" height="3"/><rect x="568.54" y="318.39" width="3" height="3"/><rect x="570.98" y="316.77" width="3" height="3"/><rect x="573.42" y="314.82" width="3" height="3"/><rect x="575.85" y="312.52" width="3" height="3"/><rect x="578.29" y="309.84" width="3" height="3"/><rect x="580.72" y="306.76" width="3" height="3"/><rect x="583.16" y="303.3" width="3" height="3"/><rect x="585.6" y="299.46" width="3" height="3"/><rect x="588.03" y="295.28" width="3" height="3"/><rect x="590.47" y="290.8" width="3" height="3"/><rect x="592.91" y="286.08" width="3" height="3"/><rect x="595.34" y="281.18" width="3" height="3"/><rect x="597.78" y="276.14" width="3" height="3"/><rect x="600.21" y="271.03" width="3" height="3"/><rect x="602.65" y="265.9" width="3" height="3"/><rect x="605.09" y="260.8" width="3" height="3"/><rect x="607.52" y="255.78" width="3" height="3"/><rect x="609.96" y="250.91" width="3" height="3"/><rect x="612.4" y="246.25" width="3" height="3"/><rect x="614.83" y="241.87" width="3" height="3"/><rect x="617.27" y="237.8" width="3" height="3"/><rect x="619.7" y="234.11" width="3" height="3"/><rect x="622.14" y="230.82" width="3" height="3"/><rect x="624.58" y="227.94" width="3" height="3"/><rect x="627.01" y="225.47" width="3" height="3"/><rect x="629.45" y="223.38" width="3" height="3"/><rect x="631.89" y="221.64" width="3" height="3"/><rect x="634.32" y="220.22" width="3" height="3"/><rect x="636.76" y="219.08" width="3" height="3"/><rect x="639.19" y="218.17" width="3" height="3"/><rect x="641.63" y="217.46" width="3" height="3"/><rect x="644.07" y="216.91" width="3" height="3"/><rect x="646.5" y="216.49" width="3" height="3"/><rect x="648.94" y="216.18" width="3" height="3"/><rect x="651.38" y="215.95" width="3" height="3"/><rect x="653.81" y="215.78" width="3" height="3"/><rect x="656.25" y="215.66" width="3" height="3"/><rect x="658.68" y="215.58" width="3" height="3"/><rect x="661.12" y="215.52" width="3" height="3"/><rect x="663.56" y="215.48" width="3" height="3"/><rect x="665.99" y="215.45" width="3" height="3"/><rect x="668.43" y="215.43" width="3" height="3"/><rect x="670.87" y="215.42" width="3" height="3"/><rect x="673.3" y="215.41" width="3" height="3"/><rect x="675.74" y="215.41" width="3" height="3"/><rect x="678.17" y="215.4" width="3" height="3"/><rect x="680.61" y="215.4" width="3" height="3"/><rect x="683.05" y="215.4" width="3" height="3"/><rect x="685.48" y="215.4" width="3" height="3"/><rect x="687.92" y="215.4" width="3" height="3"/><rect x="690.36" y="215.4" width="3" height="3"/><rect x="692.79" y="215.4" width="3" height="3"/><rect x="695.23" y="215.4" width="3" height="3"/><rect x="697.66" y="215.4" width="3" height="3"/><rect x="700.1" y="215.4" width="3" height="3"/><rect x="702.54" y="215.4" width="3" height="3"/><rect x="704.97" y="215.4" width="3" height="3"/><rect x="707.41" y="215.4" width="3" height="3"/><rect x="709.85" y="215.4" width="3" height="3"/><rect x="712.28" y="215.4" width="3" height="3"/></g>
<path d="M521.32 325.9L523.75 325.9L526.19 325.9L528.63 325.9L531.06 325.9L533.5 325.9L535.94 325.9L538.37 325.9L540.81 325.89L543.24 325.89L545.68 325.88L548.12 325.87L550.55 325.86L552.99 325.83L555.43 325.8L557.86 325.74L560.3 325.67L562.73 325.56L565.17 325.41L567.61 325.19L570.04 324.9L572.48 324.52L574.92 324.01L577.35 323.34L579.79 322.49L582.22 321.41L584.66 320.07L587.1 318.42L589.53 316.44L591.97 314.08L594.41 311.33L596.84 311.33L599.28 304.6L601.71 300.66L604.15 296.37L606.59 291.78L609.02 286.94L611.46 281.94L613.9 276.82L616.33 271.65L618.77 266.49L621.2 261.41L623.64 256.46L626.08 251.7L628.51 247.18L630.95 242.96L633.39 239.06L635.82 235.53L638.26 232.38L640.69 229.62L643.13 227.22L645.57 225.19L648 223.47L650.44 222.06L652.88 220.9L655.31 219.96L657.75 219.22L660.18 218.64L662.62 218.18L665.06 217.84L667.49 217.58L669.93 217.38L672.37 217.24L674.8 217.13L677.24 217.06L679.67 217.01L682.11 216.97L684.55 216.95L686.98 216.93L689.42 216.92L691.86 216.91L694.29 216.91L696.73 216.9L699.16 216.9L701.6 216.9L704.04 216.9L706.47 216.9L708.91 216.9L711.35 216.9L713.78 216.9" stroke="#ff0000" stroke-width="1" fill="none"/>
<g fill="#ff0000"><rect x="519.82" y="324.4" width="3" height="3"/><rect x="522.25" y="324.4" width="3" height="3"/><rect x="524.69" y="324.4" width="3" height="3"/><rect x="527.13" y="324.4" width="3" height="3"/><rect x="529.56" y="324.4" width="3" height="3"/><rect x="532" y="324.4" width="3" height="3"/><rect x="534.44" y="324.4" width="3" height="3"/><rect x="536.87" y="324.4" width="3" height="3"/><rect x="539.31" y="324.39" width="3" height="3"/><rect x="541.74" y="324.39" width="3" height="3"/><rect x="544.18" y="324.38" width="3" height="3"/><rect x="546.62" y="324.37" width="3" height="3"/><rect x="549.05" y="324.36" width="3" height="3"/><rect x="551.49" y="324.33" width="3" height="3"/><rect x="553.93" y="324.3" width="3" height="3"/><rect x="556.36" y="324.24" width="3" height="3"/><rect x="558.8" y="324.17" width="3" height="3"/><rect x="561.23" y="324.06" width="3" height="3"/><rect x="563.67" y="323.91" width="3" height="3"/><rect x="566.11" y="323.69" width="3" height="3"/><rect x="568.54" y="323.4" width="3" height="3"/><rect x="570.98" y="323.02" width="3" height="3"/><rect x="573.42" y="322.51" width="3" height="3"/><rect x="575.85" y="321.84" width="3" height="3"/><rect x="578.29" y="320.99" width="3" height="3"/><rect x="580.72" y="319.91" width="3" height="3"/><rect x="583.16" y="318.57" width="3" height="3"/><rect x="585.6" y="316.92" width="3" height="3"/><rect x="588.03" y="314.94" width="3" height="3"/><rect x="590.47" y="312.58" width="3" height="3"/><rect x="592.91" y="309.83" width="3" height="3"/><rect x="595.34" y="309.83" width="3" height="3"/><rect x="597.78" y="303.1" width="3" height="3"/><rect x="600.21" y="299.16" width="3" height="3"/><rect x="602.65" y="294.87" width="3" height="3"/><rect x="605.09" y="290.28" width="3" height="3"/><rect x="607.52" y="285.44" width="3" height="3"/><rect x="609.96" y="280.44" width="3" height="3"/><rect x="612.4" y="275.32" width="3" height="3"/><rect x="614.83" y="270.15" width="3" height="3"/><rect x="617.27" y="264.99" width="3" height="3"/><rect x="619.7" y="259.91" width="3" height="3"/><rect x="622.14" y="254.96" width="3" height="3"/><rect x="624.58" y="250.2" width="3" height="3"/><rect x="627.01" y="245.68" width="3" height="3"/><rect x="629.45" y="241.46" width="3" height="3"/><rect x="631.89" y="237.56" width="3" height="3"/><rect x="634.32" y="234.03" width="3" height="3"/><rect x="636.76" y="230.88" width="3" height="3"/><rect x="639.19" y="228.12" width="3" height="3"/><rect x="641.63" y="225.72" width="3" height="3"/><rect x="644.07" y="223.69" width="3" height="3"/><rect x="646.5" y="221.97" width="3" height="3"/><rect x="648.94" y="220.56" width="3" height="3"/><rect x="651.38" y="219.4" width="3" height="3"/><rect x="653.81" y="218.46" width="3" height="3"/><rect x="656.25" y="217.72" width="3" height="3"/><rect x="658.68" y="217.14" width="3" height="3"/><rect x="661.12" y="216.68" width="3" height="3"/><rect x="663.56" y="216.34" width="3" height="3"/><rect x="665.99" y="216.08" width="3" height="3"/><rect x="668.43" y="215.88" width="3" height="3"/><rect x="670.87" y="215.74" width="3" height="3"/><rect x="673.3" y="215.63" width="3" height="3"/><rect x="675.74" y="215.56" width="3" height="3"/><rect x="678.17" y="215.51" width="3" height="3"/><rect x="680.61" y="215.47" width="3" height="3"/><rect x="683.05" y="215.45" width="3" height="3"/><rect x="685.48" y="215.43" width="3" height="3"/><rect x="687.92" y="215.42" width="3" height="3"/><rect x="690.36" y="215.41" width="3" height="3"/><rect x="692.79" y="215.41" width="3" height="3"/><rect x="695.23" y="215.4" width="3" height="3"/><rect x="697.66" y="215.4" width="3" height="3"/><rect x="700.1" y="215.4" width="3" height="3"/><rect x="702.54" y="215.4" width="3" height="3"/><rect x="704.97" y="215.4" width="3" height="3"/><rect x="707.41" y="215.4" width="3" height="3"/><rect x="709.85" y="215.4" width="3" height="3"/><rect x="712.28" y="215.4" width="3" height="3"/></g>
<path d="M521.32 325.9L523.75 325.9L526.19 325.9L528.63 325.9L531.06 325.89L533.5 325.89L535.94 325.88L538.37 325.86L540.81 325.84L543.24 325.81L545.68 325.77L548.12 325.7L550.55 325.6L552.99 325.46L555.43 325.27L557.86 325.01L560.3 324.65L562.73 324.18L565.17 323.56L567.61 322.76L570.04 321.74L572.48 320.46L574.92 318.88L577.35 316.97L579.79 314.68L582.22 311.98L584.66 308.87L587.1 305.34L589.53 301.4L591.97 297.09L594.41 292.45L596.84 287.54L599.28 282.43L601.71 277.18L604.15 271.86L606.59 266.54L609.02 261.28L611.46 256.15L613.9 251.22L616.33 246.55L618.77 242.19L621.2 238.2L623.64 234.61L626.08 231.43L628.51 228.67L630.95 226.31L633.39 224.33L635.82 222.69L638.26 221.35L640.69 220.28L643.13 219.44L645.57 218.78L648 218.27L650.44 217.89L652.88 217.6L655.31 217.39L657.75 217.24L660.18 217.13L662.62 217.05L665.06 217L667.49 216.97L669.93 216.94L672.37 216.93L674.8 216.92L677.24 216.91L679.67 216.91L682.11 216.9L684.55 216.9L686.98 216.9L689.42 216.9L691.86 216.9L694.29 216.9L696.73 216.9L699.16 216.9L701.6 216.9L704.04 216.9L706.47 216.9L708.91 216.9L711.35 216.9L713.78 216.9" stroke="#000000" stroke-width="1" fill="none"/>
<g fill="#000000"><rect x="519.82" y="324.4" width="3" height="3"/><rect x="522.25" y="324.4" width="3" height="3"/><rect x="524.69" y="324.4" width="3" height="3"/><rect x="527.13" y="324.4" width="3" height="3"/><rect x="529.56" y="324.39" width="3" height="3"/><rect x="532" y="324.39" width="3" height="3"/><rect x="534.44" y="324.38" width="3" height="3"/><rect x="536.87" y="324.36" width="3" height="3"/><rect x="539.31" y="324.34" width="3" height="3"/><rect x="541.74" y="324.31" width="3" height="3"/><rect x="544.18" y="324.27" width="3" height="3"/><rect x="546.62" y="324.2" width="3" height="3"/><rect x="549.05" y="324.1" width="3" height="3"/><rect x="551.49" y="323.96" width="3" height="3"/><rect x="553.93" y="323.77" width="3" height="3"/><rect x="556.36" y="323.51" width="3" height="3"/><rect x="558.8" y="323.15" width="3" height="3"/><rect x="561.23" y="322.68" width="3" height="3"/><rect x="563.67" y="322.06" width="3" height="3"/><rect x="566.11" y="321.26" width="3" height="3"/><rect x="568.54" y="320.24" width="3" height="3"/><rect x="570.98" y="318.96" width="3" height="3"/><rect x="573.42" y="317.38" width="3" height="3"/><rect x="575.85" y="315.47" width="3" height="3"/><rect x="578.29" y="313.18" width="3" height="3"/><rect x="580.72" y="310.48" width="3" height="3"/><rect x="583.16" y="307.37" width="3" height="3"/><rect x="585.6" y="303.84" width="3" height="3"/><rect x="588.03" y="299.9" width="3" height="3"/><rect x="590.47" y="295.59" width="3" height="3"/><rect x="592.91" y="290.95" width="3" height="3"/><rect x="595.34" y="286.04" width="3" height="3"/><rect x="597.78" y="280.93" width="3" height="3"/><rect x="600.21" y="275.68" width="3" height="3"/><rect x="602.65" y="270.36" width="3" height="3"/><rect x="605.09" y="265.04" width="3" height="3"/><rect x="607.52" y="259.78" width="3" height="3"/><rect x="609.96" y="254.65" width="3" height="3"/><rect x="612.4" y="249.72" width="3" height="3"/><rect x="614.83" y="245.05" width="3" height="3"/><rect x="617.27" y="240.69" width="3" height="3"/><rect x="619.7" y="236.7" width="3" height="3"/><rect x="622.14" y="233.11" width="3" height="3"/><rect x="624.58" y="229.93" width="3" height="3"/><rect x="627.01" y="227.17" width="3" height="3"/><rect x="629.45" y="224.81" width="3" height="3"/><rect x="631.89" y="222.83" width="3" height="3"/><rect x="634.32" y="221.19" width="3" height="3"/><rect x="636.76" y="219.85" width="3" height="3"/><rect x="639.19" y="218.78" width="3" height="3"/><rect x="641.63" y="217.94" width="3" height="3"/><rect x="644.07" y="217.28" width="3" height="3"/><rect x="646.5" y="216.77" width="3" height="3"/><rect x="648.94" y="216.39" width="3" height="3"/><rect x="651.38" y="216.1" width="3" height="3"/><rect x="653.81" y="215.89" width="3" height="3"/><rect x="656.25" y="215.74" width="3" height="3"/><rect x="658.68" y="215.63" width="3" height="3"/><rect x="661.12" y="215.55" width="3" height="3"/><rect x="663.56" y="215.5" width="3" height="3"/><rect x="665.99" y="215.47" width="3" height="3"/><rect x="668.43" y="215.44" width="3" height="3"/><rect x="670.87" y="215.43" width="3" height="3"/><rect x="673.3" y="215.42" width="3" height="3"/><rect x="675.74" y="215.41" width="3" height="3"/><rect x="678.17" y="215.41" width="3" height="3"/><rect x="680.61" y="215.4" width="3" height="3"/><rect x="683.05" y="215.4" width="3" height="3"/><rect x="685.48" y="215.4" width="3" height="3"/><rect x="687.92" y="215.4" width="3" height="3"/><rect x="690.36" y="215.4" width="3" height="3"/><rect x="692.79" y="215.4" width="3" height="3"/><rect x="695.23" y="215.4" width="3" height="3"/><rect x="697.66" y="215.4" width="3" height="3"/><rect x="700.1" y="215.4" width="3" height="3"/><rect x="702.54" y="215.4" width="3" height="3"/><rect x="704.97" y="215.4" width="3" height="3"/><rect x="707.41" y="215.4" width="3" height="3"/><rect x="709.85" y="215.4" width="3" height="3"/><rect x="712.28" y="215.4" width="3" height="3"/></g>
</g>
<g font-size="10.2" font-weight="bold" word-spacing="0.4" stroke-width="0.15">
<text x="53.2" y="55.2" font-size="10" stroke="#000">JLA-P</text>
<text x="49.6" y="213.7" fill="#0000ff" stroke="#0000ff">standard</text>
<text x="49.6" y="224.8" fill="#00ff00" stroke="#00ff00">sampling</text>
<text x="140.1" y="300.8" fill="#ff0000" stroke="#ff0000">standard + clipping</text>
<text x="140.1" y="311.5" fill="#000" stroke="#000">sampling + clipping</text>
</g>
</svg></body></html>
